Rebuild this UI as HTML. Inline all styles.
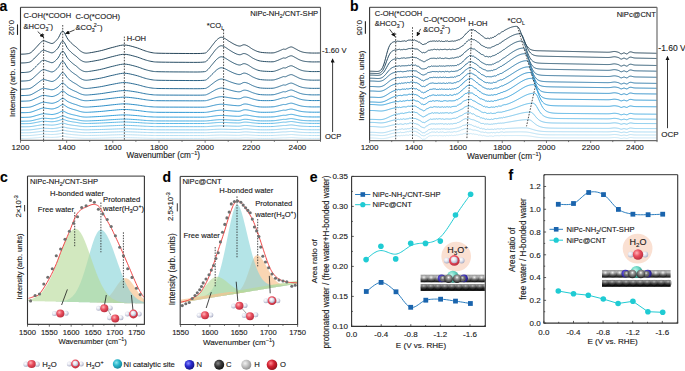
<!DOCTYPE html>
<html><head><meta charset="utf-8"><style>
html,body{margin:0;padding:0;background:#fff;}
svg{display:block;}
text{font-family:"Liberation Sans", sans-serif; stroke:#1a1a1a; stroke-width:0.22px; stroke-opacity:0.6;}
</style></head><body>
<svg width="685" height="371" viewBox="0 0 685 371" font-family='"Liberation Sans", sans-serif'>
<defs>
<marker id="ah" viewBox="0 0 10 10" refX="9" refY="5" markerWidth="4.2" markerHeight="4.2" orient="auto-start-reverse" markerUnits="userSpaceOnUse"><path d="M0 0 L10 5 L0 10 z" fill="#111"/></marker>
<radialGradient id="gO" cx="0.38" cy="0.35" r="0.7"><stop offset="0" stop-color="#ffb4b8"/><stop offset="0.45" stop-color="#ea5060"/><stop offset="1" stop-color="#b82a3a"/></radialGradient>
<radialGradient id="gH" cx="0.38" cy="0.35" r="0.7"><stop offset="0" stop-color="#ffffff"/><stop offset="0.45" stop-color="#e4e6f0"/><stop offset="1" stop-color="#a4a8c0"/></radialGradient>
<radialGradient id="gNi" cx="0.38" cy="0.35" r="0.7"><stop offset="0" stop-color="#8fe6ee"/><stop offset="0.45" stop-color="#2ab8cc"/><stop offset="1" stop-color="#157f95"/></radialGradient>
<radialGradient id="gN" cx="0.38" cy="0.35" r="0.7"><stop offset="0" stop-color="#8a8cff"/><stop offset="0.45" stop-color="#2a2ad0"/><stop offset="1" stop-color="#14147a"/></radialGradient>
<radialGradient id="gC" cx="0.38" cy="0.35" r="0.7"><stop offset="0" stop-color="#8a8a8a"/><stop offset="0.45" stop-color="#3a3a3a"/><stop offset="1" stop-color="#111111"/></radialGradient>
<radialGradient id="gHl" cx="0.38" cy="0.35" r="0.7"><stop offset="0" stop-color="#f2f2f2"/><stop offset="0.45" stop-color="#c4c4c4"/><stop offset="1" stop-color="#8a8a8a"/></radialGradient>
<radialGradient id="gOl" cx="0.38" cy="0.35" r="0.7"><stop offset="0" stop-color="#ff8a90"/><stop offset="0.45" stop-color="#d42232"/><stop offset="1" stop-color="#8a1018"/></radialGradient>
<radialGradient id="gCs" cx="0.38" cy="0.35" r="0.7"><stop offset="0" stop-color="#b0b0b0"/><stop offset="0.45" stop-color="#555555"/><stop offset="1" stop-color="#1a1a1a"/></radialGradient>
<radialGradient id="gNis" cx="0.38" cy="0.35" r="0.7"><stop offset="0" stop-color="#c4f5ea"/><stop offset="0.45" stop-color="#6cd9c6"/><stop offset="1" stop-color="#2a8f80"/></radialGradient>
<linearGradient id="gRowT" x1="0" y1="0" x2="0" y2="1"><stop offset="0" stop-color="#9a9a9a"/><stop offset="0.3" stop-color="#c0c0c0"/><stop offset="0.65" stop-color="#5a5a5a"/><stop offset="1" stop-color="#0e0e0e"/></linearGradient>
<linearGradient id="gRowB" x1="0" y1="0" x2="0" y2="1"><stop offset="0" stop-color="#808080"/><stop offset="0.25" stop-color="#8c8c8c"/><stop offset="0.6" stop-color="#262626"/><stop offset="1" stop-color="#000"/></linearGradient>
<radialGradient id="gSphT" cx="0.45" cy="0.35" r="0.6"><stop offset="0" stop-color="#ffffff" stop-opacity="0.85"/><stop offset="0.3" stop-color="#d0d0d0" stop-opacity="0.5"/><stop offset="0.75" stop-color="#505050" stop-opacity="0.1"/><stop offset="1" stop-color="#000" stop-opacity="0.35"/></radialGradient>
<radialGradient id="gSphB" cx="0.45" cy="0.3" r="0.62"><stop offset="0" stop-color="#e0e0e0" stop-opacity="0.55"/><stop offset="0.4" stop-color="#808080" stop-opacity="0.2"/><stop offset="1" stop-color="#000" stop-opacity="0.4"/></radialGradient>
<radialGradient id="gSphC" cx="0.5" cy="0.35" r="0.6"><stop offset="0" stop-color="#ffffff"/><stop offset="0.3" stop-color="#a0a0a0"/><stop offset="0.75" stop-color="#555"/><stop offset="1" stop-color="#2a2a2a"/></radialGradient>
<radialGradient id="gN2" cx="0.4" cy="0.4" r="0.65"><stop offset="0" stop-color="#7a6ae0"/><stop offset="0.6" stop-color="#3a2eb0"/><stop offset="1" stop-color="#1c1670"/></radialGradient>
</defs>
<rect width="685" height="371" fill="#fff"/>
<path d="M20.5 138.4 L21.14 138.4 L22.04 138.4 L23.1 138.39 L24.22 138.39 L25.31 138.38 L26.27 138.37 L27.09 138.36 L27.85 138.36 L28.58 138.35 L29.3 138.33 L30.06 138.3 L30.88 138.26 L31.79 138.2 L32.76 138.12 L33.77 138.03 L34.77 137.94 L35.75 137.85 L36.65 137.77 L37.51 137.69 L38.35 137.61 L39.15 137.53 L39.91 137.45 L40.62 137.39 L41.27 137.34 L41.82 137.3 L42.28 137.27 L42.68 137.26 L43.08 137.25 L43.52 137.24 L44.04 137.24 L44.65 137.25 L45.3 137.27 L46 137.3 L46.72 137.33 L47.46 137.35 L48.19 137.37 L48.93 137.4 L49.68 137.42 L50.44 137.45 L51.22 137.47 L52.01 137.48 L52.81 137.46 L53.63 137.42 L54.47 137.37 L55.33 137.3 L56.19 137.22 L57.05 137.14 L57.88 137.05 L58.7 136.94 L59.51 136.8 L60.31 136.66 L61.11 136.53 L61.91 136.43 L62.73 136.4 L63.57 136.44 L64.42 136.54 L65.28 136.68 L66.14 136.83 L66.99 136.98 L67.81 137.1 L68.61 137.19 L69.41 137.27 L70.19 137.34 L70.95 137.41 L71.7 137.47 L72.42 137.53 L73.11 137.59 L73.77 137.63 L74.41 137.68 L75.05 137.72 L75.69 137.76 L76.35 137.81 L77.03 137.86 L77.71 137.92 L78.41 137.98 L79.11 138.04 L79.81 138.09 L80.5 138.14 L81.18 138.18 L81.85 138.22 L82.52 138.25 L83.2 138.28 L83.91 138.3 L84.65 138.31 L85.37 138.32 L86.04 138.33 L86.73 138.33 L87.53 138.32 L88.5 138.31 L89.73 138.3 L91.28 138.27 L93.1 138.25 L95.1 138.22 L97.18 138.18 L99.27 138.14 L101.27 138.1 L103.19 138.06 L105.12 138.02 L107.04 137.97 L108.96 137.92 L110.88 137.87 L112.81 137.83 L114.73 137.78 L116.65 137.74 L118.58 137.7 L120.5 137.66 L122.42 137.63 L124.35 137.63 L126.3 137.64 L128.28 137.66 L130.26 137.7 L132.21 137.75 L134.1 137.8 L135.88 137.84 L137.58 137.89 L139.22 137.94 L140.79 138 L142.29 138.05 L143.74 138.1 L145.12 138.14 L146.4 138.17 L147.59 138.21 L148.72 138.23 L149.82 138.26 L150.91 138.28 L152.04 138.3 L153.01 138.31 L153.75 138.32 L154.49 138.33 L155.46 138.34 L156.87 138.34 L158.96 138.35 L161.9 138.35 L165.54 138.36 L169.63 138.36 L173.92 138.37 L178.14 138.37 L182.04 138.37 L185.82 138.38 L189.73 138.38 L193.58 138.39 L197.17 138.39 L200.31 138.39 L202.81 138.39 L204.51 138.39 L205.54 138.38 L206.12 138.37 L206.48 138.36 L206.84 138.35 L207.42 138.34 L208.19 138.32 L208.96 138.29 L209.73 138.27 L210.5 138.24 L211.27 138.21 L212.04 138.19 L212.81 138.16 L213.59 138.13 L214.38 138.11 L215.15 138.08 L215.91 138.06 L216.65 138.04 L217.38 138.02 L218.08 138 L218.77 137.99 L219.46 137.98 L220.13 137.97 L220.81 137.97 L221.47 137.96 L222.11 137.97 L222.74 137.97 L223.38 137.98 L224.04 137.99 L224.73 138 L225.45 138.01 L226.18 138.02 L226.92 138.03 L227.7 138.05 L228.5 138.06 L229.35 138.08 L230.25 138.09 L231.23 138.11 L232.23 138.12 L233.24 138.14 L234.21 138.15 L235.12 138.16 L235.96 138.17 L236.76 138.18 L237.52 138.19 L238.27 138.19 L239 138.18 L239.73 138.16 L240.45 138.13 L241.16 138.07 L241.85 138.01 L242.53 137.95 L243.21 137.9 L243.88 137.87 L244.53 137.85 L245.14 137.84 L245.75 137.84 L246.37 137.85 L247.05 137.87 L247.81 137.89 L248.65 137.92 L249.55 137.97 L250.5 138.02 L251.5 138.07 L252.53 138.12 L253.58 138.17 L254.61 138.21 L255.63 138.25 L256.68 138.29 L257.81 138.33 L259.07 138.35 L260.5 138.37 L262.24 138.39 L264.26 138.39 L266.41 138.38 L268.53 138.37 L270.46 138.36 L272.04 138.35 L273.21 138.33 L274.11 138.31 L274.81 138.28 L275.41 138.25 L275.99 138.22 L276.65 138.19 L277.39 138.16 L278.12 138.12 L278.85 138.08 L279.54 138.04 L280.2 138 L280.81 137.97 L281.36 137.94 L281.87 137.91 L282.34 137.88 L282.77 137.86 L283.18 137.84 L283.58 137.83 L283.92 137.83 L284.21 137.83 L284.47 137.85 L284.74 137.86 L285.05 137.86 L285.42 137.85 L285.88 137.83 L286.41 137.8 L286.97 137.76 L287.54 137.72 L288.11 137.68 L288.65 137.65 L289.16 137.62 L289.64 137.59 L290.11 137.57 L290.59 137.56 L291.1 137.55 L291.65 137.56 L292.25 137.58 L292.88 137.61 L293.54 137.65 L294.22 137.7 L294.9 137.75 L295.58 137.8 L296.25 137.85 L296.93 137.9 L297.61 137.95 L298.3 138 L299.01 138.05 L299.73 138.09 L300.45 138.13 L301.15 138.16 L301.87 138.19 L302.62 138.22 L303.44 138.25 L304.35 138.27 L305.34 138.29 L306.4 138.31 L307.52 138.33 L308.71 138.34 L309.96 138.36 L311.27 138.37 L312.78 138.37 L314.52 138.37 L316.32 138.37 L318.02 138.37 L319.47 138.37 L320.5 138.37" stroke="#c8e7f7" stroke-width="1.0" fill="none"/>
<path d="M20.5 135.6 L21.14 135.6 L22.04 135.6 L23.1 135.59 L24.22 135.59 L25.31 135.58 L26.27 135.57 L27.09 135.56 L27.85 135.55 L28.58 135.54 L29.3 135.52 L30.06 135.49 L30.88 135.44 L31.79 135.37 L32.76 135.28 L33.77 135.18 L34.77 135.07 L35.75 134.96 L36.65 134.87 L37.51 134.78 L38.35 134.68 L39.15 134.59 L39.91 134.51 L40.62 134.44 L41.27 134.38 L41.82 134.33 L42.28 134.3 L42.68 134.28 L43.08 134.27 L43.52 134.27 L44.04 134.27 L44.65 134.28 L45.3 134.3 L46 134.33 L46.72 134.36 L47.46 134.39 L48.19 134.42 L48.93 134.44 L49.68 134.47 L50.44 134.5 L51.22 134.53 L52.01 134.53 L52.81 134.51 L53.63 134.47 L54.47 134.41 L55.33 134.33 L56.19 134.24 L57.05 134.15 L57.88 134.04 L58.7 133.92 L59.51 133.76 L60.31 133.59 L61.11 133.44 L61.91 133.33 L62.73 133.29 L63.57 133.34 L64.42 133.46 L65.28 133.61 L66.14 133.79 L66.99 133.96 L67.81 134.09 L68.61 134.19 L69.41 134.29 L70.19 134.37 L70.95 134.45 L71.7 134.52 L72.42 134.59 L73.11 134.65 L73.77 134.71 L74.41 134.76 L75.05 134.81 L75.69 134.86 L76.35 134.91 L77.03 134.97 L77.71 135.04 L78.41 135.11 L79.11 135.17 L79.81 135.24 L80.5 135.29 L81.18 135.34 L81.85 135.38 L82.52 135.41 L83.2 135.45 L83.91 135.47 L84.65 135.49 L85.37 135.5 L86.04 135.51 L86.73 135.51 L87.53 135.5 L88.5 135.49 L89.73 135.47 L91.28 135.44 L93.1 135.41 L95.1 135.38 L97.18 135.34 L99.27 135.29 L101.27 135.25 L103.19 135.2 L105.12 135.14 L107.04 135.09 L108.96 135.03 L110.88 134.97 L112.81 134.92 L114.73 134.88 L116.65 134.82 L118.58 134.77 L120.5 134.73 L122.42 134.7 L124.35 134.69 L126.3 134.71 L128.28 134.74 L130.26 134.78 L132.21 134.83 L134.1 134.89 L135.88 134.94 L137.58 134.99 L139.22 135.05 L140.79 135.11 L142.29 135.17 L143.74 135.23 L145.12 135.28 L146.4 135.32 L147.59 135.36 L148.72 135.39 L149.82 135.41 L150.91 135.44 L152.04 135.46 L153.01 135.48 L153.75 135.49 L154.49 135.5 L155.46 135.5 L156.87 135.51 L158.96 135.52 L161.9 135.52 L165.54 135.53 L169.63 135.53 L173.92 135.54 L178.14 135.54 L182.04 135.54 L185.82 135.55 L189.73 135.55 L193.58 135.56 L197.17 135.56 L200.31 135.56 L202.81 135.56 L204.51 135.55 L205.54 135.55 L206.12 135.54 L206.48 135.53 L206.84 135.51 L207.42 135.49 L208.19 135.47 L208.96 135.44 L209.73 135.41 L210.5 135.38 L211.27 135.34 L212.04 135.31 L212.81 135.28 L213.59 135.25 L214.38 135.22 L215.15 135.19 L215.91 135.16 L216.65 135.13 L217.38 135.11 L218.08 135.09 L218.77 135.07 L219.46 135.06 L220.13 135.05 L220.81 135.04 L221.47 135.04 L222.11 135.05 L222.74 135.05 L223.38 135.06 L224.04 135.07 L224.73 135.08 L225.45 135.09 L226.18 135.11 L226.92 135.12 L227.7 135.14 L228.5 135.16 L229.35 135.18 L230.25 135.19 L231.23 135.21 L232.23 135.23 L233.24 135.25 L234.21 135.27 L235.12 135.28 L235.96 135.29 L236.76 135.3 L237.52 135.31 L238.27 135.31 L239 135.3 L239.73 135.28 L240.45 135.23 L241.16 135.16 L241.85 135.09 L242.53 135.01 L243.21 134.94 L243.88 134.9 L244.53 134.88 L245.14 134.87 L245.75 134.87 L246.37 134.88 L247.05 134.9 L247.81 134.93 L248.65 134.97 L249.55 135.02 L250.5 135.09 L251.5 135.15 L252.53 135.22 L253.58 135.27 L254.61 135.32 L255.63 135.38 L256.68 135.42 L257.81 135.47 L259.07 135.5 L260.5 135.53 L262.24 135.54 L264.26 135.55 L266.41 135.54 L268.53 135.53 L270.46 135.52 L272.04 135.5 L273.21 135.48 L274.11 135.45 L274.81 135.41 L275.41 135.38 L275.99 135.34 L276.65 135.3 L277.39 135.26 L278.12 135.21 L278.85 135.16 L279.54 135.12 L280.2 135.07 L280.81 135.03 L281.36 134.99 L281.87 134.95 L282.34 134.92 L282.77 134.89 L283.18 134.87 L283.58 134.85 L283.92 134.85 L284.21 134.86 L284.47 134.87 L284.74 134.89 L285.05 134.89 L285.42 134.88 L285.88 134.86 L286.41 134.81 L286.97 134.76 L287.54 134.71 L288.11 134.67 L288.65 134.63 L289.16 134.6 L289.64 134.56 L290.11 134.54 L290.59 134.52 L291.1 134.51 L291.65 134.51 L292.25 134.54 L292.88 134.58 L293.54 134.64 L294.22 134.7 L294.9 134.76 L295.58 134.82 L296.25 134.88 L296.93 134.94 L297.61 135 L298.3 135.06 L299.01 135.12 L299.73 135.17 L300.45 135.22 L301.15 135.26 L301.87 135.3 L302.62 135.33 L303.44 135.36 L304.35 135.39 L305.34 135.42 L306.4 135.44 L307.52 135.47 L308.71 135.48 L309.96 135.5 L311.27 135.51 L312.78 135.52 L314.52 135.52 L316.32 135.52 L318.02 135.51 L319.47 135.51 L320.5 135.51" stroke="#b7e0f4" stroke-width="1.0" fill="none"/>
<path d="M20.5 132.8 L21.14 132.8 L22.04 132.79 L23.1 132.79 L24.22 132.79 L25.31 132.78 L26.27 132.76 L27.09 132.75 L27.85 132.74 L28.58 132.73 L29.3 132.71 L30.06 132.67 L30.88 132.62 L31.79 132.54 L32.76 132.43 L33.77 132.32 L34.77 132.2 L35.75 132.08 L36.65 131.97 L37.51 131.87 L38.35 131.76 L39.15 131.66 L39.91 131.56 L40.62 131.48 L41.27 131.41 L41.82 131.36 L42.28 131.33 L42.68 131.31 L43.08 131.29 L43.52 131.29 L44.04 131.29 L44.65 131.3 L45.3 131.33 L46 131.36 L46.72 131.39 L47.46 131.43 L48.19 131.46 L48.93 131.49 L49.68 131.52 L50.44 131.56 L51.22 131.58 L52.01 131.59 L52.81 131.57 L53.63 131.52 L54.47 131.45 L55.33 131.36 L56.19 131.26 L57.05 131.15 L57.88 131.04 L58.7 130.89 L59.51 130.71 L60.31 130.52 L61.11 130.35 L61.91 130.23 L62.73 130.19 L63.57 130.24 L64.42 130.37 L65.28 130.55 L66.14 130.75 L66.99 130.94 L67.81 131.09 L68.61 131.2 L69.41 131.31 L70.19 131.4 L70.95 131.49 L71.7 131.57 L72.42 131.65 L73.11 131.72 L73.77 131.78 L74.41 131.84 L75.05 131.9 L75.69 131.95 L76.35 132.01 L77.03 132.08 L77.71 132.16 L78.41 132.24 L79.11 132.31 L79.81 132.38 L80.5 132.44 L81.18 132.49 L81.85 132.54 L82.52 132.58 L83.2 132.62 L83.91 132.64 L84.65 132.67 L85.37 132.68 L86.04 132.68 L86.73 132.68 L87.53 132.68 L88.5 132.66 L89.73 132.64 L91.28 132.61 L93.1 132.58 L95.1 132.54 L97.18 132.49 L99.27 132.44 L101.27 132.39 L103.19 132.33 L105.12 132.27 L107.04 132.21 L108.96 132.14 L110.88 132.08 L112.81 132.02 L114.73 131.97 L116.65 131.91 L118.58 131.85 L120.5 131.8 L122.42 131.77 L124.35 131.76 L126.3 131.77 L128.28 131.81 L130.26 131.86 L132.21 131.92 L134.1 131.98 L135.88 132.04 L137.58 132.1 L139.22 132.16 L140.79 132.23 L142.29 132.3 L143.74 132.37 L145.12 132.42 L146.4 132.46 L147.59 132.5 L148.72 132.54 L149.82 132.57 L150.91 132.6 L152.04 132.62 L153.01 132.64 L153.75 132.65 L154.49 132.66 L155.46 132.67 L156.87 132.68 L158.96 132.69 L161.9 132.69 L165.54 132.7 L169.63 132.7 L173.92 132.71 L178.14 132.71 L182.04 132.71 L185.82 132.72 L189.73 132.72 L193.58 132.73 L197.17 132.73 L200.31 132.73 L202.81 132.73 L204.51 132.72 L205.54 132.71 L206.12 132.7 L206.48 132.69 L206.84 132.67 L207.42 132.65 L208.19 132.62 L208.96 132.59 L209.73 132.55 L210.5 132.51 L211.27 132.48 L212.04 132.44 L212.81 132.4 L213.59 132.36 L214.38 132.33 L215.15 132.29 L215.91 132.26 L216.65 132.23 L217.38 132.2 L218.08 132.18 L218.77 132.16 L219.46 132.14 L220.13 132.13 L220.81 132.12 L221.47 132.12 L222.11 132.12 L222.74 132.13 L223.38 132.14 L224.04 132.15 L224.73 132.16 L225.45 132.18 L226.18 132.2 L226.92 132.22 L227.7 132.24 L228.5 132.26 L229.35 132.28 L230.25 132.3 L231.23 132.32 L232.23 132.34 L233.24 132.36 L234.21 132.38 L235.12 132.4 L235.96 132.41 L236.76 132.42 L237.52 132.43 L238.27 132.43 L239 132.42 L239.73 132.39 L240.45 132.33 L241.16 132.25 L241.85 132.16 L242.53 132.07 L243.21 131.99 L243.88 131.93 L244.53 131.91 L245.14 131.89 L245.75 131.9 L246.37 131.91 L247.05 131.93 L247.81 131.97 L248.65 132.01 L249.55 132.08 L250.5 132.15 L251.5 132.23 L252.53 132.31 L253.58 132.38 L254.61 132.44 L255.63 132.5 L256.68 132.56 L257.81 132.61 L259.07 132.66 L260.5 132.69 L262.24 132.7 L264.26 132.71 L266.41 132.7 L268.53 132.69 L270.46 132.67 L272.04 132.65 L273.21 132.62 L274.11 132.59 L274.81 132.55 L275.41 132.5 L275.99 132.46 L276.65 132.41 L277.39 132.36 L278.12 132.3 L278.85 132.25 L279.54 132.19 L280.2 132.13 L280.81 132.09 L281.36 132.04 L281.87 132 L282.34 131.96 L282.77 131.92 L283.18 131.9 L283.58 131.88 L283.92 131.87 L284.21 131.88 L284.47 131.9 L284.74 131.92 L285.05 131.92 L285.42 131.91 L285.88 131.88 L286.41 131.83 L286.97 131.77 L287.54 131.71 L288.11 131.65 L288.65 131.61 L289.16 131.57 L289.64 131.53 L290.11 131.5 L290.59 131.48 L291.1 131.47 L291.65 131.47 L292.25 131.51 L292.88 131.56 L293.54 131.62 L294.22 131.69 L294.9 131.77 L295.58 131.83 L296.25 131.9 L296.93 131.97 L297.61 132.05 L298.3 132.12 L299.01 132.19 L299.73 132.25 L300.45 132.31 L301.15 132.35 L301.87 132.4 L302.62 132.44 L303.44 132.48 L304.35 132.52 L305.34 132.55 L306.4 132.58 L307.52 132.6 L308.71 132.63 L309.96 132.64 L311.27 132.66 L312.78 132.67 L314.52 132.67 L316.32 132.67 L318.02 132.66 L319.47 132.66 L320.5 132.65" stroke="#a6d8f2" stroke-width="1.0" fill="none"/>
<path d="M20.5 130 L21.14 130 L22.04 129.99 L23.1 129.99 L24.22 129.98 L25.31 129.97 L26.27 129.96 L27.09 129.94 L27.85 129.93 L28.58 129.92 L29.3 129.89 L30.06 129.85 L30.88 129.79 L31.79 129.69 L32.76 129.58 L33.77 129.44 L34.77 129.3 L35.75 129.16 L36.65 129.04 L37.51 128.92 L38.35 128.8 L39.15 128.68 L39.91 128.57 L40.62 128.48 L41.27 128.4 L41.82 128.34 L42.28 128.3 L42.68 128.27 L43.08 128.26 L43.52 128.25 L44.04 128.25 L44.65 128.27 L45.3 128.3 L46 128.33 L46.72 128.37 L47.46 128.41 L48.19 128.45 L48.93 128.48 L49.68 128.52 L50.44 128.56 L51.22 128.59 L52.01 128.6 L52.81 128.58 L53.63 128.52 L54.47 128.44 L55.33 128.34 L56.19 128.22 L57.05 128.09 L57.88 127.96 L58.7 127.79 L59.51 127.58 L60.31 127.37 L61.11 127.17 L61.91 127.03 L62.73 126.98 L63.57 127.04 L64.42 127.19 L65.28 127.4 L66.14 127.63 L66.99 127.85 L67.81 128.02 L68.61 128.15 L69.41 128.27 L70.19 128.38 L70.95 128.48 L71.7 128.58 L72.42 128.67 L73.11 128.75 L73.77 128.82 L74.41 128.89 L75.05 128.95 L75.69 129.01 L76.35 129.09 L77.03 129.17 L77.71 129.25 L78.41 129.34 L79.11 129.43 L79.81 129.51 L80.5 129.58 L81.18 129.64 L81.85 129.69 L82.52 129.74 L83.2 129.78 L83.91 129.81 L84.65 129.84 L85.37 129.85 L86.04 129.86 L86.73 129.86 L87.53 129.85 L88.5 129.83 L89.73 129.81 L91.28 129.78 L93.1 129.74 L95.1 129.69 L97.18 129.63 L99.27 129.58 L101.27 129.52 L103.19 129.45 L105.12 129.38 L107.04 129.31 L108.96 129.23 L110.88 129.16 L112.81 129.09 L114.73 129.03 L116.65 128.96 L118.58 128.89 L120.5 128.84 L122.42 128.8 L124.35 128.79 L126.3 128.8 L128.28 128.84 L130.26 128.9 L132.21 128.97 L134.1 129.04 L135.88 129.11 L137.58 129.18 L139.22 129.25 L140.79 129.33 L142.29 129.41 L143.74 129.48 L145.12 129.55 L146.4 129.6 L147.59 129.64 L148.72 129.68 L149.82 129.72 L150.91 129.75 L152.04 129.78 L153.01 129.8 L153.75 129.82 L154.49 129.83 L155.46 129.84 L156.87 129.84 L158.96 129.85 L161.9 129.86 L165.54 129.87 L169.63 129.87 L173.92 129.87 L178.14 129.88 L182.04 129.88 L185.82 129.88 L189.73 129.89 L193.58 129.89 L197.17 129.9 L200.31 129.9 L202.81 129.89 L204.51 129.89 L205.54 129.88 L206.12 129.87 L206.48 129.85 L206.84 129.83 L207.42 129.81 L208.19 129.78 L208.96 129.74 L209.73 129.7 L210.5 129.65 L211.27 129.61 L212.04 129.56 L212.81 129.52 L213.59 129.48 L214.38 129.44 L215.15 129.39 L215.91 129.36 L216.65 129.32 L217.38 129.29 L218.08 129.27 L218.77 129.24 L219.46 129.23 L220.13 129.21 L220.81 129.2 L221.47 129.2 L222.11 129.2 L222.74 129.21 L223.38 129.22 L224.04 129.24 L224.73 129.25 L225.45 129.27 L226.18 129.29 L226.92 129.31 L227.7 129.33 L228.5 129.35 L229.35 129.38 L230.25 129.4 L231.23 129.43 L232.23 129.45 L233.24 129.48 L234.21 129.5 L235.12 129.51 L235.96 129.53 L236.76 129.54 L237.52 129.55 L238.27 129.55 L239 129.53 L239.73 129.5 L240.45 129.43 L241.16 129.34 L241.85 129.22 L242.53 129.11 L243.21 129.02 L243.88 128.95 L244.53 128.92 L245.14 128.91 L245.75 128.91 L246.37 128.92 L247.05 128.95 L247.81 128.99 L248.65 129.05 L249.55 129.12 L250.5 129.21 L251.5 129.31 L252.53 129.4 L253.58 129.48 L254.61 129.55 L255.63 129.62 L256.68 129.69 L257.81 129.75 L259.07 129.81 L260.5 129.84 L262.24 129.86 L264.26 129.87 L266.41 129.86 L268.53 129.84 L270.46 129.82 L272.04 129.8 L273.21 129.76 L274.11 129.72 L274.81 129.68 L275.41 129.63 L275.99 129.57 L276.65 129.52 L277.39 129.46 L278.12 129.4 L278.85 129.33 L279.54 129.26 L280.2 129.2 L280.81 129.14 L281.36 129.09 L281.87 129.04 L282.34 129 L282.77 128.96 L283.18 128.92 L283.58 128.9 L283.92 128.9 L284.21 128.91 L284.47 128.93 L284.74 128.95 L285.05 128.96 L285.42 128.94 L285.88 128.91 L286.41 128.85 L286.97 128.78 L287.54 128.71 L288.11 128.64 L288.65 128.59 L289.16 128.55 L289.64 128.5 L290.11 128.46 L290.59 128.44 L291.1 128.42 L291.65 128.43 L292.25 128.47 L292.88 128.53 L293.54 128.6 L294.22 128.69 L294.9 128.77 L295.58 128.85 L296.25 128.93 L296.93 129.01 L297.61 129.1 L298.3 129.18 L299.01 129.26 L299.73 129.33 L300.45 129.4 L301.15 129.45 L301.87 129.51 L302.62 129.55 L303.44 129.6 L304.35 129.64 L305.34 129.68 L306.4 129.71 L307.52 129.74 L308.71 129.77 L309.96 129.79 L311.27 129.8 L312.78 129.81 L314.52 129.81 L316.32 129.81 L318.02 129.81 L319.47 129.8 L320.5 129.8" stroke="#90cfef" stroke-width="1.0" fill="none"/>
<path d="M20.5 126.8 L21.14 126.8 L22.04 126.79 L23.1 126.79 L24.22 126.78 L25.31 126.77 L26.27 126.75 L27.09 126.73 L27.85 126.72 L28.58 126.7 L29.3 126.67 L30.06 126.62 L30.88 126.54 L31.79 126.43 L32.76 126.29 L33.77 126.13 L34.77 125.96 L35.75 125.8 L36.65 125.65 L37.51 125.5 L38.35 125.36 L39.15 125.22 L39.91 125.08 L40.62 124.97 L41.27 124.88 L41.82 124.81 L42.28 124.76 L42.68 124.73 L43.08 124.71 L43.52 124.7 L44.04 124.7 L44.65 124.72 L45.3 124.75 L46 124.8 L46.72 124.85 L47.46 124.9 L48.19 124.93 L48.93 124.98 L49.68 125.02 L50.44 125.07 L51.22 125.11 L52.01 125.12 L52.81 125.09 L53.63 125.02 L54.47 124.92 L55.33 124.8 L56.19 124.66 L57.05 124.51 L57.88 124.35 L58.7 124.15 L59.51 123.9 L60.31 123.64 L61.11 123.4 L61.91 123.23 L62.73 123.17 L63.57 123.25 L64.42 123.43 L65.28 123.67 L66.14 123.95 L66.99 124.21 L67.81 124.42 L68.61 124.58 L69.41 124.73 L70.19 124.86 L70.95 124.98 L71.7 125.09 L72.42 125.2 L73.11 125.3 L73.77 125.38 L74.41 125.46 L75.05 125.54 L75.69 125.61 L76.35 125.7 L77.03 125.79 L77.71 125.9 L78.41 126.01 L79.11 126.11 L79.81 126.21 L80.5 126.29 L81.18 126.36 L81.85 126.43 L82.52 126.48 L83.2 126.53 L83.91 126.57 L84.65 126.6 L85.37 126.62 L86.04 126.63 L86.73 126.62 L87.53 126.61 L88.5 126.59 L89.73 126.57 L91.28 126.53 L93.1 126.48 L95.1 126.42 L97.18 126.35 L99.27 126.29 L101.27 126.21 L103.19 126.14 L105.12 126.05 L107.04 125.96 L108.96 125.87 L110.88 125.78 L112.81 125.71 L114.73 125.63 L116.65 125.54 L118.58 125.47 L120.5 125.4 L122.42 125.35 L124.35 125.34 L126.3 125.36 L128.28 125.4 L130.26 125.47 L132.21 125.56 L134.1 125.64 L135.88 125.72 L137.58 125.8 L139.22 125.9 L140.79 125.99 L142.29 126.09 L143.74 126.17 L145.12 126.25 L146.4 126.31 L147.59 126.37 L148.72 126.41 L149.82 126.46 L150.91 126.49 L152.04 126.52 L153.01 126.55 L153.75 126.57 L154.49 126.58 L155.46 126.6 L156.87 126.6 L158.96 126.61 L161.9 126.62 L165.54 126.63 L169.63 126.63 L173.92 126.64 L178.14 126.64 L182.04 126.65 L185.82 126.65 L189.73 126.66 L193.58 126.66 L197.17 126.66 L200.31 126.66 L202.81 126.66 L204.51 126.65 L205.54 126.64 L206.12 126.62 L206.48 126.61 L206.84 126.58 L207.42 126.55 L208.19 126.51 L208.96 126.46 L209.73 126.41 L210.5 126.36 L211.27 126.3 L212.04 126.25 L212.81 126.19 L213.59 126.14 L214.38 126.09 L215.15 126.03 L215.91 125.99 L216.65 125.94 L217.38 125.91 L218.08 125.88 L218.77 125.85 L219.46 125.82 L220.13 125.81 L220.81 125.8 L221.47 125.79 L222.11 125.8 L222.74 125.81 L223.38 125.82 L224.04 125.84 L224.73 125.85 L225.45 125.87 L226.18 125.9 L226.92 125.93 L227.7 125.95 L228.5 125.98 L229.35 126.01 L230.25 126.04 L231.23 126.07 L232.23 126.11 L233.24 126.14 L234.21 126.16 L235.12 126.18 L235.96 126.2 L236.76 126.22 L237.52 126.23 L238.27 126.23 L239 126.21 L239.73 126.17 L240.45 126.09 L241.16 125.98 L241.85 125.84 L242.53 125.71 L243.21 125.6 L243.88 125.53 L244.53 125.49 L245.14 125.47 L245.75 125.47 L246.37 125.49 L247.05 125.53 L247.81 125.57 L248.65 125.64 L249.55 125.73 L250.5 125.84 L251.5 125.95 L252.53 126.06 L253.58 126.15 L254.61 126.24 L255.63 126.33 L256.68 126.41 L257.81 126.49 L259.07 126.55 L260.5 126.59 L262.24 126.61 L264.26 126.62 L266.41 126.61 L268.53 126.59 L270.46 126.57 L272.04 126.54 L273.21 126.5 L274.11 126.45 L274.81 126.4 L275.41 126.34 L275.99 126.28 L276.65 126.21 L277.39 126.14 L278.12 126.07 L278.85 125.99 L279.54 125.91 L280.2 125.83 L280.81 125.77 L281.36 125.71 L281.87 125.65 L282.34 125.59 L282.77 125.55 L283.18 125.51 L283.58 125.48 L283.92 125.47 L284.21 125.49 L284.47 125.51 L284.74 125.54 L285.05 125.55 L285.42 125.53 L285.88 125.49 L286.41 125.42 L286.97 125.34 L287.54 125.25 L288.11 125.17 L288.65 125.11 L289.16 125.06 L289.64 125.01 L290.11 124.96 L290.59 124.93 L291.1 124.92 L291.65 124.93 L292.25 124.97 L292.88 125.04 L293.54 125.13 L294.22 125.23 L294.9 125.33 L295.58 125.42 L296.25 125.51 L296.93 125.61 L297.61 125.71 L298.3 125.81 L299.01 125.91 L299.73 125.99 L300.45 126.06 L301.15 126.13 L301.87 126.19 L302.62 126.25 L303.44 126.3 L304.35 126.35 L305.34 126.39 L306.4 126.43 L307.52 126.47 L308.71 126.5 L309.96 126.52 L311.27 126.54 L312.78 126.55 L314.52 126.56 L316.32 126.55 L318.02 126.55 L319.47 126.54 L320.5 126.54" stroke="#76c4eb" stroke-width="1.0" fill="none"/>
<path d="M20.5 123.7 L21.14 123.7 L22.04 123.69 L23.1 123.69 L24.22 123.68 L25.31 123.66 L26.27 123.64 L27.09 123.62 L27.85 123.6 L28.58 123.58 L29.3 123.55 L30.06 123.49 L30.88 123.4 L31.79 123.27 L32.76 123.1 L33.77 122.92 L34.77 122.72 L35.75 122.53 L36.65 122.35 L37.51 122.19 L38.35 122.02 L39.15 121.85 L39.91 121.7 L40.62 121.56 L41.27 121.45 L41.82 121.38 L42.28 121.32 L42.68 121.28 L43.08 121.26 L43.52 121.25 L44.04 121.25 L44.65 121.27 L45.3 121.31 L46 121.36 L46.72 121.42 L47.46 121.48 L48.19 121.52 L48.93 121.57 L49.68 121.63 L50.44 121.68 L51.22 121.72 L52.01 121.73 L52.81 121.7 L53.63 121.62 L54.47 121.51 L55.33 121.37 L56.19 121.2 L57.05 121.02 L57.88 120.84 L58.7 120.61 L59.51 120.31 L60.31 120.01 L61.11 119.73 L61.91 119.54 L62.73 119.46 L63.57 119.55 L64.42 119.76 L65.28 120.05 L66.14 120.37 L66.99 120.68 L67.81 120.92 L68.61 121.11 L69.41 121.28 L70.19 121.43 L70.95 121.57 L71.7 121.7 L72.42 121.83 L73.11 121.95 L73.77 122.04 L74.41 122.13 L75.05 122.22 L75.69 122.31 L76.35 122.41 L77.03 122.52 L77.71 122.65 L78.41 122.77 L79.11 122.89 L79.81 123 L80.5 123.1 L81.18 123.19 L81.85 123.26 L82.52 123.33 L83.2 123.39 L83.91 123.43 L84.65 123.46 L85.37 123.48 L86.04 123.49 L86.73 123.49 L87.53 123.48 L88.5 123.46 L89.73 123.42 L91.28 123.38 L93.1 123.32 L95.1 123.25 L97.18 123.18 L99.27 123.1 L101.27 123.01 L103.19 122.92 L105.12 122.82 L107.04 122.72 L108.96 122.61 L110.88 122.51 L112.81 122.42 L114.73 122.33 L116.65 122.23 L118.58 122.14 L120.5 122.06 L122.42 122.01 L124.35 121.99 L126.3 122.01 L128.28 122.07 L130.26 122.15 L132.21 122.24 L134.1 122.34 L135.88 122.44 L137.58 122.53 L139.22 122.64 L140.79 122.75 L142.29 122.86 L143.74 122.96 L145.12 123.05 L146.4 123.12 L147.59 123.19 L148.72 123.24 L149.82 123.29 L150.91 123.33 L152.04 123.37 L153.01 123.4 L153.75 123.42 L154.49 123.44 L155.46 123.45 L156.87 123.46 L158.96 123.48 L161.9 123.49 L165.54 123.49 L169.63 123.5 L173.92 123.5 L178.14 123.51 L182.04 123.51 L185.82 123.52 L189.73 123.52 L193.58 123.53 L197.17 123.53 L200.31 123.53 L202.81 123.52 L204.51 123.51 L205.54 123.5 L206.12 123.48 L206.48 123.45 L206.84 123.42 L207.42 123.38 L208.19 123.33 L208.96 123.27 L209.73 123.2 L210.5 123.13 L211.27 123.06 L212.04 122.99 L212.81 122.92 L213.59 122.85 L214.38 122.78 L215.15 122.71 L215.91 122.65 L216.65 122.59 L217.38 122.55 L218.08 122.51 L218.77 122.47 L219.46 122.44 L220.13 122.42 L220.81 122.4 L221.47 122.4 L222.11 122.4 L222.74 122.41 L223.38 122.43 L224.04 122.45 L224.73 122.48 L225.45 122.5 L226.18 122.53 L226.92 122.57 L227.7 122.61 L228.5 122.64 L229.35 122.68 L230.25 122.72 L231.23 122.76 L232.23 122.81 L233.24 122.85 L234.21 122.88 L235.12 122.9 L235.96 122.93 L236.76 122.95 L237.52 122.96 L238.27 122.97 L239 122.95 L239.73 122.9 L240.45 122.81 L241.16 122.68 L241.85 122.53 L242.53 122.38 L243.21 122.25 L243.88 122.16 L244.53 122.12 L245.14 122.1 L245.75 122.11 L246.37 122.13 L247.05 122.17 L247.81 122.23 L248.65 122.31 L249.55 122.42 L250.5 122.54 L251.5 122.68 L252.53 122.8 L253.58 122.92 L254.61 123.02 L255.63 123.12 L256.68 123.22 L257.81 123.31 L259.07 123.38 L260.5 123.43 L262.24 123.46 L264.26 123.47 L266.41 123.46 L268.53 123.44 L270.46 123.41 L272.04 123.38 L273.21 123.34 L274.11 123.29 L274.81 123.22 L275.41 123.15 L275.99 123.08 L276.65 123.01 L277.39 122.93 L278.12 122.84 L278.85 122.75 L279.54 122.66 L280.2 122.57 L280.81 122.49 L281.36 122.42 L281.87 122.35 L282.34 122.29 L282.77 122.24 L283.18 122.19 L283.58 122.16 L283.92 122.15 L284.21 122.17 L284.47 122.2 L284.74 122.23 L285.05 122.24 L285.42 122.22 L285.88 122.17 L286.41 122.09 L286.97 121.99 L287.54 121.9 L288.11 121.81 L288.65 121.74 L289.16 121.68 L289.64 121.62 L290.11 121.56 L290.59 121.53 L291.1 121.51 L291.65 121.52 L292.25 121.57 L292.88 121.65 L293.54 121.75 L294.22 121.87 L294.9 121.98 L295.58 122.09 L296.25 122.2 L296.93 122.31 L297.61 122.43 L298.3 122.54 L299.01 122.65 L299.73 122.75 L300.45 122.83 L301.15 122.91 L301.87 122.98 L302.62 123.05 L303.44 123.11 L304.35 123.16 L305.34 123.21 L306.4 123.26 L307.52 123.3 L308.71 123.34 L309.96 123.36 L311.27 123.38 L312.78 123.4 L314.52 123.4 L316.32 123.39 L318.02 123.39 L319.47 123.38 L320.5 123.38" stroke="#5ebae7" stroke-width="1.0" fill="none"/>
<path d="M20.5 121.2 L21.14 121.19 L22.04 121.19 L23.1 121.18 L24.22 121.17 L25.31 121.15 L26.27 121.13 L27.09 121.1 L27.85 121.08 L28.58 121.05 L29.3 121.01 L30.06 120.94 L30.88 120.83 L31.79 120.67 L32.76 120.46 L33.77 120.23 L34.77 119.99 L35.75 119.75 L36.65 119.53 L37.51 119.33 L38.35 119.12 L39.15 118.91 L39.91 118.72 L40.62 118.55 L41.27 118.42 L41.82 118.32 L42.28 118.25 L42.68 118.2 L43.08 118.18 L43.52 118.17 L44.04 118.17 L44.65 118.19 L45.3 118.24 L46 118.31 L46.72 118.38 L47.46 118.45 L48.19 118.5 L48.93 118.56 L49.68 118.63 L50.44 118.7 L51.22 118.75 L52.01 118.76 L52.81 118.73 L53.63 118.63 L54.47 118.49 L55.33 118.31 L56.19 118.11 L57.05 117.89 L57.88 117.66 L58.7 117.37 L59.51 117.01 L60.31 116.63 L61.11 116.29 L61.91 116.05 L62.73 115.96 L63.57 116.06 L64.42 116.32 L65.28 116.68 L66.14 117.08 L66.99 117.46 L67.81 117.76 L68.61 117.99 L69.41 118.2 L70.19 118.39 L70.95 118.57 L71.7 118.73 L72.42 118.89 L73.11 119.03 L73.77 119.15 L74.41 119.26 L75.05 119.37 L75.69 119.48 L76.35 119.61 L77.03 119.75 L77.71 119.9 L78.41 120.05 L79.11 120.2 L79.81 120.34 L80.5 120.46 L81.18 120.57 L81.85 120.66 L82.52 120.74 L83.2 120.81 L83.91 120.87 L84.65 120.91 L85.37 120.94 L86.04 120.95 L86.73 120.94 L87.53 120.93 L88.5 120.9 L89.73 120.86 L91.28 120.8 L93.1 120.73 L95.1 120.65 L97.18 120.55 L99.27 120.45 L101.27 120.35 L103.19 120.24 L105.12 120.11 L107.04 119.98 L108.96 119.85 L110.88 119.73 L112.81 119.62 L114.73 119.5 L116.65 119.38 L118.58 119.27 L120.5 119.17 L122.42 119.11 L124.35 119.08 L126.3 119.11 L128.28 119.18 L130.26 119.28 L132.21 119.4 L134.1 119.52 L135.88 119.64 L137.58 119.76 L139.22 119.89 L140.79 120.03 L142.29 120.16 L143.74 120.29 L145.12 120.4 L146.4 120.49 L147.59 120.57 L148.72 120.64 L149.82 120.7 L150.91 120.75 L152.04 120.8 L153.01 120.84 L153.75 120.86 L154.49 120.88 L155.46 120.9 L156.87 120.91 L158.96 120.93 L161.9 120.94 L165.54 120.95 L169.63 120.96 L173.92 120.96 L178.14 120.97 L182.04 120.97 L185.82 120.98 L189.73 120.98 L193.58 120.99 L197.17 121 L200.31 120.99 L202.81 120.99 L204.51 120.97 L205.54 120.95 L206.12 120.93 L206.48 120.9 L206.84 120.86 L207.42 120.81 L208.19 120.75 L208.96 120.67 L209.73 120.59 L210.5 120.5 L211.27 120.41 L212.04 120.33 L212.81 120.24 L213.59 120.16 L214.38 120.07 L215.15 119.99 L215.91 119.91 L216.65 119.84 L217.38 119.79 L218.08 119.73 L218.77 119.69 L219.46 119.65 L220.13 119.63 L220.81 119.61 L221.47 119.6 L222.11 119.61 L222.74 119.62 L223.38 119.65 L224.04 119.67 L224.73 119.7 L225.45 119.73 L226.18 119.77 L226.92 119.81 L227.7 119.86 L228.5 119.91 L229.35 119.95 L230.25 120 L231.23 120.05 L232.23 120.1 L233.24 120.15 L234.21 120.19 L235.12 120.23 L235.96 120.25 L236.76 120.28 L237.52 120.3 L238.27 120.3 L239 120.28 L239.73 120.23 L240.45 120.13 L241.16 119.97 L241.85 119.8 L242.53 119.62 L243.21 119.47 L243.88 119.37 L244.53 119.32 L245.14 119.3 L245.75 119.31 L246.37 119.33 L247.05 119.38 L247.81 119.45 L248.65 119.55 L249.55 119.68 L250.5 119.83 L251.5 119.98 L252.53 120.13 L253.58 120.27 L254.61 120.39 L255.63 120.51 L256.68 120.63 L257.81 120.73 L259.07 120.81 L260.5 120.88 L262.24 120.91 L264.26 120.92 L266.41 120.91 L268.53 120.89 L270.46 120.85 L272.04 120.81 L273.21 120.76 L274.11 120.7 L274.81 120.62 L275.41 120.54 L275.99 120.46 L276.65 120.37 L277.39 120.27 L278.12 120.17 L278.85 120.06 L279.54 119.95 L280.2 119.84 L280.81 119.75 L281.36 119.67 L281.87 119.59 L282.34 119.51 L282.77 119.44 L283.18 119.39 L283.58 119.35 L283.92 119.34 L284.21 119.37 L284.47 119.4 L284.74 119.43 L285.05 119.44 L285.42 119.42 L285.88 119.36 L286.41 119.27 L286.97 119.15 L287.54 119.04 L288.11 118.93 L288.65 118.84 L289.16 118.77 L289.64 118.7 L290.11 118.64 L290.59 118.59 L291.1 118.57 L291.65 118.59 L292.25 118.65 L292.88 118.74 L293.54 118.86 L294.22 119 L294.9 119.14 L295.58 119.27 L296.25 119.4 L296.93 119.53 L297.61 119.67 L298.3 119.81 L299.01 119.94 L299.73 120.06 L300.45 120.16 L301.15 120.25 L301.87 120.34 L302.62 120.42 L303.44 120.49 L304.35 120.56 L305.34 120.62 L306.4 120.67 L307.52 120.72 L308.71 120.76 L309.96 120.79 L311.27 120.82 L312.78 120.83 L314.52 120.84 L316.32 120.83 L318.02 120.82 L319.47 120.81 L320.5 120.81" stroke="#49aee2" stroke-width="1.0" fill="none"/>
<path d="M20.5 117.4 L21.14 117.39 L22.04 117.39 L23.1 117.38 L24.22 117.36 L25.31 117.34 L26.27 117.31 L27.09 117.28 L27.85 117.26 L28.58 117.23 L29.3 117.17 L30.06 117.09 L30.88 116.96 L31.79 116.77 L32.76 116.52 L33.77 116.25 L34.77 115.96 L35.75 115.67 L36.65 115.41 L37.51 115.17 L38.35 114.92 L39.15 114.67 L39.91 114.45 L40.62 114.25 L41.27 114.09 L41.82 113.97 L42.28 113.89 L42.68 113.83 L43.08 113.8 L43.52 113.78 L44.04 113.79 L44.65 113.82 L45.3 113.87 L46 113.95 L46.72 114.04 L47.46 114.12 L48.19 114.19 L48.93 114.26 L49.68 114.34 L50.44 114.42 L51.22 114.48 L52.01 114.5 L52.81 114.45 L53.63 114.34 L54.47 114.17 L55.33 113.96 L56.19 113.72 L57.05 113.45 L57.88 113.18 L58.7 112.84 L59.51 112.4 L60.31 111.95 L61.11 111.54 L61.91 111.26 L62.73 111.15 L63.57 111.28 L64.42 111.59 L65.28 112.02 L66.14 112.49 L66.99 112.94 L67.81 113.3 L68.61 113.58 L69.41 113.83 L70.19 114.05 L70.95 114.26 L71.7 114.46 L72.42 114.64 L73.11 114.81 L73.77 114.96 L74.41 115.09 L75.05 115.22 L75.69 115.36 L76.35 115.5 L77.03 115.67 L77.71 115.85 L78.41 116.03 L79.11 116.21 L79.81 116.38 L80.5 116.52 L81.18 116.65 L81.85 116.76 L82.52 116.86 L83.2 116.94 L83.91 117.01 L84.65 117.06 L85.37 117.09 L86.04 117.1 L86.73 117.1 L87.53 117.08 L88.5 117.04 L89.73 117 L91.28 116.93 L93.1 116.84 L95.1 116.74 L97.18 116.63 L99.27 116.51 L101.27 116.39 L103.19 116.26 L105.12 116.11 L107.04 115.95 L108.96 115.8 L110.88 115.65 L112.81 115.51 L114.73 115.38 L116.65 115.24 L118.58 115.1 L120.5 114.99 L122.42 114.91 L124.35 114.88 L126.3 114.91 L128.28 114.99 L130.26 115.11 L132.21 115.25 L134.1 115.4 L135.88 115.54 L137.58 115.68 L139.22 115.84 L140.79 116 L142.29 116.17 L143.74 116.32 L145.12 116.45 L146.4 116.55 L147.59 116.65 L148.72 116.73 L149.82 116.8 L150.91 116.87 L152.04 116.92 L153.01 116.97 L153.75 117 L154.49 117.03 L155.46 117.04 L156.87 117.06 L158.96 117.08 L161.9 117.09 L165.54 117.1 L169.63 117.11 L173.92 117.12 L178.14 117.12 L182.04 117.13 L185.82 117.14 L189.73 117.15 L193.58 117.16 L197.17 117.16 L200.31 117.16 L202.81 117.15 L204.51 117.13 L205.54 117.11 L206.12 117.08 L206.48 117.04 L206.84 116.99 L207.42 116.93 L208.19 116.85 L208.96 116.76 L209.73 116.65 L210.5 116.54 L211.27 116.43 L212.04 116.33 L212.81 116.22 L213.59 116.11 L214.38 116 L215.15 115.9 L215.91 115.8 L216.65 115.72 L217.38 115.65 L218.08 115.58 L218.77 115.53 L219.46 115.48 L220.13 115.45 L220.81 115.43 L221.47 115.42 L222.11 115.43 L222.74 115.45 L223.38 115.47 L224.04 115.51 L224.73 115.54 L225.45 115.58 L226.18 115.63 L226.92 115.68 L227.7 115.74 L228.5 115.8 L229.35 115.86 L230.25 115.92 L231.23 115.98 L232.23 116.05 L233.24 116.11 L234.21 116.16 L235.12 116.2 L235.96 116.23 L236.76 116.27 L237.52 116.29 L238.27 116.3 L239 116.27 L239.73 116.21 L240.45 116.08 L241.16 115.89 L241.85 115.67 L242.53 115.45 L243.21 115.26 L243.88 115.14 L244.53 115.07 L245.14 115.05 L245.75 115.06 L246.37 115.09 L247.05 115.15 L247.81 115.24 L248.65 115.36 L249.55 115.52 L250.5 115.7 L251.5 115.9 L252.53 116.09 L253.58 116.25 L254.61 116.41 L255.63 116.56 L256.68 116.7 L257.81 116.83 L259.07 116.94 L260.5 117.01 L262.24 117.06 L264.26 117.07 L266.41 117.06 L268.53 117.03 L270.46 116.99 L272.04 116.94 L273.21 116.89 L274.11 116.81 L274.81 116.73 L275.41 116.63 L275.99 116.53 L276.65 116.43 L277.39 116.32 L278.12 116.2 L278.85 116.07 L279.54 115.94 L280.2 115.82 L280.81 115.71 L281.36 115.61 L281.87 115.52 L282.34 115.43 L282.77 115.35 L283.18 115.29 L283.58 115.25 L283.92 115.24 L284.21 115.26 L284.47 115.3 L284.74 115.34 L285.05 115.35 L285.42 115.33 L285.88 115.25 L286.41 115.14 L286.97 115.01 L287.54 114.88 L288.11 114.75 L288.65 114.65 L289.16 114.57 L289.64 114.48 L290.11 114.41 L290.59 114.36 L291.1 114.34 L291.65 114.35 L292.25 114.42 L292.88 114.53 L293.54 114.67 L294.22 114.83 L294.9 114.99 L295.58 115.15 L296.25 115.3 L296.93 115.46 L297.61 115.62 L298.3 115.78 L299.01 115.93 L299.73 116.07 L300.45 116.19 L301.15 116.3 L301.87 116.4 L302.62 116.49 L303.44 116.57 L304.35 116.65 L305.34 116.72 L306.4 116.78 L307.52 116.84 L308.71 116.89 L309.96 116.92 L311.27 116.95 L312.78 116.97 L314.52 116.97 L316.32 116.97 L318.02 116.96 L319.47 116.95 L320.5 116.94" stroke="#34a1dc" stroke-width="1.0" fill="none"/>
<path d="M20.5 112.7 L21.14 112.69 L22.04 112.68 L23.1 112.67 L24.22 112.66 L25.31 112.63 L26.27 112.59 L27.09 112.55 L27.85 112.52 L28.58 112.48 L29.3 112.41 L30.06 112.3 L30.88 112.13 L31.79 111.88 L32.76 111.57 L33.77 111.21 L34.77 110.84 L35.75 110.47 L36.65 110.14 L37.51 109.82 L38.35 109.5 L39.15 109.18 L39.91 108.89 L40.62 108.63 L41.27 108.43 L41.82 108.28 L42.28 108.17 L42.68 108.1 L43.08 108.06 L43.52 108.04 L44.04 108.04 L44.65 108.08 L45.3 108.15 L46 108.26 L46.72 108.37 L47.46 108.47 L48.19 108.56 L48.93 108.65 L49.68 108.76 L50.44 108.86 L51.22 108.94 L52.01 108.96 L52.81 108.9 L53.63 108.75 L54.47 108.54 L55.33 108.26 L56.19 107.95 L57.05 107.61 L57.88 107.26 L58.7 106.82 L59.51 106.26 L60.31 105.68 L61.11 105.15 L61.91 104.78 L62.73 104.64 L63.57 104.81 L64.42 105.21 L65.28 105.76 L66.14 106.37 L66.99 106.95 L67.81 107.42 L68.61 107.78 L69.41 108.1 L70.19 108.39 L70.95 108.66 L71.7 108.91 L72.42 109.15 L73.11 109.37 L73.77 109.56 L74.41 109.73 L75.05 109.9 L75.69 110.07 L76.35 110.26 L77.03 110.47 L77.71 110.71 L78.41 110.94 L79.11 111.18 L79.81 111.39 L80.5 111.58 L81.18 111.74 L81.85 111.88 L82.52 112.01 L83.2 112.12 L83.91 112.2 L84.65 112.27 L85.37 112.31 L86.04 112.32 L86.73 112.32 L87.53 112.3 L88.5 112.25 L89.73 112.19 L91.28 112.1 L93.1 112 L95.1 111.87 L97.18 111.72 L99.27 111.57 L101.27 111.41 L103.19 111.24 L105.12 111.05 L107.04 110.85 L108.96 110.65 L110.88 110.46 L112.81 110.28 L114.73 110.11 L116.65 109.92 L118.58 109.75 L120.5 109.6 L122.42 109.5 L124.35 109.47 L126.3 109.51 L128.28 109.62 L130.26 109.77 L132.21 109.95 L134.1 110.14 L135.88 110.32 L137.58 110.5 L139.22 110.71 L140.79 110.92 L142.29 111.13 L143.74 111.32 L145.12 111.49 L146.4 111.63 L147.59 111.75 L148.72 111.86 L149.82 111.95 L150.91 112.03 L152.04 112.11 L153.01 112.17 L153.75 112.21 L154.49 112.24 L155.46 112.26 L156.87 112.29 L158.96 112.31 L161.9 112.33 L165.54 112.34 L169.63 112.35 L173.92 112.36 L178.14 112.37 L182.04 112.38 L185.82 112.39 L189.73 112.4 L193.58 112.41 L197.17 112.42 L200.31 112.42 L202.81 112.4 L204.51 112.38 L205.54 112.35 L206.12 112.32 L206.48 112.27 L206.84 112.21 L207.42 112.13 L208.19 112.02 L208.96 111.9 L209.73 111.76 L210.5 111.62 L211.27 111.48 L212.04 111.34 L212.81 111.2 L213.59 111.06 L214.38 110.92 L215.15 110.79 L215.91 110.66 L216.65 110.55 L217.38 110.46 L218.08 110.38 L218.77 110.3 L219.46 110.24 L220.13 110.2 L220.81 110.17 L221.47 110.16 L222.11 110.17 L222.74 110.2 L223.38 110.23 L224.04 110.28 L224.73 110.32 L225.45 110.37 L226.18 110.44 L226.92 110.51 L227.7 110.58 L228.5 110.66 L229.35 110.73 L230.25 110.81 L231.23 110.89 L232.23 110.98 L233.24 111.06 L234.21 111.13 L235.12 111.18 L235.96 111.22 L236.76 111.27 L237.52 111.3 L238.27 111.31 L239 111.28 L239.73 111.2 L240.45 111.04 L241.16 110.8 L241.85 110.53 L242.53 110.26 L243.21 110.03 L243.88 109.87 L244.53 109.8 L245.14 109.77 L245.75 109.78 L246.37 109.83 L247.05 109.9 L247.81 110.01 L248.65 110.16 L249.55 110.36 L250.5 110.6 L251.5 110.84 L252.53 111.08 L253.58 111.29 L254.61 111.48 L255.63 111.67 L256.68 111.85 L257.81 112.01 L259.07 112.14 L260.5 112.24 L262.24 112.29 L264.26 112.31 L266.41 112.29 L268.53 112.26 L270.46 112.21 L272.04 112.16 L273.21 112.09 L274.11 112 L274.81 111.91 L275.41 111.8 L275.99 111.68 L276.65 111.56 L277.39 111.43 L278.12 111.28 L278.85 111.13 L279.54 110.98 L280.2 110.83 L280.81 110.7 L281.36 110.59 L281.87 110.47 L282.34 110.37 L282.77 110.27 L283.18 110.2 L283.58 110.15 L283.92 110.14 L284.21 110.17 L284.47 110.21 L284.74 110.26 L285.05 110.28 L285.42 110.25 L285.88 110.16 L286.41 110.03 L286.97 109.87 L287.54 109.71 L288.11 109.56 L288.65 109.44 L289.16 109.34 L289.64 109.24 L290.11 109.16 L290.59 109.09 L291.1 109.07 L291.65 109.09 L292.25 109.17 L292.88 109.3 L293.54 109.47 L294.22 109.66 L294.9 109.85 L295.58 110.03 L296.25 110.21 L296.93 110.4 L297.61 110.6 L298.3 110.79 L299.01 110.97 L299.73 111.13 L300.45 111.27 L301.15 111.4 L301.87 111.52 L302.62 111.63 L303.44 111.73 L304.35 111.82 L305.34 111.9 L306.4 111.98 L307.52 112.04 L308.71 112.1 L309.96 112.14 L311.27 112.17 L312.78 112.19 L314.52 112.2 L316.32 112.19 L318.02 112.18 L319.47 112.17 L320.5 112.16" stroke="#2e98d3" stroke-width="1.0" fill="none"/>
<path d="M20.5 107.5 L21.14 107.49 L22.04 107.48 L23.1 107.47 L24.22 107.45 L25.31 107.42 L26.27 107.37 L27.09 107.33 L27.85 107.29 L28.58 107.25 L29.3 107.17 L30.06 107.05 L30.88 106.86 L31.79 106.58 L32.76 106.23 L33.77 105.83 L34.77 105.41 L35.75 104.99 L36.65 104.62 L37.51 104.26 L38.35 103.9 L39.15 103.54 L39.91 103.21 L40.62 102.93 L41.27 102.69 L41.82 102.52 L42.28 102.4 L42.68 102.32 L43.08 102.27 L43.52 102.26 L44.04 102.26 L44.65 102.3 L45.3 102.39 L46 102.5 L46.72 102.62 L47.46 102.74 L48.19 102.84 L48.93 102.94 L49.68 103.07 L50.44 103.18 L51.22 103.27 L52.01 103.29 L52.81 103.23 L53.63 103.06 L54.47 102.82 L55.33 102.51 L56.19 102.16 L57.05 101.78 L57.88 101.38 L58.7 100.88 L59.51 100.25 L60.31 99.6 L61.11 99.01 L61.91 98.59 L62.73 98.44 L63.57 98.62 L64.42 99.07 L65.28 99.69 L66.14 100.38 L66.99 101.04 L67.81 101.56 L68.61 101.96 L69.41 102.32 L70.19 102.65 L70.95 102.95 L71.7 103.24 L72.42 103.51 L73.11 103.75 L73.77 103.97 L74.41 104.16 L75.05 104.35 L75.69 104.54 L76.35 104.76 L77.03 105 L77.71 105.26 L78.41 105.53 L79.11 105.79 L79.81 106.03 L80.5 106.24 L81.18 106.42 L81.85 106.58 L82.52 106.72 L83.2 106.84 L83.91 106.94 L84.65 107.01 L85.37 107.06 L86.04 107.08 L86.73 107.07 L87.53 107.05 L88.5 107 L89.73 106.93 L91.28 106.83 L93.1 106.71 L95.1 106.56 L97.18 106.4 L99.27 106.23 L101.27 106.05 L103.19 105.86 L105.12 105.64 L107.04 105.42 L108.96 105.19 L110.88 104.97 L112.81 104.78 L114.73 104.58 L116.65 104.38 L118.58 104.18 L120.5 104.02 L122.42 103.9 L124.35 103.86 L126.3 103.91 L128.28 104.03 L130.26 104.2 L132.21 104.41 L134.1 104.62 L135.88 104.82 L137.58 105.03 L139.22 105.26 L140.79 105.5 L142.29 105.73 L143.74 105.95 L145.12 106.14 L146.4 106.3 L147.59 106.43 L148.72 106.55 L149.82 106.66 L150.91 106.75 L152.04 106.83 L153.01 106.9 L153.75 106.95 L154.49 106.98 L155.46 107.01 L156.87 107.03 L158.96 107.06 L161.9 107.08 L165.54 107.1 L169.63 107.11 L173.92 107.12 L178.14 107.13 L182.04 107.14 L185.82 107.15 L189.73 107.17 L193.58 107.18 L197.17 107.18 L200.31 107.18 L202.81 107.16 L204.51 107.13 L205.54 107.09 L206.12 107.04 L206.48 106.98 L206.84 106.9 L207.42 106.79 L208.19 106.66 L208.96 106.5 L209.73 106.32 L210.5 106.13 L211.27 105.95 L212.04 105.77 L212.81 105.59 L213.59 105.41 L214.38 105.22 L215.15 105.04 L215.91 104.88 L216.65 104.74 L217.38 104.62 L218.08 104.51 L218.77 104.41 L219.46 104.34 L220.13 104.28 L220.81 104.24 L221.47 104.23 L222.11 104.24 L222.74 104.28 L223.38 104.32 L224.04 104.38 L224.73 104.44 L225.45 104.51 L226.18 104.59 L226.92 104.68 L227.7 104.78 L228.5 104.88 L229.35 104.98 L230.25 105.08 L231.23 105.19 L232.23 105.3 L233.24 105.4 L234.21 105.5 L235.12 105.56 L235.96 105.62 L236.76 105.68 L237.52 105.73 L238.27 105.74 L239 105.71 L239.73 105.62 L240.45 105.44 L241.16 105.17 L241.85 104.85 L242.53 104.53 L243.21 104.27 L243.88 104.09 L244.53 104.01 L245.14 103.98 L245.75 103.99 L246.37 104.05 L247.05 104.15 L247.81 104.28 L248.65 104.46 L249.55 104.7 L250.5 104.98 L251.5 105.28 L252.53 105.56 L253.58 105.81 L254.61 106.04 L255.63 106.26 L256.68 106.48 L257.81 106.67 L259.07 106.83 L260.5 106.95 L262.24 107.02 L264.26 107.04 L266.41 107.04 L268.53 107 L270.46 106.95 L272.04 106.89 L273.21 106.81 L274.11 106.7 L274.81 106.58 L275.41 106.45 L275.99 106.3 L276.65 106.16 L277.39 106 L278.12 105.82 L278.85 105.64 L279.54 105.46 L280.2 105.28 L280.81 105.13 L281.36 104.99 L281.87 104.85 L282.34 104.73 L282.77 104.62 L283.18 104.53 L283.58 104.47 L283.92 104.45 L284.21 104.49 L284.47 104.54 L284.74 104.59 L285.05 104.62 L285.42 104.58 L285.88 104.48 L286.41 104.32 L286.97 104.13 L287.54 103.94 L288.11 103.76 L288.65 103.62 L289.16 103.5 L289.64 103.38 L290.11 103.27 L290.59 103.2 L291.1 103.17 L291.65 103.19 L292.25 103.29 L292.88 103.45 L293.54 103.65 L294.22 103.88 L294.9 104.11 L295.58 104.33 L296.25 104.54 L296.93 104.77 L297.61 105 L298.3 105.23 L299.01 105.45 L299.73 105.64 L300.45 105.81 L301.15 105.97 L301.87 106.11 L302.62 106.24 L303.44 106.36 L304.35 106.47 L305.34 106.57 L306.4 106.66 L307.52 106.74 L308.71 106.81 L309.96 106.87 L311.27 106.91 L312.78 106.93 L314.52 106.94 L316.32 106.93 L318.02 106.91 L319.47 106.9 L320.5 106.89" stroke="#2c8ec8" stroke-width="1.0" fill="none"/>
<path d="M20.5 101.2 L21.14 101.19 L22.04 101.18 L23.1 101.17 L24.22 101.14 L25.31 101.11 L26.27 101.06 L27.09 101.01 L27.85 100.97 L28.58 100.92 L29.3 100.84 L30.06 100.7 L30.88 100.49 L31.79 100.18 L32.76 99.79 L33.77 99.34 L34.77 98.87 L35.75 98.42 L36.65 98 L37.51 97.6 L38.35 97.2 L39.15 96.8 L39.91 96.44 L40.62 96.12 L41.27 95.86 L41.82 95.67 L42.28 95.54 L42.68 95.45 L43.08 95.39 L43.52 95.37 L44.04 95.38 L44.65 95.42 L45.3 95.52 L46 95.64 L46.72 95.78 L47.46 95.92 L48.19 96.02 L48.93 96.14 L49.68 96.27 L50.44 96.41 L51.22 96.5 L52.01 96.53 L52.81 96.45 L53.63 96.27 L54.47 96 L55.33 95.66 L56.19 95.26 L57.05 94.84 L57.88 94.4 L58.7 93.85 L59.51 93.15 L60.31 92.42 L61.11 91.77 L61.91 91.3 L62.73 91.13 L63.57 91.33 L64.42 91.84 L65.28 92.52 L66.14 93.29 L66.99 94.02 L67.81 94.6 L68.61 95.04 L69.41 95.45 L70.19 95.81 L70.95 96.15 L71.7 96.46 L72.42 96.77 L73.11 97.04 L73.77 97.28 L74.41 97.49 L75.05 97.7 L75.69 97.91 L76.35 98.15 L77.03 98.42 L77.71 98.71 L78.41 99.01 L79.11 99.3 L79.81 99.56 L80.5 99.8 L81.18 100 L81.85 100.18 L82.52 100.34 L83.2 100.47 L83.91 100.58 L84.65 100.66 L85.37 100.71 L86.04 100.73 L86.73 100.73 L87.53 100.7 L88.5 100.64 L89.73 100.56 L91.28 100.46 L93.1 100.32 L95.1 100.16 L97.18 99.98 L99.27 99.79 L101.27 99.59 L103.19 99.37 L105.12 99.13 L107.04 98.88 L108.96 98.63 L110.88 98.39 L112.81 98.18 L114.73 97.96 L116.65 97.73 L118.58 97.51 L120.5 97.33 L122.42 97.2 L124.35 97.16 L126.3 97.21 L128.28 97.34 L130.26 97.54 L132.21 97.76 L134.1 98 L135.88 98.23 L137.58 98.45 L139.22 98.71 L140.79 98.98 L142.29 99.24 L143.74 99.48 L145.12 99.69 L146.4 99.86 L147.59 100.02 L148.72 100.15 L149.82 100.27 L150.91 100.37 L152.04 100.46 L153.01 100.53 L153.75 100.59 L154.49 100.63 L155.46 100.66 L156.87 100.68 L158.96 100.71 L161.9 100.73 L165.54 100.75 L169.63 100.77 L173.92 100.78 L178.14 100.79 L182.04 100.8 L185.82 100.81 L189.73 100.83 L193.58 100.84 L197.17 100.84 L200.31 100.83 L202.81 100.8 L204.51 100.76 L205.54 100.7 L206.12 100.63 L206.48 100.55 L206.84 100.43 L207.42 100.29 L208.19 100.1 L208.96 99.88 L209.73 99.62 L210.5 99.36 L211.27 99.09 L212.04 98.84 L212.81 98.59 L213.59 98.33 L214.38 98.07 L215.15 97.82 L215.91 97.59 L216.65 97.39 L217.38 97.22 L218.08 97.07 L218.77 96.93 L219.46 96.82 L220.13 96.74 L220.81 96.69 L221.47 96.67 L222.11 96.69 L222.74 96.74 L223.38 96.81 L224.04 96.89 L224.73 96.97 L225.45 97.07 L226.18 97.19 L226.92 97.32 L227.7 97.46 L228.5 97.6 L229.35 97.73 L230.25 97.87 L231.23 98.03 L232.23 98.18 L233.24 98.33 L234.21 98.46 L235.12 98.56 L235.96 98.65 L236.76 98.73 L237.52 98.8 L238.27 98.83 L239 98.81 L239.73 98.73 L240.45 98.55 L241.16 98.26 L241.85 97.93 L242.53 97.6 L243.21 97.32 L243.88 97.14 L244.53 97.07 L245.14 97.05 L245.75 97.08 L246.37 97.15 L247.05 97.27 L247.81 97.43 L248.65 97.64 L249.55 97.93 L250.5 98.25 L251.5 98.59 L252.53 98.92 L253.58 99.21 L254.61 99.47 L255.63 99.72 L256.68 99.97 L257.81 100.19 L259.07 100.37 L260.5 100.51 L262.24 100.6 L264.26 100.64 L266.41 100.65 L268.53 100.63 L270.46 100.58 L272.04 100.52 L273.21 100.43 L274.11 100.31 L274.81 100.16 L275.41 100 L275.99 99.83 L276.65 99.65 L277.39 99.47 L278.12 99.26 L278.85 99.05 L279.54 98.84 L280.2 98.64 L280.81 98.46 L281.36 98.29 L281.87 98.13 L282.34 97.99 L282.77 97.86 L283.18 97.75 L283.58 97.68 L283.92 97.67 L284.21 97.71 L284.47 97.77 L284.74 97.83 L285.05 97.86 L285.42 97.82 L285.88 97.7 L286.41 97.51 L286.97 97.3 L287.54 97.07 L288.11 96.86 L288.65 96.69 L289.16 96.55 L289.64 96.41 L290.11 96.29 L290.59 96.21 L291.1 96.17 L291.65 96.2 L292.25 96.31 L292.88 96.5 L293.54 96.73 L294.22 97 L294.9 97.27 L295.58 97.52 L296.25 97.77 L296.93 98.04 L297.61 98.31 L298.3 98.58 L299.01 98.83 L299.73 99.05 L300.45 99.25 L301.15 99.44 L301.87 99.6 L302.62 99.76 L303.44 99.9 L304.35 100.03 L305.34 100.15 L306.4 100.25 L307.52 100.35 L308.71 100.43 L309.96 100.49 L311.27 100.54 L312.78 100.57 L314.52 100.58 L316.32 100.57 L318.02 100.55 L319.47 100.53 L320.5 100.53" stroke="#2a84ba" stroke-width="1.0" fill="none"/>
<path d="M20.5 95.6 L21.14 95.59 L22.04 95.58 L23.1 95.56 L24.22 95.53 L25.31 95.49 L26.27 95.43 L27.09 95.37 L27.85 95.32 L28.58 95.25 L29.3 95.15 L30.06 94.98 L30.88 94.71 L31.79 94.33 L32.76 93.84 L33.77 93.28 L34.77 92.7 L35.75 92.12 L36.65 91.6 L37.51 91.11 L38.35 90.6 L39.15 90.11 L39.91 89.65 L40.62 89.25 L41.27 88.93 L41.82 88.69 L42.28 88.53 L42.68 88.41 L43.08 88.35 L43.52 88.32 L44.04 88.33 L44.65 88.38 L45.3 88.5 L46 88.66 L46.72 88.83 L47.46 89 L48.19 89.14 L48.93 89.28 L49.68 89.45 L50.44 89.61 L51.22 89.73 L52.01 89.76 L52.81 89.67 L53.63 89.44 L54.47 89.1 L55.33 88.68 L56.19 88.19 L57.05 87.66 L57.88 87.11 L58.7 86.42 L59.51 85.55 L60.31 84.63 L61.11 83.82 L61.91 83.23 L62.73 83.02 L63.57 83.28 L64.42 83.91 L65.28 84.77 L66.14 85.72 L66.99 86.63 L67.81 87.36 L68.61 87.92 L69.41 88.42 L70.19 88.88 L70.95 89.3 L71.7 89.69 L72.42 90.07 L73.11 90.41 L73.77 90.71 L74.41 90.98 L75.05 91.24 L75.69 91.51 L76.35 91.8 L77.03 92.14 L77.71 92.5 L78.41 92.87 L79.11 93.23 L79.81 93.57 L80.5 93.86 L81.18 94.11 L81.85 94.34 L82.52 94.54 L83.2 94.7 L83.91 94.84 L84.65 94.94 L85.37 95 L86.04 95.03 L86.73 95.02 L87.53 94.99 L88.5 94.92 L89.73 94.82 L91.28 94.69 L93.1 94.52 L95.1 94.32 L97.18 94.09 L99.27 93.85 L101.27 93.6 L103.19 93.34 L105.12 93.04 L107.04 92.73 L108.96 92.41 L110.88 92.12 L112.81 91.84 L114.73 91.57 L116.65 91.29 L118.58 91.01 L120.5 90.79 L122.42 90.63 L124.35 90.57 L126.3 90.64 L128.28 90.81 L130.26 91.05 L132.21 91.33 L134.1 91.63 L135.88 91.91 L137.58 92.2 L139.22 92.52 L140.79 92.85 L142.29 93.18 L143.74 93.48 L145.12 93.74 L146.4 93.96 L147.59 94.15 L148.72 94.32 L149.82 94.47 L150.91 94.59 L152.04 94.71 L153.01 94.8 L153.75 94.87 L154.49 94.92 L155.46 94.95 L156.87 94.99 L158.96 95.02 L161.9 95.05 L165.54 95.08 L169.63 95.1 L173.92 95.12 L178.14 95.13 L182.04 95.14 L185.82 95.15 L189.73 95.17 L193.58 95.18 L197.17 95.18 L200.31 95.16 L202.81 95.1 L204.51 95.02 L205.54 94.93 L206.12 94.82 L206.48 94.67 L206.84 94.48 L207.42 94.23 L208.19 93.91 L208.96 93.53 L209.73 93.1 L210.5 92.65 L211.27 92.19 L212.04 91.76 L212.81 91.34 L213.59 90.89 L214.38 90.45 L215.15 90.02 L215.91 89.63 L216.65 89.3 L217.38 89 L218.08 88.74 L218.77 88.51 L219.46 88.33 L220.13 88.19 L220.81 88.1 L221.47 88.07 L222.11 88.11 L222.74 88.18 L223.38 88.3 L224.04 88.44 L224.73 88.58 L225.45 88.75 L226.18 88.95 L226.92 89.18 L227.7 89.41 L228.5 89.65 L229.35 89.89 L230.25 90.13 L231.23 90.39 L232.23 90.65 L233.24 90.9 L234.21 91.13 L235.12 91.31 L235.96 91.47 L236.76 91.61 L237.52 91.73 L238.27 91.8 L239 91.82 L239.73 91.77 L240.45 91.6 L241.16 91.32 L241.85 90.98 L242.53 90.64 L243.21 90.36 L243.88 90.2 L244.53 90.15 L245.14 90.16 L245.75 90.22 L246.37 90.34 L247.05 90.51 L247.81 90.73 L248.65 91.01 L249.55 91.38 L250.5 91.79 L251.5 92.23 L252.53 92.64 L253.58 93 L254.61 93.32 L255.63 93.64 L256.68 93.94 L257.81 94.21 L259.07 94.44 L260.5 94.62 L262.24 94.75 L264.26 94.83 L266.41 94.88 L268.53 94.89 L270.46 94.86 L272.04 94.81 L273.21 94.73 L274.11 94.6 L274.81 94.44 L275.41 94.26 L275.99 94.07 L276.65 93.88 L277.39 93.68 L278.12 93.45 L278.85 93.21 L279.54 92.97 L280.2 92.75 L280.81 92.55 L281.36 92.37 L281.87 92.19 L282.34 92.02 L282.77 91.88 L283.18 91.77 L283.58 91.69 L283.92 91.67 L284.21 91.71 L284.47 91.79 L284.74 91.85 L285.05 91.88 L285.42 91.84 L285.88 91.7 L286.41 91.5 L286.97 91.26 L287.54 91 L288.11 90.77 L288.65 90.58 L289.16 90.43 L289.64 90.27 L290.11 90.14 L290.59 90.04 L291.1 90 L291.65 90.03 L292.25 90.16 L292.88 90.37 L293.54 90.63 L294.22 90.92 L294.9 91.22 L295.58 91.51 L296.25 91.79 L296.93 92.08 L297.61 92.39 L298.3 92.68 L299.01 92.96 L299.73 93.22 L300.45 93.44 L301.15 93.64 L301.87 93.83 L302.62 94 L303.44 94.16 L304.35 94.3 L305.34 94.43 L306.4 94.54 L307.52 94.64 L308.71 94.73 L309.96 94.8 L311.27 94.85 L312.78 94.88 L314.52 94.89 L316.32 94.88 L318.02 94.86 L319.47 94.84 L320.5 94.83" stroke="#2a78a8" stroke-width="1.0" fill="none"/>
<path d="M20.5 89.2 L21.14 89.18 L22.04 89.17 L23.1 89.15 L24.22 89.11 L25.31 89.05 L26.27 88.97 L27.09 88.89 L27.85 88.83 L28.58 88.74 L29.3 88.6 L30.06 88.37 L30.88 88.02 L31.79 87.51 L32.76 86.86 L33.77 86.12 L34.77 85.35 L35.75 84.59 L36.65 83.9 L37.51 83.24 L38.35 82.57 L39.15 81.92 L39.91 81.31 L40.62 80.78 L41.27 80.35 L41.82 80.04 L42.28 79.81 L42.68 79.66 L43.08 79.58 L43.52 79.55 L44.04 79.55 L44.65 79.63 L45.3 79.79 L46 80 L46.72 80.23 L47.46 80.45 L48.19 80.63 L48.93 80.82 L49.68 81.04 L50.44 81.26 L51.22 81.42 L52.01 81.46 L52.81 81.34 L53.63 81.04 L54.47 80.59 L55.33 80.02 L56.19 79.37 L57.05 78.67 L57.88 77.94 L58.7 77.02 L59.51 75.87 L60.31 74.65 L61.11 73.57 L61.91 72.8 L62.73 72.52 L63.57 72.85 L64.42 73.69 L65.28 74.83 L66.14 76.1 L66.99 77.31 L67.81 78.28 L68.61 79.02 L69.41 79.69 L70.19 80.3 L70.95 80.86 L71.7 81.38 L72.42 81.88 L73.11 82.33 L73.77 82.73 L74.41 83.08 L75.05 83.43 L75.69 83.79 L76.35 84.18 L77.03 84.63 L77.71 85.11 L78.41 85.6 L79.11 86.08 L79.81 86.53 L80.5 86.91 L81.18 87.25 L81.85 87.55 L82.52 87.81 L83.2 88.04 L83.91 88.22 L84.65 88.35 L85.37 88.43 L86.04 88.47 L86.73 88.46 L87.53 88.41 L88.5 88.32 L89.73 88.2 L91.28 88.02 L93.1 87.79 L95.1 87.53 L97.18 87.23 L99.27 86.91 L101.27 86.58 L103.19 86.23 L105.12 85.84 L107.04 85.42 L108.96 85.01 L110.88 84.61 L112.81 84.25 L114.73 83.89 L116.65 83.51 L118.58 83.15 L120.5 82.85 L122.42 82.64 L124.35 82.57 L126.3 82.66 L128.28 82.88 L130.26 83.2 L132.21 83.58 L134.1 83.98 L135.88 84.35 L137.58 84.73 L139.22 85.16 L140.79 85.6 L142.29 86.03 L143.74 86.44 L145.12 86.79 L146.4 87.08 L147.59 87.33 L148.72 87.55 L149.82 87.75 L150.91 87.92 L152.04 88.07 L153.01 88.19 L153.75 88.28 L154.49 88.35 L155.46 88.4 L156.87 88.44 L158.96 88.49 L161.9 88.54 L165.54 88.57 L169.63 88.6 L173.92 88.63 L178.14 88.65 L182.04 88.66 L185.82 88.68 L189.73 88.7 L193.58 88.72 L197.17 88.72 L200.31 88.69 L202.81 88.61 L204.51 88.5 L205.54 88.38 L206.12 88.23 L206.48 88.03 L206.84 87.76 L207.42 87.43 L208.19 86.99 L208.96 86.46 L209.73 85.88 L210.5 85.26 L211.27 84.64 L212.04 84.06 L212.81 83.48 L213.59 82.87 L214.38 82.26 L215.15 81.68 L215.91 81.15 L216.65 80.69 L217.38 80.29 L218.08 79.93 L218.77 79.62 L219.46 79.37 L220.13 79.17 L220.81 79.06 L221.47 79.02 L222.11 79.07 L222.74 79.17 L223.38 79.33 L224.04 79.52 L224.73 79.72 L225.45 79.95 L226.18 80.22 L226.92 80.53 L227.7 80.85 L228.5 81.18 L229.35 81.5 L230.25 81.83 L231.23 82.19 L232.23 82.54 L233.24 82.89 L234.21 83.2 L235.12 83.45 L235.96 83.67 L236.76 83.86 L237.52 84.02 L238.27 84.13 L239 84.18 L239.73 84.14 L240.45 83.98 L241.16 83.68 L241.85 83.31 L242.53 82.95 L243.21 82.66 L243.88 82.49 L244.53 82.45 L245.14 82.49 L245.75 82.59 L246.37 82.75 L247.05 82.96 L247.81 83.23 L248.65 83.59 L249.55 84.04 L250.5 84.54 L251.5 85.07 L252.53 85.57 L253.58 86.01 L254.61 86.4 L255.63 86.78 L256.68 87.14 L257.81 87.47 L259.07 87.75 L260.5 87.97 L262.24 88.13 L264.26 88.24 L266.41 88.3 L268.53 88.32 L270.46 88.31 L272.04 88.26 L273.21 88.18 L274.11 88.06 L274.81 87.9 L275.41 87.72 L275.99 87.53 L276.65 87.33 L277.39 87.11 L278.12 86.86 L278.85 86.6 L279.54 86.34 L280.2 86.09 L280.81 85.87 L281.36 85.68 L281.87 85.48 L282.34 85.3 L282.77 85.15 L283.18 85.02 L283.58 84.93 L283.92 84.92 L284.21 84.96 L284.47 85.04 L284.74 85.12 L285.05 85.15 L285.42 85.1 L285.88 84.95 L286.41 84.73 L286.97 84.46 L287.54 84.19 L288.11 83.93 L288.65 83.73 L289.16 83.56 L289.64 83.39 L290.11 83.25 L290.59 83.14 L291.1 83.1 L291.65 83.13 L292.25 83.27 L292.88 83.5 L293.54 83.78 L294.22 84.1 L294.9 84.43 L295.58 84.74 L296.25 85.04 L296.93 85.37 L297.61 85.7 L298.3 86.02 L299.01 86.33 L299.73 86.6 L300.45 86.85 L301.15 87.07 L301.87 87.27 L302.62 87.46 L303.44 87.63 L304.35 87.78 L305.34 87.92 L306.4 88.03 L307.52 88.13 L308.71 88.21 L309.96 88.28 L311.27 88.33 L312.78 88.36 L314.52 88.36 L316.32 88.35 L318.02 88.34 L319.47 88.32 L320.5 88.31" stroke="#2a6c95" stroke-width="1.0" fill="none"/>
<path d="M20.5 81.1 L21.14 81.08 L22.04 81.06 L23.1 81.04 L24.22 80.99 L25.31 80.93 L26.27 80.83 L27.09 80.74 L27.85 80.66 L28.58 80.56 L29.3 80.39 L30.06 80.12 L30.88 79.71 L31.79 79.1 L32.76 78.33 L33.77 77.45 L34.77 76.53 L35.75 75.63 L36.65 74.81 L37.51 74.03 L38.35 73.24 L39.15 72.46 L39.91 71.74 L40.62 71.11 L41.27 70.61 L41.82 70.23 L42.28 69.97 L42.68 69.79 L43.08 69.69 L43.52 69.65 L44.04 69.66 L44.65 69.75 L45.3 69.93 L46 70.18 L46.72 70.46 L47.46 70.72 L48.19 70.93 L48.93 71.16 L49.68 71.43 L50.44 71.69 L51.22 71.88 L52.01 71.93 L52.81 71.78 L53.63 71.42 L54.47 70.88 L55.33 70.22 L56.19 69.45 L57.05 68.61 L57.88 67.74 L58.7 66.66 L59.51 65.28 L60.31 63.85 L61.11 62.56 L61.91 61.64 L62.73 61.31 L63.57 61.71 L64.42 62.7 L65.28 64.06 L66.14 65.57 L66.99 67 L67.81 68.15 L68.61 69.03 L69.41 69.82 L70.19 70.54 L70.95 71.21 L71.7 71.83 L72.42 72.42 L73.11 72.96 L73.77 73.43 L74.41 73.85 L75.05 74.26 L75.69 74.69 L76.35 75.15 L77.03 75.68 L77.71 76.26 L78.41 76.84 L79.11 77.41 L79.81 77.94 L80.5 78.4 L81.18 78.8 L81.85 79.15 L82.52 79.47 L83.2 79.73 L83.91 79.95 L84.65 80.1 L85.37 80.2 L86.04 80.25 L86.73 80.24 L87.53 80.18 L88.5 80.07 L89.73 79.92 L91.28 79.71 L93.1 79.45 L95.1 79.13 L97.18 78.78 L99.27 78.4 L101.27 78.01 L103.19 77.59 L105.12 77.13 L107.04 76.64 L108.96 76.14 L110.88 75.67 L112.81 75.25 L114.73 74.82 L116.65 74.37 L118.58 73.94 L120.5 73.58 L122.42 73.34 L124.35 73.25 L126.3 73.36 L128.28 73.62 L130.26 74 L132.21 74.45 L134.1 74.92 L135.88 75.37 L137.58 75.82 L139.22 76.33 L140.79 76.85 L142.29 77.37 L143.74 77.85 L145.12 78.26 L146.4 78.61 L147.59 78.91 L148.72 79.17 L149.82 79.4 L150.91 79.61 L152.04 79.79 L153.01 79.93 L153.75 80.04 L154.49 80.12 L155.46 80.18 L156.87 80.23 L158.96 80.29 L161.9 80.34 L165.54 80.39 L169.63 80.43 L173.92 80.46 L178.14 80.48 L182.04 80.49 L185.82 80.51 L189.73 80.54 L193.58 80.56 L197.17 80.56 L200.31 80.51 L202.81 80.41 L204.51 80.27 L205.54 80.1 L206.12 79.9 L206.48 79.63 L206.84 79.29 L207.42 78.84 L208.19 78.27 L208.96 77.58 L209.73 76.8 L210.5 75.99 L211.27 75.17 L212.04 74.39 L212.81 73.63 L213.59 72.83 L214.38 72.03 L215.15 71.26 L215.91 70.55 L216.65 69.94 L217.38 69.42 L218.08 68.94 L218.77 68.53 L219.46 68.2 L220.13 67.95 L220.81 67.79 L221.47 67.74 L222.11 67.8 L222.74 67.95 L223.38 68.15 L224.04 68.4 L224.73 68.67 L225.45 68.97 L226.18 69.34 L226.92 69.74 L227.7 70.17 L228.5 70.6 L229.35 71.03 L230.25 71.46 L231.23 71.93 L232.23 72.4 L233.24 72.85 L234.21 73.26 L235.12 73.6 L235.96 73.89 L236.76 74.15 L237.52 74.37 L238.27 74.53 L239 74.61 L239.73 74.62 L240.45 74.49 L241.16 74.21 L241.85 73.87 L242.53 73.53 L243.21 73.26 L243.88 73.12 L244.53 73.12 L245.14 73.19 L245.75 73.33 L246.37 73.54 L247.05 73.8 L247.81 74.13 L248.65 74.55 L249.55 75.07 L250.5 75.65 L251.5 76.26 L252.53 76.83 L253.58 77.33 L254.61 77.78 L255.63 78.22 L256.68 78.62 L257.81 78.99 L259.07 79.31 L260.5 79.57 L262.24 79.76 L264.26 79.91 L266.41 80 L268.53 80.05 L270.46 80.06 L272.04 80.04 L273.21 79.97 L274.11 79.86 L274.81 79.7 L275.41 79.51 L275.99 79.31 L276.65 79.1 L277.39 78.88 L278.12 78.62 L278.85 78.34 L279.54 78.06 L280.2 77.8 L280.81 77.57 L281.36 77.36 L281.87 77.15 L282.34 76.96 L282.77 76.8 L283.18 76.66 L283.58 76.57 L283.92 76.55 L284.21 76.6 L284.47 76.69 L284.74 76.76 L285.05 76.8 L285.42 76.75 L285.88 76.59 L286.41 76.35 L286.97 76.07 L287.54 75.78 L288.11 75.51 L288.65 75.3 L289.16 75.12 L289.64 74.94 L290.11 74.78 L290.59 74.67 L291.1 74.62 L291.65 74.66 L292.25 74.81 L292.88 75.05 L293.54 75.35 L294.22 75.69 L294.9 76.04 L295.58 76.36 L296.25 76.69 L296.93 77.03 L297.61 77.38 L298.3 77.72 L299.01 78.05 L299.73 78.33 L300.45 78.59 L301.15 78.83 L301.87 79.05 L302.62 79.25 L303.44 79.43 L304.35 79.58 L305.34 79.72 L306.4 79.84 L307.52 79.94 L308.71 80.01 L309.96 80.08 L311.27 80.13 L312.78 80.16 L314.52 80.16 L316.32 80.15 L318.02 80.13 L319.47 80.12 L320.5 80.11" stroke="#2a6183" stroke-width="1.0" fill="none"/>
<path d="M20.5 72.6 L21.14 72.58 L22.04 72.56 L23.1 72.53 L24.22 72.48 L25.31 72.41 L26.27 72.31 L27.09 72.21 L27.85 72.12 L28.58 72.01 L29.3 71.84 L30.06 71.54 L30.88 71.09 L31.79 70.44 L32.76 69.6 L33.77 68.66 L34.77 67.66 L35.75 66.69 L36.65 65.8 L37.51 64.96 L38.35 64.1 L39.15 63.26 L39.91 62.48 L40.62 61.8 L41.27 61.25 L41.82 60.85 L42.28 60.56 L42.68 60.37 L43.08 60.26 L43.52 60.22 L44.04 60.23 L44.65 60.32 L45.3 60.53 L46 60.8 L46.72 61.09 L47.46 61.38 L48.19 61.61 L48.93 61.85 L49.68 62.14 L50.44 62.42 L51.22 62.63 L52.01 62.68 L52.81 62.52 L53.63 62.13 L54.47 61.56 L55.33 60.83 L56.19 60 L57.05 59.1 L57.88 58.16 L58.7 56.98 L59.51 55.5 L60.31 53.94 L61.11 52.55 L61.91 51.56 L62.73 51.2 L63.57 51.64 L64.42 52.71 L65.28 54.18 L66.14 55.81 L66.99 57.36 L67.81 58.6 L68.61 59.55 L69.41 60.41 L70.19 61.19 L70.95 61.9 L71.7 62.58 L72.42 63.22 L73.11 63.8 L73.77 64.31 L74.41 64.76 L75.05 65.21 L75.69 65.67 L76.35 66.17 L77.03 66.74 L77.71 67.36 L78.41 68 L79.11 68.61 L79.81 69.19 L80.5 69.68 L81.18 70.11 L81.85 70.49 L82.52 70.83 L83.2 71.12 L83.91 71.35 L84.65 71.52 L85.37 71.63 L86.04 71.68 L86.73 71.67 L87.53 71.61 L88.5 71.49 L89.73 71.33 L91.28 71.1 L93.1 70.81 L95.1 70.47 L97.18 70.09 L99.27 69.68 L101.27 69.26 L103.19 68.81 L105.12 68.3 L107.04 67.77 L108.96 67.24 L110.88 66.73 L112.81 66.27 L114.73 65.81 L116.65 65.33 L118.58 64.86 L120.5 64.47 L122.42 64.21 L124.35 64.12 L126.3 64.23 L128.28 64.52 L130.26 64.93 L132.21 65.41 L134.1 65.92 L135.88 66.4 L137.58 66.89 L139.22 67.44 L140.79 68.01 L142.29 68.57 L143.74 69.09 L145.12 69.53 L146.4 69.9 L147.59 70.23 L148.72 70.52 L149.82 70.77 L150.91 70.99 L152.04 71.18 L153.01 71.34 L153.75 71.46 L154.49 71.54 L155.46 71.61 L156.87 71.66 L158.96 71.72 L161.9 71.78 L165.54 71.83 L169.63 71.87 L173.92 71.91 L178.14 71.93 L182.04 71.95 L185.82 71.96 L189.73 71.99 L193.58 72.01 L197.17 72 L200.31 71.95 L202.81 71.82 L204.51 71.65 L205.54 71.46 L206.12 71.22 L206.48 70.9 L206.84 70.49 L207.42 69.96 L208.19 69.28 L208.96 68.45 L209.73 67.53 L210.5 66.56 L211.27 65.59 L212.04 64.67 L212.81 63.76 L213.59 62.81 L214.38 61.86 L215.15 60.94 L215.91 60.11 L216.65 59.38 L217.38 58.76 L218.08 58.19 L218.77 57.71 L219.46 57.31 L220.13 57.01 L220.81 56.82 L221.47 56.77 L222.11 56.84 L222.74 57.01 L223.38 57.25 L224.04 57.55 L224.73 57.87 L225.45 58.23 L226.18 58.66 L226.92 59.14 L227.7 59.65 L228.5 60.17 L229.35 60.67 L230.25 61.19 L231.23 61.74 L232.23 62.3 L233.24 62.84 L234.21 63.33 L235.12 63.74 L235.96 64.09 L236.76 64.39 L237.52 64.65 L238.27 64.85 L239 64.97 L239.73 65.01 L240.45 64.91 L241.16 64.66 L241.85 64.34 L242.53 64.03 L243.21 63.78 L243.88 63.67 L244.53 63.7 L245.14 63.8 L245.75 63.97 L246.37 64.22 L247.05 64.52 L247.81 64.88 L248.65 65.35 L249.55 65.93 L250.5 66.57 L251.5 67.22 L252.53 67.85 L253.58 68.4 L254.61 68.89 L255.63 69.35 L256.68 69.79 L257.81 70.18 L259.07 70.53 L260.5 70.82 L262.24 71.05 L264.26 71.22 L266.41 71.35 L268.53 71.43 L270.46 71.46 L272.04 71.46 L273.21 71.4 L274.11 71.28 L274.81 71.11 L275.41 70.92 L275.99 70.7 L276.65 70.48 L277.39 70.24 L278.12 69.97 L278.85 69.67 L279.54 69.38 L280.2 69.1 L280.81 68.86 L281.36 68.63 L281.87 68.42 L282.34 68.22 L282.77 68.04 L283.18 67.9 L283.58 67.81 L283.92 67.79 L284.21 67.84 L284.47 67.93 L284.74 68.01 L285.05 68.05 L285.42 67.99 L285.88 67.83 L286.41 67.58 L286.97 67.28 L287.54 66.97 L288.11 66.69 L288.65 66.46 L289.16 66.27 L289.64 66.09 L290.11 65.92 L290.59 65.8 L291.1 65.75 L291.65 65.79 L292.25 65.95 L292.88 66.2 L293.54 66.52 L294.22 66.88 L294.9 67.24 L295.58 67.59 L296.25 67.93 L296.93 68.29 L297.61 68.66 L298.3 69.02 L299.01 69.36 L299.73 69.67 L300.45 69.94 L301.15 70.19 L301.87 70.42 L302.62 70.63 L303.44 70.82 L304.35 70.99 L305.34 71.13 L306.4 71.25 L307.52 71.35 L308.71 71.43 L309.96 71.5 L311.27 71.55 L312.78 71.58 L314.52 71.59 L316.32 71.58 L318.02 71.56 L319.47 71.54 L320.5 71.53" stroke="#2a5771" stroke-width="1.0" fill="none"/>
<path d="M20.5 63 L21.14 62.98 L22.04 62.96 L23.1 62.93 L24.22 62.88 L25.31 62.81 L26.27 62.7 L27.09 62.6 L27.85 62.51 L28.58 62.4 L29.3 62.22 L30.06 61.92 L30.88 61.46 L31.79 60.79 L32.76 59.93 L33.77 58.96 L34.77 57.94 L35.75 56.95 L36.65 56.04 L37.51 55.18 L38.35 54.3 L39.15 53.44 L39.91 52.64 L40.62 51.94 L41.27 51.38 L41.82 50.97 L42.28 50.68 L42.68 50.48 L43.08 50.37 L43.52 50.33 L44.04 50.34 L44.65 50.43 L45.3 50.64 L46 50.92 L46.72 51.22 L47.46 51.51 L48.19 51.75 L48.93 51.99 L49.68 52.29 L50.44 52.58 L51.22 52.79 L52.01 52.84 L52.81 52.68 L53.63 52.28 L54.47 51.69 L55.33 50.95 L56.19 50.1 L57.05 49.18 L57.88 48.22 L58.7 47.01 L59.51 45.49 L60.31 43.9 L61.11 42.48 L61.91 41.46 L62.73 41.09 L63.57 41.54 L64.42 42.63 L65.28 44.14 L66.14 45.81 L66.99 47.4 L67.81 48.66 L68.61 49.64 L69.41 50.51 L70.19 51.31 L70.95 52.05 L71.7 52.74 L72.42 53.39 L73.11 53.99 L73.77 54.5 L74.41 54.97 L75.05 55.43 L75.69 55.9 L76.35 56.42 L77.03 57 L77.71 57.63 L78.41 58.28 L79.11 58.91 L79.81 59.5 L80.5 60.01 L81.18 60.44 L81.85 60.84 L82.52 61.19 L83.2 61.48 L83.91 61.72 L84.65 61.89 L85.37 62 L86.04 62.05 L86.73 62.04 L87.53 61.98 L88.5 61.86 L89.73 61.69 L91.28 61.46 L93.1 61.16 L95.1 60.81 L97.18 60.42 L99.27 60 L101.27 59.58 L103.19 59.11 L105.12 58.59 L107.04 58.05 L108.96 57.51 L110.88 56.99 L112.81 56.51 L114.73 56.04 L116.65 55.55 L118.58 55.07 L120.5 54.67 L122.42 54.4 L124.35 54.3 L126.3 54.42 L128.28 54.72 L130.26 55.14 L132.21 55.63 L134.1 56.15 L135.88 56.65 L137.58 57.15 L139.22 57.7 L140.79 58.29 L142.29 58.86 L143.74 59.39 L145.12 59.84 L146.4 60.23 L147.59 60.56 L148.72 60.85 L149.82 61.11 L150.91 61.34 L152.04 61.53 L153.01 61.7 L153.75 61.81 L154.49 61.9 L155.46 61.97 L156.87 62.03 L158.96 62.09 L161.9 62.15 L165.54 62.2 L169.63 62.24 L173.92 62.28 L178.14 62.3 L182.04 62.31 L185.82 62.33 L189.73 62.36 L193.58 62.38 L197.17 62.36 L200.31 62.3 L202.81 62.16 L204.51 61.97 L205.54 61.76 L206.12 61.5 L206.48 61.16 L206.84 60.71 L207.42 60.13 L208.19 59.39 L208.96 58.49 L209.73 57.48 L210.5 56.42 L211.27 55.37 L212.04 54.36 L212.81 53.36 L213.59 52.33 L214.38 51.29 L215.15 50.29 L215.91 49.38 L216.65 48.59 L217.38 47.91 L218.08 47.29 L218.77 46.76 L219.46 46.32 L220.13 46 L220.81 45.8 L221.47 45.74 L222.11 45.81 L222.74 46 L223.38 46.27 L224.04 46.59 L224.73 46.94 L225.45 47.33 L226.18 47.8 L226.92 48.33 L227.7 48.89 L228.5 49.45 L229.35 50 L230.25 50.56 L231.23 51.16 L232.23 51.77 L233.24 52.36 L234.21 52.89 L235.12 53.34 L235.96 53.72 L236.76 54.06 L237.52 54.34 L238.27 54.56 L239 54.7 L239.73 54.76 L240.45 54.68 L241.16 54.45 L241.85 54.15 L242.53 53.85 L243.21 53.62 L243.88 53.53 L244.53 53.58 L245.14 53.7 L245.75 53.89 L246.37 54.15 L247.05 54.48 L247.81 54.86 L248.65 55.36 L249.55 55.96 L250.5 56.63 L251.5 57.32 L252.53 57.97 L253.58 58.54 L254.61 59.05 L255.63 59.53 L256.68 59.98 L257.81 60.39 L259.07 60.76 L260.5 61.06 L262.24 61.31 L264.26 61.5 L266.41 61.65 L268.53 61.75 L270.46 61.8 L272.04 61.8 L273.21 61.74 L274.11 61.61 L274.81 61.43 L275.41 61.22 L275.99 60.99 L276.65 60.76 L277.39 60.51 L278.12 60.22 L278.85 59.91 L279.54 59.6 L280.2 59.31 L280.81 59.05 L281.36 58.81 L281.87 58.59 L282.34 58.38 L282.77 58.19 L283.18 58.04 L283.58 57.94 L283.92 57.92 L284.21 57.98 L284.47 58.07 L284.74 58.16 L285.05 58.19 L285.42 58.14 L285.88 57.96 L286.41 57.7 L286.97 57.39 L287.54 57.07 L288.11 56.77 L288.65 56.53 L289.16 56.33 L289.64 56.13 L290.11 55.96 L290.59 55.83 L291.1 55.78 L291.65 55.82 L292.25 55.98 L292.88 56.25 L293.54 56.59 L294.22 56.96 L294.9 57.35 L295.58 57.71 L296.25 58.07 L296.93 58.45 L297.61 58.84 L298.3 59.22 L299.01 59.58 L299.73 59.9 L300.45 60.19 L301.15 60.45 L301.87 60.7 L302.62 60.92 L303.44 61.11 L304.35 61.29 L305.34 61.44 L306.4 61.57 L307.52 61.68 L308.71 61.77 L309.96 61.84 L311.27 61.89 L312.78 61.93 L314.52 61.93 L316.32 61.92 L318.02 61.9 L319.47 61.88 L320.5 61.87" stroke="#294e65" stroke-width="1.0" fill="none"/>
<path d="M20.5 54.2 L21.14 54.18 L22.04 54.16 L23.1 54.12 L24.22 54.08 L25.31 54 L26.27 53.88 L27.09 53.77 L27.85 53.68 L28.58 53.57 L29.3 53.37 L30.06 53.06 L30.88 52.57 L31.79 51.87 L32.76 50.96 L33.77 49.94 L34.77 48.87 L35.75 47.81 L36.65 46.86 L37.51 45.95 L38.35 45.02 L39.15 44.11 L39.91 43.27 L40.62 42.53 L41.27 41.94 L41.82 41.51 L42.28 41.2 L42.68 40.99 L43.08 40.87 L43.52 40.83 L44.04 40.84 L44.65 40.94 L45.3 41.16 L46 41.45 L46.72 41.77 L47.46 42.08 L48.19 42.33 L48.93 42.59 L49.68 42.9 L50.44 43.21 L51.22 43.43 L52.01 43.48 L52.81 43.31 L53.63 42.89 L54.47 42.27 L55.33 41.49 L56.19 40.59 L57.05 39.61 L57.88 38.6 L58.7 37.33 L59.51 35.73 L60.31 34.05 L61.11 32.55 L61.91 31.47 L62.73 31.09 L63.57 31.56 L64.42 32.71 L65.28 34.3 L66.14 36.06 L66.99 37.74 L67.81 39.07 L68.61 40.1 L69.41 41.03 L70.19 41.87 L70.95 42.64 L71.7 43.37 L72.42 44.06 L73.11 44.69 L73.77 45.24 L74.41 45.73 L75.05 46.21 L75.69 46.71 L76.35 47.25 L77.03 47.87 L77.71 48.54 L78.41 49.22 L79.11 49.89 L79.81 50.51 L80.5 51.04 L81.18 51.5 L81.85 51.92 L82.52 52.28 L83.2 52.6 L83.91 52.85 L84.65 53.03 L85.37 53.14 L86.04 53.2 L86.73 53.19 L87.53 53.12 L88.5 52.99 L89.73 52.82 L91.28 52.57 L93.1 52.26 L95.1 51.89 L97.18 51.48 L99.27 51.04 L101.27 50.58 L103.19 50.09 L105.12 49.55 L107.04 48.98 L108.96 48.4 L110.88 47.85 L112.81 47.35 L114.73 46.86 L116.65 46.33 L118.58 45.83 L120.5 45.41 L122.42 45.12 L124.35 45.02 L126.3 45.15 L128.28 45.46 L130.26 45.9 L132.21 46.42 L134.1 46.97 L135.88 47.49 L137.58 48.02 L139.22 48.61 L140.79 49.22 L142.29 49.83 L143.74 50.39 L145.12 50.87 L146.4 51.27 L147.59 51.62 L148.72 51.93 L149.82 52.2 L150.91 52.44 L152.04 52.65 L153.01 52.82 L153.75 52.94 L154.49 53.04 L155.46 53.11 L156.87 53.17 L158.96 53.23 L161.9 53.29 L165.54 53.35 L169.63 53.39 L173.92 53.43 L178.14 53.45 L182.04 53.47 L185.82 53.49 L189.73 53.52 L193.58 53.54 L197.17 53.53 L200.31 53.47 L202.81 53.34 L204.51 53.16 L205.54 52.95 L206.12 52.69 L206.48 52.35 L206.84 51.92 L207.42 51.35 L208.19 50.62 L208.96 49.74 L209.73 48.75 L210.5 47.72 L211.27 46.68 L212.04 45.7 L212.81 44.72 L213.59 43.71 L214.38 42.69 L215.15 41.72 L215.91 40.82 L216.65 40.05 L217.38 39.38 L218.08 38.78 L218.77 38.26 L219.46 37.83 L220.13 37.51 L220.81 37.31 L221.47 37.25 L222.11 37.33 L222.74 37.51 L223.38 37.77 L224.04 38.09 L224.73 38.43 L225.45 38.81 L226.18 39.28 L226.92 39.79 L227.7 40.33 L228.5 40.89 L229.35 41.42 L230.25 41.97 L231.23 42.56 L232.23 43.16 L233.24 43.74 L234.21 44.26 L235.12 44.7 L235.96 45.07 L236.76 45.4 L237.52 45.67 L238.27 45.88 L239 46.02 L239.73 46.07 L240.45 45.98 L241.16 45.74 L241.85 45.42 L242.53 45.11 L243.21 44.86 L243.88 44.76 L244.53 44.8 L245.14 44.92 L245.75 45.1 L246.37 45.36 L247.05 45.68 L247.81 46.06 L248.65 46.55 L249.55 47.15 L250.5 47.82 L251.5 48.51 L252.53 49.16 L253.58 49.73 L254.61 50.24 L255.63 50.73 L256.68 51.18 L257.81 51.59 L259.07 51.95 L260.5 52.25 L262.24 52.49 L264.26 52.68 L266.41 52.81 L268.53 52.9 L270.46 52.94 L272.04 52.93 L273.21 52.87 L274.11 52.74 L274.81 52.57 L275.41 52.37 L275.99 52.15 L276.65 51.92 L277.39 51.67 L278.12 51.38 L278.85 51.07 L279.54 50.76 L280.2 50.46 L280.81 50.21 L281.36 49.97 L281.87 49.74 L282.34 49.53 L282.77 49.35 L283.18 49.2 L283.58 49.1 L283.92 49.08 L284.21 49.13 L284.47 49.23 L284.74 49.31 L285.05 49.35 L285.42 49.29 L285.88 49.12 L286.41 48.86 L286.97 48.55 L287.54 48.22 L288.11 47.92 L288.65 47.68 L289.16 47.48 L289.64 47.29 L290.11 47.11 L290.59 46.99 L291.1 46.93 L291.65 46.98 L292.25 47.14 L292.88 47.4 L293.54 47.74 L294.22 48.12 L294.9 48.5 L295.58 48.87 L296.25 49.22 L296.93 49.6 L297.61 49.99 L298.3 50.37 L299.01 50.73 L299.73 51.06 L300.45 51.34 L301.15 51.61 L301.87 51.85 L302.62 52.07 L303.44 52.27 L304.35 52.44 L305.34 52.59 L306.4 52.72 L307.52 52.82 L308.71 52.91 L309.96 52.97 L311.27 53.02 L312.78 53.06 L314.52 53.06 L316.32 53.05 L318.02 53.03 L319.47 53.01 L320.5 53" stroke="#27465a" stroke-width="1.0" fill="none"/>
<line x1="43.58" y1="34" x2="43.58" y2="140.4" stroke="#2a2a2a" stroke-width="0.85" stroke-dasharray="1.6 1.3"/>
<line x1="62.73" y1="25" x2="62.73" y2="140.4" stroke="#2a2a2a" stroke-width="0.85" stroke-dasharray="1.6 1.3"/>
<line x1="124.35" y1="36.6" x2="124.35" y2="140.4" stroke="#2a2a2a" stroke-width="0.85" stroke-dasharray="1.6 1.3"/>
<line x1="223.58" y1="29.7" x2="223.58" y2="127.7" stroke="#2a2a2a" stroke-width="0.85" stroke-dasharray="1.6 1.3"/>

<line x1="20.5" y1="7.3" x2="320.5" y2="7.3" stroke="#3a3a3a" stroke-width="1"/>
<line x1="320.5" y1="7.3" x2="320.5" y2="140.4" stroke="#555" stroke-width="1.1"/>
<line x1="20.5" y1="7.3" x2="20.5" y2="140.4" stroke="#333" stroke-width="1.1"/>
<line x1="20" y1="140.4" x2="321" y2="140.4" stroke="#6a6a6a" stroke-width="1.4"/>
<line x1="20.5" y1="140.4" x2="20.5" y2="142.8" stroke="#555" stroke-width="0.8"/>
<text x="20.5" y="149.9" font-size="8" text-anchor="middle" fill="#1a1a1a">1200</text>
<line x1="43.58" y1="140.4" x2="43.58" y2="141.9" stroke="#555" stroke-width="0.8"/>
<line x1="66.65" y1="140.4" x2="66.65" y2="142.8" stroke="#555" stroke-width="0.8"/>
<text x="66.65" y="149.9" font-size="8" text-anchor="middle" fill="#1a1a1a">1400</text>
<line x1="89.73" y1="140.4" x2="89.73" y2="141.9" stroke="#555" stroke-width="0.8"/>
<line x1="112.81" y1="140.4" x2="112.81" y2="142.8" stroke="#555" stroke-width="0.8"/>
<text x="112.81" y="149.9" font-size="8" text-anchor="middle" fill="#1a1a1a">1600</text>
<line x1="135.88" y1="140.4" x2="135.88" y2="141.9" stroke="#555" stroke-width="0.8"/>
<line x1="158.96" y1="140.4" x2="158.96" y2="142.8" stroke="#555" stroke-width="0.8"/>
<text x="158.96" y="149.9" font-size="8" text-anchor="middle" fill="#1a1a1a">1800</text>
<line x1="182.04" y1="140.4" x2="182.04" y2="141.9" stroke="#555" stroke-width="0.8"/>
<line x1="205.12" y1="140.4" x2="205.12" y2="142.8" stroke="#555" stroke-width="0.8"/>
<text x="205.12" y="149.9" font-size="8" text-anchor="middle" fill="#1a1a1a">2000</text>
<line x1="228.19" y1="140.4" x2="228.19" y2="141.9" stroke="#555" stroke-width="0.8"/>
<line x1="251.27" y1="140.4" x2="251.27" y2="142.8" stroke="#555" stroke-width="0.8"/>
<text x="251.27" y="149.9" font-size="8" text-anchor="middle" fill="#1a1a1a">2200</text>
<line x1="274.35" y1="140.4" x2="274.35" y2="141.9" stroke="#555" stroke-width="0.8"/>
<line x1="297.42" y1="140.4" x2="297.42" y2="142.8" stroke="#555" stroke-width="0.8"/>
<text x="297.42" y="149.9" font-size="8" text-anchor="middle" fill="#1a1a1a">2400</text>
<line x1="320.5" y1="140.4" x2="320.5" y2="141.9" stroke="#555" stroke-width="0.8"/>
<text x="126.6" y="158.4" font-size="8.2" fill="#1a1a1a">Wavenumber (cm<tspan baseline-shift="2.8" font-size="5.6">&#8722;1</tspan>)</text>
<text x="14.6" y="117" font-size="8" fill="#1a1a1a" transform="rotate(-90 14.6 117)">Intensity (arb. units)</text>
<text x="-0.5" y="10.8" font-size="14" font-weight="bold" fill="#000">a</text>
<text x="9.3" y="20.1" font-size="7.8" fill="#1a1a1a" transform="rotate(90 9.3 20.1)">0.02</text>
<line x1="17.5" y1="24.4" x2="17.5" y2="34.9" stroke="#222" stroke-width="1.1"/>
<text x="23.5" y="17.8" font-size="7.6" fill="#1a1a1a">C-OH(*COOH</text>
<text x="23.5" y="28.8" font-size="7.6" fill="#1a1a1a">&amp;HCO<tspan baseline-shift="-1.8" font-size="5.2">3</tspan><tspan dx="-0.9" baseline-shift="3.0" font-size="5.4">&#8722;</tspan>)</text>
<text x="75.4" y="19.1" font-size="7.6" fill="#1a1a1a">C-O(*COOH)</text>
<text x="75.4" y="29.9" font-size="7.6" fill="#1a1a1a">&amp;CO<tspan baseline-shift="-1.8" font-size="5.2">3</tspan><tspan dx="-0.9" baseline-shift="3.2" font-size="5.4">2&#8722;</tspan>)</text>
<line x1="37.7" y1="31.5" x2="43.6" y2="37.2" stroke="#111" stroke-width="0.8" marker-end="url(#ah)"/>
<line x1="74.6" y1="29.9" x2="65.6" y2="33.7" stroke="#111" stroke-width="0.8" marker-end="url(#ah)"/>
<text x="126.7" y="40.9" font-size="7.6" fill="#1a1a1a">H-OH</text>
<text x="206.8" y="27.8" font-size="7.6" fill="#1a1a1a">*CO<tspan baseline-shift="-1.6" font-size="5.2">L</tspan></text>
<text x="318.2" y="16" font-size="7.6" text-anchor="end" fill="#1a1a1a">NiPc-NH<tspan baseline-shift="-1.6" font-size="5.2">2</tspan>/CNT-SHP</text>
<text x="322" y="52.9" font-size="7.6" fill="#1a1a1a">-1.60 V</text>
<text x="324.9" y="139.4" font-size="7.6" fill="#1a1a1a">OCP</text>
<line x1="332.6" y1="132" x2="332.6" y2="58.8" stroke="#222" stroke-width="0.9" marker-end="url(#ah)"/>
<path d="M369.6 138 L370.6 138 L371.6 138.02 L372.6 138.04 L373.6 138.07 L374.6 138.11 L375.6 138.17 L376.6 138.24 L377.6 138.32 L378.6 138.41 L379.6 138.49 L380.6 138.56 L381.6 138.61 L382.6 138.61 L383.6 138.57 L384.6 138.47 L385.6 138.33 L386.6 138.13 L387.6 137.91 L388.6 137.65 L389.6 137.39 L390.6 137.13 L391.6 136.89 L392.6 136.67 L393.6 136.47 L394.6 136.31 L395.6 136.05 L396.6 135.81 L397.6 136.07 L398.6 135.59 L399.6 135.85 L400.6 135.68 L401.6 135.42 L402.6 135.68 L403.6 135.3 L404.6 135.52 L405.6 135.18 L406.6 135.09 L407.6 135.21 L408.6 135.37 L409.6 134.75 L410.6 134.72 L411.6 134.93 L412.6 135.14 L413.6 134.93 L414.6 134.92 L415.6 135.53 L416.6 135.19 L417.6 136.19 L418.6 136.38 L419.6 136.99 L420.6 137.75 L421.6 138.59 L422.6 139.44 L423.6 139.16 L424.6 139.23 L425.6 138.76 L426.6 137.89 L427.6 137.31 L428.6 136.36 L429.6 135.91 L430.6 135.72 L431.6 135.88 L432.6 135.62 L433.6 135.5 L434.6 135.67 L435.6 135.57 L436.6 135.46 L437.6 135.81 L438.6 135.74 L439.6 135.42 L440.6 135.65 L441.6 135.62 L442.6 135.86 L443.6 135.76 L444.6 135.45 L445.6 135.93 L446.6 135.32 L447.6 135.53 L448.6 135.75 L449.6 135.31 L450.6 135.52 L451.6 135.17 L452.6 135.56 L453.6 135.56 L454.6 135.34 L455.6 135.44 L456.6 134.92 L457.6 135.02 L458.6 134.77 L459.6 134.56 L460.6 134.26 L461.6 134.31 L462.6 134.18 L463.6 133.67 L464.6 133.66 L465.6 133.14 L466.6 133.54 L467.6 133.51 L468.6 133.8 L469.6 133.76 L470.6 133.5 L471.6 133.72 L472.6 134.08 L473.6 133.8 L474.6 134.29 L475.6 134.27 L476.6 134.42 L477.6 134.55 L478.6 135.22 L479.6 134.93 L480.6 135.15 L481.6 135.39 L482.6 135.85 L483.6 135.4 L484.6 135.76 L485.6 135.91 L486.6 136.22 L487.6 136.23 L488.6 136.3 L489.6 135.91 L490.6 136.01 L491.6 135.96 L492.6 136.31 L493.6 136.32 L494.6 135.71 L495.6 135.68 L496.6 135.67 L497.6 135.62 L498.6 135.74 L499.6 135.78 L500.6 135.51 L501.6 135.3 L502.6 135.56 L503.6 135.51 L504.6 135.63 L505.6 135.57 L506.6 135.56 L507.6 135.55 L508.6 135.55 L509.6 135.54 L510.6 135.54 L511.6 135.54 L512.6 135.53 L513.6 135.53 L514.6 135.53 L515.6 135.53 L516.6 135.53 L517.6 135.53 L518.6 135.54 L519.6 135.54 L520.6 135.55 L521.6 135.57 L522.6 135.59 L523.6 135.61 L524.6 135.65 L525.6 135.69 L526.6 135.76 L527.6 135.84 L528.6 135.94 L529.6 136.06 L530.6 136.19 L531.6 136.34 L532.6 136.51 L533.6 136.67 L534.6 136.84 L535.6 137.01 L536.6 137.16 L537.6 137.29 L538.6 137.41 L539.6 137.51 L540.6 137.6 L541.6 137.66 L542.6 137.72 L543.6 137.76 L544.6 137.79 L545.6 137.82 L546.6 137.84 L547.6 137.85 L548.6 137.87 L549.6 137.87 L550.6 137.88 L551.6 137.89 L552.6 137.89 L553.6 137.89 L554.6 137.89 L555.6 137.9 L556.6 137.9 L557.6 137.9 L558.6 137.9 L559.6 137.9 L560.6 137.9 L561.6 137.9 L562.6 137.9 L563.6 137.9 L564.6 137.9 L565.6 137.9 L566.6 137.9 L567.6 137.9 L568.6 137.9 L569.6 137.9 L570.6 137.9 L571.6 137.9 L572.6 137.9 L573.6 137.9 L574.6 137.9 L575.6 137.9 L576.6 137.9 L577.6 137.9 L578.6 137.9 L579.6 137.9 L580.6 137.9 L581.6 137.9 L582.6 137.9 L583.6 137.9 L584.6 137.9 L585.6 137.9 L586.6 137.9 L587.6 137.9 L588.6 137.9 L589.6 137.9 L590.6 137.9 L591.6 137.9 L592.6 137.9 L593.6 137.9 L594.6 137.9 L595.6 137.9 L596.6 137.9 L597.6 137.9 L598.6 137.9 L599.6 137.9 L600.6 137.9 L601.6 137.9 L602.6 137.9 L603.6 137.9 L604.6 137.9 L605.6 137.9 L606.6 137.9 L607.6 137.89 L608.6 137.88 L609.6 137.84 L610.6 137.78 L611.6 137.7 L612.6 137.6 L613.6 137.53 L614.6 137.5 L615.6 137.54 L616.6 137.62 L617.6 137.73 L618.6 137.87 L619.6 138.11 L620.6 138.4 L621.6 138.48 L622.6 138.27 L623.6 138.05 L624.6 138.07 L625.6 138.28 L626.6 138.45 L627.6 138.29 L628.6 137.9 L629.6 137.61 L630.6 137.51 L631.6 137.57 L632.6 137.7 L633.6 137.81 L634.6 137.87 L635.6 137.89 L636.6 137.9 L637.6 137.9 L638.6 137.9 L639.6 137.9 L640.6 137.9 L641.6 137.9 L642.6 137.9 L643.6 137.9 L644.6 137.9 L645.6 137.9 L646.6 137.9 L647.6 137.9 L648.6 137.9 L649.6 137.9 L650.6 137.9 L651.6 137.9 L652.6 137.9 L653.6 137.9 L654.6 137.9 L655.6 137.9 L656.6 137.9" stroke="#c8e7f7" stroke-width="1.0" fill="none"/>
<path d="M369.6 134.99 L370.6 135 L371.6 135.01 L372.6 135.03 L373.6 135.06 L374.6 135.11 L375.6 135.16 L376.6 135.24 L377.6 135.32 L378.6 135.4 L379.6 135.48 L380.6 135.53 L381.6 135.56 L382.6 135.55 L383.6 135.48 L384.6 135.36 L385.6 135.19 L386.6 134.98 L387.6 134.73 L388.6 134.46 L389.6 134.17 L390.6 133.9 L391.6 133.63 L392.6 133.39 L393.6 133.18 L394.6 133 L395.6 133.16 L396.6 132.85 L397.6 132.63 L398.6 132.61 L399.6 132.58 L400.6 132.09 L401.6 132.63 L402.6 132.49 L403.6 132.5 L404.6 132.38 L405.6 132.01 L406.6 131.91 L407.6 131.58 L408.6 131.82 L409.6 131.29 L410.6 131.19 L411.6 131.22 L412.6 131.17 L413.6 131.34 L414.6 131.26 L415.6 131.43 L416.6 131.84 L417.6 132.25 L418.6 133.01 L419.6 133.49 L420.6 134.85 L421.6 135.37 L422.6 135.54 L423.6 135.77 L424.6 135.63 L425.6 135.13 L426.6 134.29 L427.6 134.1 L428.6 133.6 L429.6 132.79 L430.6 132.51 L431.6 132.06 L432.6 131.99 L433.6 132.12 L434.6 132.04 L435.6 132.43 L436.6 131.96 L437.6 131.87 L438.6 132.52 L439.6 132.22 L440.6 131.95 L441.6 132.23 L442.6 131.87 L443.6 132.22 L444.6 132.53 L445.6 132.45 L446.6 132.32 L447.6 132.01 L448.6 132.07 L449.6 131.91 L450.6 132.3 L451.6 132.08 L452.6 132.18 L453.6 131.77 L454.6 131.58 L455.6 131.83 L456.6 131.75 L457.6 131.42 L458.6 131.12 L459.6 130.82 L460.6 130.44 L461.6 129.75 L462.6 129.63 L463.6 129.23 L464.6 128.76 L465.6 128.58 L466.6 128.66 L467.6 128.64 L468.6 128.99 L469.6 129.29 L470.6 129.1 L471.6 129.65 L472.6 129.92 L473.6 130.17 L474.6 130.03 L475.6 130.21 L476.6 130.5 L477.6 130.75 L478.6 131 L479.6 131.53 L480.6 131.94 L481.6 132.09 L482.6 132.01 L483.6 132.29 L484.6 132.52 L485.6 132.13 L486.6 132.63 L487.6 132.87 L488.6 132.83 L489.6 132.84 L490.6 132.66 L491.6 132.43 L492.6 132.83 L493.6 132.47 L494.6 132.75 L495.6 132.81 L496.6 132.35 L497.6 132.29 L498.6 132.61 L499.6 132.41 L500.6 131.97 L501.6 131.9 L502.6 131.88 L503.6 132.38 L504.6 132.28 L505.6 132.04 L506.6 132.02 L507.6 132 L508.6 131.98 L509.6 131.97 L510.6 131.95 L511.6 131.94 L512.6 131.92 L513.6 131.91 L514.6 131.9 L515.6 131.88 L516.6 131.88 L517.6 131.87 L518.6 131.86 L519.6 131.86 L520.6 131.86 L521.6 131.87 L522.6 131.89 L523.6 131.91 L524.6 131.94 L525.6 131.98 L526.6 132.06 L527.6 132.16 L528.6 132.31 L529.6 132.47 L530.6 132.66 L531.6 132.87 L532.6 133.08 L533.6 133.3 L534.6 133.51 L535.6 133.72 L536.6 133.91 L537.6 134.08 L538.6 134.23 L539.6 134.36 L540.6 134.46 L541.6 134.55 L542.6 134.62 L543.6 134.67 L544.6 134.72 L545.6 134.75 L546.6 134.78 L547.6 134.8 L548.6 134.81 L549.6 134.82 L550.6 134.83 L551.6 134.84 L552.6 134.85 L553.6 134.85 L554.6 134.86 L555.6 134.86 L556.6 134.86 L557.6 134.86 L558.6 134.87 L559.6 134.87 L560.6 134.87 L561.6 134.87 L562.6 134.87 L563.6 134.87 L564.6 134.88 L565.6 134.88 L566.6 134.88 L567.6 134.88 L568.6 134.88 L569.6 134.88 L570.6 134.88 L571.6 134.89 L572.6 134.89 L573.6 134.89 L574.6 134.89 L575.6 134.89 L576.6 134.89 L577.6 134.89 L578.6 134.9 L579.6 134.9 L580.6 134.9 L581.6 134.9 L582.6 134.9 L583.6 134.9 L584.6 134.9 L585.6 134.9 L586.6 134.91 L587.6 134.91 L588.6 134.91 L589.6 134.91 L590.6 134.91 L591.6 134.91 L592.6 134.91 L593.6 134.92 L594.6 134.92 L595.6 134.92 L596.6 134.92 L597.6 134.92 L598.6 134.92 L599.6 134.92 L600.6 134.92 L601.6 134.93 L602.6 134.93 L603.6 134.93 L604.6 134.93 L605.6 134.93 L606.6 134.93 L607.6 134.92 L608.6 134.91 L609.6 134.87 L610.6 134.81 L611.6 134.72 L612.6 134.62 L613.6 134.54 L614.6 134.51 L615.6 134.55 L616.6 134.64 L617.6 134.76 L618.6 134.91 L619.6 135.17 L620.6 135.49 L621.6 135.58 L622.6 135.35 L623.6 135.12 L624.6 135.14 L625.6 135.37 L626.6 135.56 L627.6 135.38 L628.6 134.96 L629.6 134.65 L630.6 134.54 L631.6 134.61 L632.6 134.75 L633.6 134.87 L634.6 134.94 L635.6 134.96 L636.6 134.97 L637.6 134.97 L638.6 134.98 L639.6 134.98 L640.6 134.98 L641.6 134.98 L642.6 134.98 L643.6 134.98 L644.6 134.98 L645.6 134.98 L646.6 134.99 L647.6 134.99 L648.6 134.99 L649.6 134.99 L650.6 134.99 L651.6 134.99 L652.6 134.99 L653.6 135 L654.6 135 L655.6 135 L656.6 135" stroke="#b7e0f4" stroke-width="1.0" fill="none"/>
<path d="M369.6 132.29 L370.6 132.3 L371.6 132.31 L372.6 132.33 L373.6 132.36 L374.6 132.4 L375.6 132.46 L376.6 132.53 L377.6 132.61 L378.6 132.68 L379.6 132.75 L380.6 132.8 L381.6 132.81 L382.6 132.77 L383.6 132.68 L384.6 132.53 L385.6 132.34 L386.6 132.09 L387.6 131.81 L388.6 131.52 L389.6 131.21 L390.6 130.91 L391.6 130.62 L392.6 130.36 L393.6 130.12 L394.6 129.92 L395.6 129.5 L396.6 129.83 L397.6 129.82 L398.6 129.5 L399.6 129.2 L400.6 129.27 L401.6 128.92 L402.6 128.78 L403.6 129.39 L404.6 129.09 L405.6 128.91 L406.6 129.08 L407.6 128.61 L408.6 128.78 L409.6 128.61 L410.6 128.07 L411.6 128.03 L412.6 128.04 L413.6 128.05 L414.6 128.41 L415.6 128.39 L416.6 128.81 L417.6 129.05 L418.6 130.18 L419.6 130.5 L420.6 131.33 L421.6 132.12 L422.6 132.83 L423.6 132.65 L424.6 132.79 L425.6 132 L426.6 131.35 L427.6 130.66 L428.6 129.71 L429.6 129.56 L430.6 129.1 L431.6 128.8 L432.6 129.27 L433.6 128.8 L434.6 128.99 L435.6 129.16 L436.6 129.04 L437.6 128.88 L438.6 129.01 L439.6 129.04 L440.6 129.2 L441.6 128.72 L442.6 129.04 L443.6 128.82 L444.6 128.84 L445.6 129.18 L446.6 128.99 L447.6 129.02 L448.6 129.14 L449.6 129.22 L450.6 128.85 L451.6 128.91 L452.6 128.75 L453.6 128.65 L454.6 128.62 L455.6 128.26 L456.6 128.07 L457.6 127.73 L458.6 127.71 L459.6 127.15 L460.6 126.85 L461.6 126.45 L462.6 125.54 L463.6 125.35 L464.6 125.28 L465.6 124.95 L466.6 124.29 L467.6 124.24 L468.6 124.51 L469.6 124.37 L470.6 124.69 L471.6 124.83 L472.6 125.55 L473.6 125.97 L474.6 126.42 L475.6 126.27 L476.6 127.03 L477.6 127.35 L478.6 127.32 L479.6 128.15 L480.6 128.5 L481.6 128.23 L482.6 128.96 L483.6 128.77 L484.6 129 L485.6 129.49 L486.6 129.49 L487.6 129.11 L488.6 129.35 L489.6 129.44 L490.6 129.33 L491.6 129.21 L492.6 129.26 L493.6 129.49 L494.6 128.93 L495.6 129.23 L496.6 129.08 L497.6 128.7 L498.6 128.85 L499.6 128.98 L500.6 128.83 L501.6 128.45 L502.6 129.04 L503.6 128.84 L504.6 128.92 L505.6 128.54 L506.6 128.49 L507.6 128.44 L508.6 128.39 L509.6 128.34 L510.6 128.29 L511.6 128.25 L512.6 128.2 L513.6 128.16 L514.6 128.11 L515.6 128.07 L516.6 128.03 L517.6 128 L518.6 127.96 L519.6 127.94 L520.6 127.92 L521.6 127.9 L522.6 127.89 L523.6 127.9 L524.6 127.91 L525.6 127.94 L526.6 127.98 L527.6 128.08 L528.6 128.26 L529.6 128.51 L530.6 128.8 L531.6 129.11 L532.6 129.42 L533.6 129.73 L534.6 130.01 L535.6 130.27 L536.6 130.51 L537.6 130.72 L538.6 130.91 L539.6 131.07 L540.6 131.2 L541.6 131.31 L542.6 131.4 L543.6 131.47 L544.6 131.53 L545.6 131.57 L546.6 131.61 L547.6 131.64 L548.6 131.66 L549.6 131.67 L550.6 131.69 L551.6 131.7 L552.6 131.7 L553.6 131.71 L554.6 131.72 L555.6 131.72 L556.6 131.73 L557.6 131.73 L558.6 131.73 L559.6 131.74 L560.6 131.74 L561.6 131.74 L562.6 131.75 L563.6 131.75 L564.6 131.75 L565.6 131.76 L566.6 131.76 L567.6 131.76 L568.6 131.76 L569.6 131.77 L570.6 131.77 L571.6 131.77 L572.6 131.77 L573.6 131.78 L574.6 131.78 L575.6 131.78 L576.6 131.79 L577.6 131.79 L578.6 131.79 L579.6 131.79 L580.6 131.8 L581.6 131.8 L582.6 131.8 L583.6 131.8 L584.6 131.81 L585.6 131.81 L586.6 131.81 L587.6 131.81 L588.6 131.82 L589.6 131.82 L590.6 131.82 L591.6 131.83 L592.6 131.83 L593.6 131.83 L594.6 131.83 L595.6 131.84 L596.6 131.84 L597.6 131.84 L598.6 131.84 L599.6 131.85 L600.6 131.85 L601.6 131.85 L602.6 131.85 L603.6 131.86 L604.6 131.86 L605.6 131.86 L606.6 131.86 L607.6 131.86 L608.6 131.84 L609.6 131.81 L610.6 131.74 L611.6 131.64 L612.6 131.53 L613.6 131.45 L614.6 131.42 L615.6 131.47 L616.6 131.57 L617.6 131.69 L618.6 131.86 L619.6 132.14 L620.6 132.48 L621.6 132.58 L622.6 132.33 L623.6 132.09 L624.6 132.11 L625.6 132.36 L626.6 132.57 L627.6 132.37 L628.6 131.93 L629.6 131.59 L630.6 131.48 L631.6 131.55 L632.6 131.7 L633.6 131.83 L634.6 131.91 L635.6 131.93 L636.6 131.94 L637.6 131.95 L638.6 131.95 L639.6 131.95 L640.6 131.96 L641.6 131.96 L642.6 131.96 L643.6 131.96 L644.6 131.97 L645.6 131.97 L646.6 131.97 L647.6 131.97 L648.6 131.98 L649.6 131.98 L650.6 131.98 L651.6 131.99 L652.6 131.99 L653.6 131.99 L654.6 131.99 L655.6 132 L656.6 132" stroke="#a6d8f2" stroke-width="1.0" fill="none"/>
<path d="M369.6 126.5 L370.6 126.5 L371.6 126.52 L372.6 126.54 L373.6 126.58 L374.6 126.63 L375.6 126.69 L376.6 126.77 L377.6 126.86 L378.6 126.95 L379.6 127.03 L380.6 127.08 L381.6 127.1 L382.6 127.08 L383.6 127.01 L384.6 126.89 L385.6 126.72 L386.6 126.51 L387.6 126.27 L388.6 126.02 L389.6 125.76 L390.6 125.51 L391.6 125.28 L392.6 125.06 L393.6 124.87 L394.6 124.71 L395.6 124.3 L396.6 124.3 L397.6 124.05 L398.6 124.49 L399.6 124.07 L400.6 123.92 L401.6 124.08 L402.6 124.37 L403.6 124.25 L404.6 123.79 L405.6 123.62 L406.6 124.05 L407.6 123.68 L408.6 123.63 L409.6 123.07 L410.6 122.93 L411.6 123.3 L412.6 123.1 L413.6 122.9 L414.6 123.63 L415.6 123.63 L416.6 124.06 L417.6 124 L418.6 125.12 L419.6 125.27 L420.6 126.59 L421.6 126.99 L422.6 127.4 L423.6 127.7 L424.6 127.77 L425.6 126.81 L426.6 126.05 L427.6 125.64 L428.6 124.85 L429.6 124.33 L430.6 124.08 L431.6 123.84 L432.6 123.86 L433.6 123.89 L434.6 123.87 L435.6 124.18 L436.6 123.85 L437.6 124 L438.6 123.77 L439.6 123.89 L440.6 123.66 L441.6 123.82 L442.6 123.66 L443.6 124.16 L444.6 124.03 L445.6 123.77 L446.6 123.97 L447.6 124.28 L448.6 123.68 L449.6 124.15 L450.6 123.84 L451.6 123.82 L452.6 123.97 L453.6 123.54 L454.6 123.45 L455.6 123.36 L456.6 123.29 L457.6 122.5 L458.6 122.44 L459.6 121.9 L460.6 121.35 L461.6 120.67 L462.6 120.1 L463.6 119.4 L464.6 119.02 L465.6 118.63 L466.6 118.87 L467.6 118.43 L468.6 118.39 L469.6 118.46 L470.6 119.2 L471.6 119.5 L472.6 119.72 L473.6 119.84 L474.6 120.24 L475.6 120.72 L476.6 121.28 L477.6 121.5 L478.6 122.11 L479.6 122.37 L480.6 123.2 L481.6 123.51 L482.6 123.48 L483.6 123.5 L484.6 124.2 L485.6 123.9 L486.6 124.06 L487.6 123.9 L488.6 124.23 L489.6 124.31 L490.6 124.33 L491.6 124.08 L492.6 124.23 L493.6 123.8 L494.6 123.88 L495.6 123.64 L496.6 123.74 L497.6 123.36 L498.6 123.21 L499.6 123.27 L500.6 123.09 L501.6 123.2 L502.6 123.02 L503.6 123.03 L504.6 122.82 L505.6 122.57 L506.6 122.41 L507.6 122.26 L508.6 122.1 L509.6 121.93 L510.6 121.76 L511.6 121.59 L512.6 121.41 L513.6 121.24 L514.6 121.06 L515.6 120.89 L516.6 120.72 L517.6 120.56 L518.6 120.4 L519.6 120.26 L520.6 120.12 L521.6 120 L522.6 119.9 L523.6 119.81 L524.6 119.74 L525.6 119.7 L526.6 119.68 L527.6 119.69 L528.6 119.73 L529.6 119.88 L530.6 120.29 L531.6 120.95 L532.6 121.76 L533.6 122.62 L534.6 123.48 L535.6 124.27 L536.6 124.96 L537.6 125.55 L538.6 126.05 L539.6 126.46 L540.6 126.81 L541.6 127.09 L542.6 127.33 L543.6 127.52 L544.6 127.67 L545.6 127.79 L546.6 127.88 L547.6 127.95 L548.6 128.01 L549.6 128.05 L550.6 128.09 L551.6 128.11 L552.6 128.13 L553.6 128.15 L554.6 128.16 L555.6 128.17 L556.6 128.18 L557.6 128.19 L558.6 128.2 L559.6 128.2 L560.6 128.21 L561.6 128.21 L562.6 128.22 L563.6 128.22 L564.6 128.23 L565.6 128.23 L566.6 128.24 L567.6 128.24 L568.6 128.25 L569.6 128.25 L570.6 128.25 L571.6 128.26 L572.6 128.26 L573.6 128.27 L574.6 128.27 L575.6 128.27 L576.6 128.28 L577.6 128.28 L578.6 128.29 L579.6 128.29 L580.6 128.29 L581.6 128.3 L582.6 128.3 L583.6 128.31 L584.6 128.31 L585.6 128.31 L586.6 128.32 L587.6 128.32 L588.6 128.33 L589.6 128.33 L590.6 128.33 L591.6 128.34 L592.6 128.34 L593.6 128.35 L594.6 128.35 L595.6 128.35 L596.6 128.36 L597.6 128.36 L598.6 128.37 L599.6 128.37 L600.6 128.37 L601.6 128.38 L602.6 128.38 L603.6 128.39 L604.6 128.39 L605.6 128.39 L606.6 128.39 L607.6 128.39 L608.6 128.38 L609.6 128.34 L610.6 128.27 L611.6 128.17 L612.6 128.05 L613.6 127.96 L614.6 127.94 L615.6 127.99 L616.6 128.09 L617.6 128.23 L618.6 128.4 L619.6 128.71 L620.6 129.08 L621.6 129.18 L622.6 128.92 L623.6 128.66 L624.6 128.68 L625.6 128.96 L626.6 129.17 L627.6 128.97 L628.6 128.49 L629.6 128.13 L630.6 128.01 L631.6 128.09 L632.6 128.25 L633.6 128.39 L634.6 128.47 L635.6 128.51 L636.6 128.52 L637.6 128.52 L638.6 128.53 L639.6 128.53 L640.6 128.53 L641.6 128.54 L642.6 128.54 L643.6 128.55 L644.6 128.55 L645.6 128.55 L646.6 128.56 L647.6 128.56 L648.6 128.57 L649.6 128.57 L650.6 128.57 L651.6 128.58 L652.6 128.58 L653.6 128.59 L654.6 128.59 L655.6 128.59 L656.6 128.6" stroke="#90cfef" stroke-width="1.0" fill="none"/>
<path d="M369.6 122.39 L370.6 122.4 L371.6 122.41 L372.6 122.43 L373.6 122.46 L374.6 122.51 L375.6 122.57 L376.6 122.65 L377.6 122.73 L378.6 122.81 L379.6 122.87 L380.6 122.91 L381.6 122.9 L382.6 122.84 L383.6 122.73 L384.6 122.57 L385.6 122.35 L386.6 122.1 L387.6 121.81 L388.6 121.51 L389.6 121.21 L390.6 120.91 L391.6 120.62 L392.6 120.36 L393.6 120.13 L394.6 119.93 L395.6 119.91 L396.6 119.88 L397.6 119.42 L398.6 119.28 L399.6 119.65 L400.6 119 L401.6 119.34 L402.6 119.22 L403.6 118.74 L404.6 119.21 L405.6 119.16 L406.6 118.86 L407.6 118.8 L408.6 118.71 L409.6 118.09 L410.6 118.24 L411.6 118.15 L412.6 118.37 L413.6 118.39 L414.6 118.53 L415.6 118.57 L416.6 119.11 L417.6 119.4 L418.6 119.99 L419.6 120.36 L420.6 120.98 L421.6 121.74 L422.6 122.37 L423.6 122.35 L424.6 122.67 L425.6 121.98 L426.6 121.37 L427.6 120.69 L428.6 120.15 L429.6 119.59 L430.6 118.96 L431.6 119.36 L432.6 119.24 L433.6 119.03 L434.6 119.03 L435.6 119.11 L436.6 118.7 L437.6 119.17 L438.6 118.83 L439.6 118.7 L440.6 118.84 L441.6 119.16 L442.6 118.79 L443.6 119.17 L444.6 119.33 L445.6 118.99 L446.6 118.9 L447.6 118.96 L448.6 119.08 L449.6 119.11 L450.6 118.97 L451.6 118.92 L452.6 118.43 L453.6 118.35 L454.6 118.24 L455.6 118.35 L456.6 117.74 L457.6 117.56 L458.6 116.72 L459.6 116.24 L460.6 115.82 L461.6 115.5 L462.6 114.9 L463.6 114.3 L464.6 113.49 L465.6 113.21 L466.6 112.86 L467.6 112.7 L468.6 112.44 L469.6 113.1 L470.6 112.82 L471.6 113.68 L472.6 114.04 L473.6 113.84 L474.6 114.64 L475.6 115.41 L476.6 116.04 L477.6 116.18 L478.6 116.54 L479.6 116.95 L480.6 117.88 L481.6 117.73 L482.6 118.31 L483.6 118.28 L484.6 118.79 L485.6 119.28 L486.6 118.85 L487.6 119.44 L488.6 119.29 L489.6 119.58 L490.6 119.45 L491.6 119.08 L492.6 119.48 L493.6 119.09 L494.6 118.66 L495.6 118.51 L496.6 118.71 L497.6 118.53 L498.6 118.26 L499.6 117.99 L500.6 117.96 L501.6 117.77 L502.6 117.95 L503.6 117.18 L504.6 117.51 L505.6 117.13 L506.6 116.92 L507.6 116.7 L508.6 116.47 L509.6 116.23 L510.6 115.98 L511.6 115.73 L512.6 115.46 L513.6 115.19 L514.6 114.92 L515.6 114.65 L516.6 114.37 L517.6 114.11 L518.6 113.84 L519.6 113.59 L520.6 113.35 L521.6 113.12 L522.6 112.91 L523.6 112.72 L524.6 112.56 L525.6 112.42 L526.6 112.31 L527.6 112.23 L528.6 112.19 L529.6 112.18 L530.6 112.22 L531.6 112.47 L532.6 113.14 L533.6 114.14 L534.6 115.33 L535.6 116.57 L536.6 117.74 L537.6 118.78 L538.6 119.66 L539.6 120.37 L540.6 120.94 L541.6 121.39 L542.6 121.75 L543.6 122.04 L544.6 122.26 L545.6 122.44 L546.6 122.59 L547.6 122.7 L548.6 122.78 L549.6 122.85 L550.6 122.9 L551.6 122.94 L552.6 122.97 L553.6 122.99 L554.6 123.01 L555.6 123.03 L556.6 123.04 L557.6 123.05 L558.6 123.06 L559.6 123.07 L560.6 123.08 L561.6 123.09 L562.6 123.09 L563.6 123.1 L564.6 123.1 L565.6 123.11 L566.6 123.12 L567.6 123.12 L568.6 123.13 L569.6 123.13 L570.6 123.14 L571.6 123.14 L572.6 123.15 L573.6 123.15 L574.6 123.16 L575.6 123.17 L576.6 123.17 L577.6 123.18 L578.6 123.18 L579.6 123.19 L580.6 123.19 L581.6 123.2 L582.6 123.2 L583.6 123.21 L584.6 123.21 L585.6 123.22 L586.6 123.22 L587.6 123.23 L588.6 123.23 L589.6 123.24 L590.6 123.25 L591.6 123.25 L592.6 123.26 L593.6 123.26 L594.6 123.27 L595.6 123.27 L596.6 123.28 L597.6 123.28 L598.6 123.29 L599.6 123.29 L600.6 123.3 L601.6 123.3 L602.6 123.31 L603.6 123.31 L604.6 123.32 L605.6 123.32 L606.6 123.33 L607.6 123.32 L608.6 123.31 L609.6 123.27 L610.6 123.2 L611.6 123.09 L612.6 122.97 L613.6 122.88 L614.6 122.85 L615.6 122.9 L616.6 123.02 L617.6 123.16 L618.6 123.35 L619.6 123.67 L620.6 124.07 L621.6 124.18 L622.6 123.9 L623.6 123.63 L624.6 123.65 L625.6 123.95 L626.6 124.18 L627.6 123.96 L628.6 123.45 L629.6 123.07 L630.6 122.95 L631.6 123.03 L632.6 123.2 L633.6 123.36 L634.6 123.44 L635.6 123.48 L636.6 123.49 L637.6 123.5 L638.6 123.5 L639.6 123.51 L640.6 123.51 L641.6 123.52 L642.6 123.52 L643.6 123.53 L644.6 123.53 L645.6 123.54 L646.6 123.54 L647.6 123.55 L648.6 123.56 L649.6 123.56 L650.6 123.57 L651.6 123.57 L652.6 123.58 L653.6 123.58 L654.6 123.59 L655.6 123.59 L656.6 123.6" stroke="#76c4eb" stroke-width="1.0" fill="none"/>
<path d="M369.6 119.37 L370.6 119.37 L371.6 119.37 L372.6 119.38 L373.6 119.41 L374.6 119.44 L375.6 119.49 L376.6 119.54 L377.6 119.59 L378.6 119.64 L379.6 119.65 L380.6 119.63 L381.6 119.55 L382.6 119.4 L383.6 119.18 L384.6 118.9 L385.6 118.55 L386.6 118.14 L387.6 117.7 L388.6 117.23 L389.6 116.75 L390.6 116.28 L391.6 115.82 L392.6 115.4 L393.6 115.02 L394.6 114.68 L395.6 114.62 L396.6 113.86 L397.6 114.22 L398.6 113.89 L399.6 113.87 L400.6 113.32 L401.6 113.27 L402.6 113.19 L403.6 113.52 L404.6 113.13 L405.6 112.85 L406.6 112.76 L407.6 112.51 L408.6 112.19 L409.6 112.08 L410.6 112.46 L411.6 111.99 L412.6 112.42 L413.6 111.99 L414.6 112.13 L415.6 112.51 L416.6 112.6 L417.6 113.17 L418.6 114.15 L419.6 114.8 L420.6 115.5 L421.6 116.05 L422.6 116.72 L423.6 116.9 L424.6 116.43 L425.6 116.06 L426.6 114.94 L427.6 114.75 L428.6 113.98 L429.6 113.76 L430.6 113.41 L431.6 113 L432.6 112.75 L433.6 113.32 L434.6 112.75 L435.6 112.98 L436.6 112.89 L437.6 112.86 L438.6 113.17 L439.6 113.33 L440.6 112.83 L441.6 113.11 L442.6 112.86 L443.6 113.04 L444.6 112.92 L445.6 112.76 L446.6 112.75 L447.6 112.77 L448.6 113.24 L449.6 112.93 L450.6 112.69 L451.6 113.11 L452.6 113.08 L453.6 112.56 L454.6 112.17 L455.6 111.96 L456.6 111.58 L457.6 111.37 L458.6 110.72 L459.6 110.28 L460.6 109.68 L461.6 109.23 L462.6 108.77 L463.6 108.01 L464.6 107.16 L465.6 106.63 L466.6 106.32 L467.6 105.98 L468.6 105.89 L469.6 105.78 L470.6 106.13 L471.6 106.93 L472.6 106.75 L473.6 107.49 L474.6 108.12 L475.6 108.85 L476.6 108.98 L477.6 109.59 L478.6 110.12 L479.6 110.74 L480.6 111.25 L481.6 112.03 L482.6 112.33 L483.6 112.67 L484.6 112.35 L485.6 112.58 L486.6 113.23 L487.6 113.49 L488.6 113.28 L489.6 113.4 L490.6 112.99 L491.6 113.23 L492.6 113.54 L493.6 113.38 L494.6 113.29 L495.6 113.23 L496.6 112.58 L497.6 112.32 L498.6 112.19 L499.6 112.27 L500.6 112.2 L501.6 112.19 L502.6 111.84 L503.6 111.58 L504.6 111.44 L505.6 111.02 L506.6 110.77 L507.6 110.51 L508.6 110.23 L509.6 109.93 L510.6 109.61 L511.6 109.28 L512.6 108.94 L513.6 108.58 L514.6 108.21 L515.6 107.83 L516.6 107.44 L517.6 107.05 L518.6 106.66 L519.6 106.28 L520.6 105.89 L521.6 105.52 L522.6 105.17 L523.6 104.83 L524.6 104.51 L525.6 104.22 L526.6 103.95 L527.6 103.73 L528.6 103.54 L529.6 103.39 L530.6 103.29 L531.6 103.24 L532.6 103.25 L533.6 103.33 L534.6 103.86 L535.6 104.97 L536.6 106.48 L537.6 108.21 L538.6 109.95 L539.6 111.57 L540.6 112.98 L541.6 114.15 L542.6 115.09 L543.6 115.85 L544.6 116.44 L545.6 116.91 L546.6 117.28 L547.6 117.57 L548.6 117.8 L549.6 117.97 L550.6 118.11 L551.6 118.21 L552.6 118.29 L553.6 118.36 L554.6 118.4 L555.6 118.44 L556.6 118.47 L557.6 118.49 L558.6 118.51 L559.6 118.53 L560.6 118.54 L561.6 118.55 L562.6 118.56 L563.6 118.57 L564.6 118.58 L565.6 118.59 L566.6 118.59 L567.6 118.6 L568.6 118.61 L569.6 118.62 L570.6 118.62 L571.6 118.63 L572.6 118.64 L573.6 118.64 L574.6 118.65 L575.6 118.66 L576.6 118.66 L577.6 118.67 L578.6 118.68 L579.6 118.68 L580.6 118.69 L581.6 118.7 L582.6 118.7 L583.6 118.71 L584.6 118.72 L585.6 118.72 L586.6 118.73 L587.6 118.74 L588.6 118.74 L589.6 118.75 L590.6 118.76 L591.6 118.76 L592.6 118.77 L593.6 118.78 L594.6 118.78 L595.6 118.79 L596.6 118.8 L597.6 118.8 L598.6 118.81 L599.6 118.82 L600.6 118.82 L601.6 118.83 L602.6 118.84 L603.6 118.84 L604.6 118.85 L605.6 118.86 L606.6 118.86 L607.6 118.86 L608.6 118.84 L609.6 118.8 L610.6 118.73 L611.6 118.61 L612.6 118.49 L613.6 118.39 L614.6 118.36 L615.6 118.42 L616.6 118.54 L617.6 118.69 L618.6 118.9 L619.6 119.24 L620.6 119.66 L621.6 119.78 L622.6 119.49 L623.6 119.19 L624.6 119.22 L625.6 119.54 L626.6 119.78 L627.6 119.56 L628.6 119.02 L629.6 118.61 L630.6 118.48 L631.6 118.57 L632.6 118.76 L633.6 118.92 L634.6 119.01 L635.6 119.05 L636.6 119.06 L637.6 119.07 L638.6 119.08 L639.6 119.08 L640.6 119.09 L641.6 119.1 L642.6 119.1 L643.6 119.11 L644.6 119.12 L645.6 119.12 L646.6 119.13 L647.6 119.14 L648.6 119.14 L649.6 119.15 L650.6 119.16 L651.6 119.16 L652.6 119.17 L653.6 119.18 L654.6 119.18 L655.6 119.19 L656.6 119.2" stroke="#5ebae7" stroke-width="1.0" fill="none"/>
<path d="M369.6 110.49 L370.6 110.5 L371.6 110.51 L372.6 110.53 L373.6 110.57 L374.6 110.62 L375.6 110.69 L376.6 110.77 L377.6 110.85 L378.6 110.93 L379.6 110.99 L380.6 111.02 L381.6 111 L382.6 110.92 L383.6 110.79 L384.6 110.6 L385.6 110.37 L386.6 110.1 L387.6 109.81 L388.6 109.51 L389.6 109.2 L390.6 108.91 L391.6 108.63 L392.6 108.37 L393.6 108.14 L394.6 107.94 L395.6 107.74 L396.6 107.66 L397.6 107.18 L398.6 107.6 L399.6 107.14 L400.6 107.55 L401.6 107.29 L402.6 106.99 L403.6 106.8 L404.6 106.8 L405.6 106.97 L406.6 106.89 L407.6 106.34 L408.6 106.16 L409.6 106.33 L410.6 106.24 L411.6 106.02 L412.6 105.89 L413.6 106.2 L414.6 105.92 L415.6 106.34 L416.6 106.77 L417.6 107.56 L418.6 107.91 L419.6 108.77 L420.6 109.23 L421.6 109.74 L422.6 110.22 L423.6 110.88 L424.6 110.5 L425.6 109.74 L426.6 108.9 L427.6 108.57 L428.6 108.13 L429.6 107.53 L430.6 107.14 L431.6 107.26 L432.6 107.36 L433.6 106.83 L434.6 106.68 L435.6 106.89 L436.6 106.95 L437.6 107.13 L438.6 106.79 L439.6 107.21 L440.6 107.17 L441.6 107 L442.6 106.79 L443.6 107.33 L444.6 106.86 L445.6 107.22 L446.6 106.8 L447.6 106.78 L448.6 107.14 L449.6 106.79 L450.6 107.21 L451.6 106.83 L452.6 106.52 L453.6 106.41 L454.6 106.36 L455.6 106.29 L456.6 106.17 L457.6 105.2 L458.6 104.88 L459.6 104.17 L460.6 104.04 L461.6 102.73 L462.6 101.91 L463.6 101.16 L464.6 100.68 L465.6 100.42 L466.6 99.92 L467.6 99.49 L468.6 99.55 L469.6 99.55 L470.6 99.32 L471.6 99.53 L472.6 100.48 L473.6 100.86 L474.6 100.94 L475.6 102.01 L476.6 102.46 L477.6 103.1 L478.6 103.69 L479.6 104.16 L480.6 104.59 L481.6 105.27 L482.6 105.76 L483.6 106.55 L484.6 106.29 L485.6 107.14 L486.6 106.81 L487.6 107.07 L488.6 107.5 L489.6 107.55 L490.6 107.29 L491.6 106.99 L492.6 107.22 L493.6 107.05 L494.6 107.31 L495.6 106.65 L496.6 106.61 L497.6 106.81 L498.6 106.01 L499.6 106.08 L500.6 106.15 L501.6 105.9 L502.6 105.16 L503.6 104.9 L504.6 104.66 L505.6 104.68 L506.6 104.37 L507.6 104.04 L508.6 103.69 L509.6 103.31 L510.6 102.91 L511.6 102.48 L512.6 102.03 L513.6 101.55 L514.6 101.06 L515.6 100.55 L516.6 100.03 L517.6 99.49 L518.6 98.95 L519.6 98.4 L520.6 97.86 L521.6 97.32 L522.6 96.79 L523.6 96.28 L524.6 95.79 L525.6 95.32 L526.6 94.89 L527.6 94.5 L528.6 94.15 L529.6 93.86 L530.6 93.61 L531.6 93.43 L532.6 93.31 L533.6 93.26 L534.6 93.3 L535.6 93.61 L536.6 94.75 L537.6 96.57 L538.6 98.83 L539.6 101.23 L540.6 103.53 L541.6 105.58 L542.6 107.29 L543.6 108.68 L544.6 109.77 L545.6 110.61 L546.6 111.26 L547.6 111.77 L548.6 112.16 L549.6 112.46 L550.6 112.69 L551.6 112.87 L552.6 113 L553.6 113.11 L554.6 113.19 L555.6 113.25 L556.6 113.29 L557.6 113.33 L558.6 113.36 L559.6 113.38 L560.6 113.4 L561.6 113.41 L562.6 113.43 L563.6 113.44 L564.6 113.45 L565.6 113.46 L566.6 113.47 L567.6 113.48 L568.6 113.49 L569.6 113.5 L570.6 113.51 L571.6 113.51 L572.6 113.52 L573.6 113.53 L574.6 113.54 L575.6 113.55 L576.6 113.56 L577.6 113.56 L578.6 113.57 L579.6 113.58 L580.6 113.59 L581.6 113.6 L582.6 113.6 L583.6 113.61 L584.6 113.62 L585.6 113.63 L586.6 113.64 L587.6 113.64 L588.6 113.65 L589.6 113.66 L590.6 113.67 L591.6 113.68 L592.6 113.68 L593.6 113.69 L594.6 113.7 L595.6 113.71 L596.6 113.72 L597.6 113.72 L598.6 113.73 L599.6 113.74 L600.6 113.75 L601.6 113.76 L602.6 113.76 L603.6 113.77 L604.6 113.78 L605.6 113.79 L606.6 113.79 L607.6 113.79 L608.6 113.78 L609.6 113.73 L610.6 113.65 L611.6 113.54 L612.6 113.4 L613.6 113.3 L614.6 113.27 L615.6 113.34 L616.6 113.46 L617.6 113.63 L618.6 113.84 L619.6 114.21 L620.6 114.66 L621.6 114.78 L622.6 114.47 L623.6 114.16 L624.6 114.19 L625.6 114.53 L626.6 114.79 L627.6 114.55 L628.6 113.98 L629.6 113.55 L630.6 113.41 L631.6 113.51 L632.6 113.71 L633.6 113.88 L634.6 113.98 L635.6 114.02 L636.6 114.03 L637.6 114.04 L638.6 114.05 L639.6 114.06 L640.6 114.07 L641.6 114.08 L642.6 114.08 L643.6 114.09 L644.6 114.1 L645.6 114.11 L646.6 114.12 L647.6 114.12 L648.6 114.13 L649.6 114.14 L650.6 114.15 L651.6 114.16 L652.6 114.16 L653.6 114.17 L654.6 114.18 L655.6 114.19 L656.6 114.2" stroke="#49aee2" stroke-width="1.0" fill="none"/>
<path d="M369.6 104.49 L370.6 104.5 L371.6 104.51 L372.6 104.54 L373.6 104.58 L374.6 104.63 L375.6 104.71 L376.6 104.79 L377.6 104.88 L378.6 104.96 L379.6 105.01 L380.6 105.03 L381.6 105 L382.6 104.91 L383.6 104.77 L384.6 104.56 L385.6 104.31 L386.6 104.03 L387.6 103.72 L388.6 103.41 L389.6 103.09 L390.6 102.79 L391.6 102.51 L392.6 102.25 L393.6 102.03 L394.6 101.84 L395.6 101.97 L396.6 101.37 L397.6 101.6 L398.6 101.62 L399.6 101.15 L400.6 101.04 L401.6 101.46 L402.6 101.17 L403.6 100.85 L404.6 101.1 L405.6 100.72 L406.6 100.57 L407.6 100.23 L408.6 100.61 L409.6 100.57 L410.6 100.25 L411.6 100.38 L412.6 99.72 L413.6 99.91 L414.6 100.22 L415.6 100.77 L416.6 101.09 L417.6 101.14 L418.6 101.62 L419.6 102.43 L420.6 103.22 L421.6 104.19 L422.6 104.14 L423.6 104.73 L424.6 104.49 L425.6 104.07 L426.6 103.4 L427.6 102.63 L428.6 101.87 L429.6 101.45 L430.6 101.21 L431.6 101.34 L432.6 100.77 L433.6 100.81 L434.6 101.19 L435.6 100.83 L436.6 100.7 L437.6 100.67 L438.6 101.04 L439.6 100.88 L440.6 101.34 L441.6 101.27 L442.6 101.34 L443.6 100.83 L444.6 100.71 L445.6 100.71 L446.6 100.99 L447.6 101.13 L448.6 100.93 L449.6 100.75 L450.6 100.84 L451.6 100.92 L452.6 100.87 L453.6 100.79 L454.6 100.68 L455.6 100.31 L456.6 99.6 L457.6 99.69 L458.6 98.8 L459.6 98.38 L460.6 97.55 L461.6 97.03 L462.6 95.84 L463.6 95.04 L464.6 94.25 L465.6 93.47 L466.6 93.4 L467.6 92.78 L468.6 92.4 L469.6 92.45 L470.6 93.03 L471.6 92.99 L472.6 93.22 L473.6 94.16 L474.6 94.66 L475.6 95.57 L476.6 95.65 L477.6 96.61 L478.6 97.54 L479.6 98.2 L480.6 98.86 L481.6 98.8 L482.6 99.46 L483.6 99.76 L484.6 100.16 L485.6 101 L486.6 100.96 L487.6 101.36 L488.6 101.08 L489.6 101.48 L490.6 101.19 L491.6 101.01 L492.6 101.29 L493.6 101.28 L494.6 100.54 L495.6 100.7 L496.6 100.51 L497.6 100.01 L498.6 99.87 L499.6 99.46 L500.6 99.23 L501.6 98.98 L502.6 98.92 L503.6 98.63 L504.6 97.96 L505.6 97.8 L506.6 97.4 L507.6 96.97 L508.6 96.51 L509.6 96.03 L510.6 95.51 L511.6 94.98 L512.6 94.41 L513.6 93.82 L514.6 93.22 L515.6 92.59 L516.6 91.96 L517.6 91.32 L518.6 90.67 L519.6 90.03 L520.6 89.4 L521.6 88.78 L522.6 88.18 L523.6 87.61 L524.6 87.07 L525.6 86.57 L526.6 86.12 L527.6 85.72 L528.6 85.38 L529.6 85.1 L530.6 84.89 L531.6 84.76 L532.6 84.7 L533.6 84.73 L534.6 85.32 L535.6 86.86 L536.6 89.11 L537.6 91.75 L538.6 94.43 L539.6 96.91 L540.6 99.03 L541.6 100.74 L542.6 102.05 L543.6 103.03 L544.6 103.76 L545.6 104.29 L546.6 104.68 L547.6 104.98 L548.6 105.2 L549.6 105.36 L550.6 105.49 L551.6 105.58 L552.6 105.65 L553.6 105.71 L554.6 105.75 L555.6 105.79 L556.6 105.81 L557.6 105.84 L558.6 105.86 L559.6 105.87 L560.6 105.89 L561.6 105.9 L562.6 105.91 L563.6 105.92 L564.6 105.93 L565.6 105.94 L566.6 105.95 L567.6 105.96 L568.6 105.97 L569.6 105.98 L570.6 105.99 L571.6 106 L572.6 106.01 L573.6 106.02 L574.6 106.03 L575.6 106.04 L576.6 106.05 L577.6 106.06 L578.6 106.07 L579.6 106.08 L580.6 106.09 L581.6 106.1 L582.6 106.1 L583.6 106.11 L584.6 106.12 L585.6 106.13 L586.6 106.14 L587.6 106.15 L588.6 106.16 L589.6 106.17 L590.6 106.18 L591.6 106.19 L592.6 106.2 L593.6 106.21 L594.6 106.22 L595.6 106.23 L596.6 106.24 L597.6 106.24 L598.6 106.25 L599.6 106.26 L600.6 106.27 L601.6 106.28 L602.6 106.29 L603.6 106.3 L604.6 106.31 L605.6 106.32 L606.6 106.32 L607.6 106.32 L608.6 106.31 L609.6 106.27 L610.6 106.18 L611.6 106.06 L612.6 105.92 L613.6 105.81 L614.6 105.79 L615.6 105.85 L616.6 105.99 L617.6 106.16 L618.6 106.39 L619.6 106.78 L620.6 107.25 L621.6 107.38 L622.6 107.06 L623.6 106.73 L624.6 106.76 L625.6 107.12 L626.6 107.4 L627.6 107.14 L628.6 106.54 L629.6 106.09 L630.6 105.95 L631.6 106.05 L632.6 106.26 L633.6 106.44 L634.6 106.54 L635.6 106.59 L636.6 106.61 L637.6 106.62 L638.6 106.63 L639.6 106.64 L640.6 106.65 L641.6 106.66 L642.6 106.67 L643.6 106.67 L644.6 106.68 L645.6 106.69 L646.6 106.7 L647.6 106.71 L648.6 106.72 L649.6 106.73 L650.6 106.74 L651.6 106.75 L652.6 106.76 L653.6 106.77 L654.6 106.78 L655.6 106.79 L656.6 106.8" stroke="#34a1dc" stroke-width="1.0" fill="none"/>
<path d="M369.6 101.98 L370.6 101.98 L371.6 101.99 L372.6 102.01 L373.6 102.04 L374.6 102.08 L375.6 102.14 L376.6 102.2 L377.6 102.26 L378.6 102.3 L379.6 102.3 L380.6 102.25 L381.6 102.12 L382.6 101.92 L383.6 101.64 L384.6 101.27 L385.6 100.84 L386.6 100.35 L387.6 99.82 L388.6 99.28 L389.6 98.73 L390.6 98.21 L391.6 97.72 L392.6 97.28 L393.6 96.89 L394.6 96.56 L395.6 95.94 L396.6 95.93 L397.6 95.99 L398.6 95.5 L399.6 95.47 L400.6 95.3 L401.6 95.63 L402.6 95.38 L403.6 94.96 L404.6 94.89 L405.6 94.99 L406.6 94.97 L407.6 94.88 L408.6 94.33 L409.6 94.23 L410.6 94.47 L411.6 94.19 L412.6 94.07 L413.6 94.14 L414.6 94.73 L415.6 94.5 L416.6 95 L417.6 95.3 L418.6 95.92 L419.6 96.92 L420.6 97.74 L421.6 97.96 L422.6 98.31 L423.6 98.84 L424.6 98.28 L425.6 97.67 L426.6 97.67 L427.6 96.69 L428.6 96.41 L429.6 95.7 L430.6 95.77 L431.6 95.31 L432.6 95.03 L433.6 94.88 L434.6 95.24 L435.6 95.3 L436.6 95.49 L437.6 94.91 L438.6 95.29 L439.6 95.11 L440.6 95.2 L441.6 94.95 L442.6 95.05 L443.6 95.21 L444.6 95.49 L445.6 94.92 L446.6 95.18 L447.6 95.39 L448.6 95.49 L449.6 94.93 L450.6 94.84 L451.6 95.35 L452.6 95.28 L453.6 94.8 L454.6 94.31 L455.6 94.66 L456.6 93.94 L457.6 93.86 L458.6 93.1 L459.6 92.58 L460.6 91.34 L461.6 90.91 L462.6 89.59 L463.6 88.76 L464.6 88.13 L465.6 87.27 L466.6 86.09 L467.6 85.58 L468.6 85.4 L469.6 85.41 L470.6 85.45 L471.6 85.56 L472.6 86.1 L473.6 87.01 L474.6 87.82 L475.6 87.97 L476.6 89.13 L477.6 90.08 L478.6 90.37 L479.6 91.69 L480.6 91.9 L481.6 92.88 L482.6 93.41 L483.6 93.96 L484.6 94.16 L485.6 94.58 L486.6 94.95 L487.6 95.04 L488.6 95.32 L489.6 95.23 L490.6 95.22 L491.6 94.87 L492.6 95.18 L493.6 94.94 L494.6 94.57 L495.6 94.72 L496.6 94.48 L497.6 93.99 L498.6 93.5 L499.6 93.4 L500.6 92.81 L501.6 92.48 L502.6 92.32 L503.6 91.68 L504.6 91.51 L505.6 91.11 L506.6 90.63 L507.6 90.13 L508.6 89.61 L509.6 89.05 L510.6 88.47 L511.6 87.87 L512.6 87.24 L513.6 86.6 L514.6 85.95 L515.6 85.29 L516.6 84.62 L517.6 83.96 L518.6 83.31 L519.6 82.67 L520.6 82.05 L521.6 81.46 L522.6 80.9 L523.6 80.38 L524.6 79.91 L525.6 79.49 L526.6 79.13 L527.6 78.83 L528.6 78.6 L529.6 78.44 L530.6 78.36 L531.6 78.37 L532.6 78.86 L533.6 80.33 L534.6 82.56 L535.6 85.21 L536.6 87.94 L537.6 90.47 L538.6 92.63 L539.6 94.35 L540.6 95.67 L541.6 96.63 L542.6 97.33 L543.6 97.83 L544.6 98.18 L545.6 98.45 L546.6 98.64 L547.6 98.78 L548.6 98.89 L549.6 98.97 L550.6 99.03 L551.6 99.08 L552.6 99.12 L553.6 99.15 L554.6 99.17 L555.6 99.19 L556.6 99.21 L557.6 99.22 L558.6 99.24 L559.6 99.25 L560.6 99.27 L561.6 99.28 L562.6 99.29 L563.6 99.3 L564.6 99.31 L565.6 99.32 L566.6 99.33 L567.6 99.34 L568.6 99.36 L569.6 99.37 L570.6 99.38 L571.6 99.39 L572.6 99.4 L573.6 99.41 L574.6 99.42 L575.6 99.43 L576.6 99.44 L577.6 99.45 L578.6 99.46 L579.6 99.47 L580.6 99.48 L581.6 99.49 L582.6 99.51 L583.6 99.52 L584.6 99.53 L585.6 99.54 L586.6 99.55 L587.6 99.56 L588.6 99.57 L589.6 99.58 L590.6 99.59 L591.6 99.6 L592.6 99.61 L593.6 99.62 L594.6 99.63 L595.6 99.64 L596.6 99.65 L597.6 99.67 L598.6 99.68 L599.6 99.69 L600.6 99.7 L601.6 99.71 L602.6 99.72 L603.6 99.73 L604.6 99.74 L605.6 99.75 L606.6 99.76 L607.6 99.76 L608.6 99.74 L609.6 99.7 L610.6 99.61 L611.6 99.48 L612.6 99.34 L613.6 99.23 L614.6 99.2 L615.6 99.27 L616.6 99.41 L617.6 99.6 L618.6 99.84 L619.6 100.24 L620.6 100.74 L621.6 100.88 L622.6 100.54 L623.6 100.2 L624.6 100.23 L625.6 100.61 L626.6 100.9 L627.6 100.64 L628.6 100.01 L629.6 99.53 L630.6 99.38 L631.6 99.49 L632.6 99.71 L633.6 99.9 L634.6 100.01 L635.6 100.06 L636.6 100.08 L637.6 100.09 L638.6 100.1 L639.6 100.11 L640.6 100.12 L641.6 100.14 L642.6 100.15 L643.6 100.16 L644.6 100.17 L645.6 100.18 L646.6 100.19 L647.6 100.2 L648.6 100.21 L649.6 100.22 L650.6 100.23 L651.6 100.24 L652.6 100.25 L653.6 100.26 L654.6 100.27 L655.6 100.29 L656.6 100.3" stroke="#2e98d3" stroke-width="1.0" fill="none"/>
<path d="M369.6 97.18 L370.6 97.18 L371.6 97.19 L372.6 97.21 L373.6 97.24 L374.6 97.28 L375.6 97.34 L376.6 97.39 L377.6 97.44 L378.6 97.47 L379.6 97.45 L380.6 97.37 L381.6 97.2 L382.6 96.94 L383.6 96.58 L384.6 96.12 L385.6 95.59 L386.6 94.99 L387.6 94.35 L388.6 93.69 L389.6 93.04 L390.6 92.42 L391.6 91.85 L392.6 91.35 L393.6 90.91 L394.6 90.55 L395.6 90.26 L396.6 89.69 L397.6 89.92 L398.6 89.38 L399.6 89.72 L400.6 89.66 L401.6 89.39 L402.6 89 L403.6 89.24 L404.6 89.06 L405.6 89.36 L406.6 88.65 L407.6 89.01 L408.6 88.94 L409.6 88.6 L410.6 88.52 L411.6 88 L412.6 88.53 L413.6 88.24 L414.6 88.71 L415.6 88.9 L416.6 88.7 L417.6 89.58 L418.6 90.25 L419.6 90.33 L420.6 91.26 L421.6 92.21 L422.6 92.25 L423.6 92.92 L424.6 92.3 L425.6 92.21 L426.6 91.11 L427.6 90.72 L428.6 90.47 L429.6 89.56 L430.6 89.33 L431.6 89.34 L432.6 89.13 L433.6 88.9 L434.6 88.99 L435.6 88.97 L436.6 89.51 L437.6 89.33 L438.6 89.48 L439.6 88.97 L440.6 89.4 L441.6 88.93 L442.6 89.22 L443.6 89.29 L444.6 89.1 L445.6 89.46 L446.6 89.23 L447.6 89.24 L448.6 89.43 L449.6 88.87 L450.6 89.45 L451.6 89.14 L452.6 88.89 L453.6 89.04 L454.6 88.48 L455.6 88.74 L456.6 88.11 L457.6 87.52 L458.6 87.24 L459.6 86.34 L460.6 85.36 L461.6 84.86 L462.6 83.39 L463.6 82.91 L464.6 81.5 L465.6 80.82 L466.6 80.24 L467.6 79.32 L468.6 78.96 L469.6 78.56 L470.6 78.43 L471.6 78.71 L472.6 79.23 L473.6 80.13 L474.6 80.7 L475.6 81.55 L476.6 82.66 L477.6 82.99 L478.6 83.91 L479.6 85.04 L480.6 85.37 L481.6 86.06 L482.6 86.94 L483.6 87.32 L484.6 87.95 L485.6 88.24 L486.6 88.78 L487.6 88.99 L488.6 88.85 L489.6 89.21 L490.6 89.09 L491.6 88.78 L492.6 89.22 L493.6 88.56 L494.6 88.28 L495.6 87.99 L496.6 88.08 L497.6 87.94 L498.6 87.54 L499.6 86.92 L500.6 86.45 L501.6 85.88 L502.6 85.91 L503.6 85.41 L504.6 84.79 L505.6 84.41 L506.6 83.89 L507.6 83.35 L508.6 82.79 L509.6 82.2 L510.6 81.59 L511.6 80.96 L512.6 80.32 L513.6 79.67 L514.6 79.01 L515.6 78.35 L516.6 77.7 L517.6 77.07 L518.6 76.44 L519.6 75.85 L520.6 75.28 L521.6 74.75 L522.6 74.27 L523.6 73.83 L524.6 73.45 L525.6 73.12 L526.6 72.87 L527.6 72.68 L528.6 72.56 L529.6 72.53 L530.6 72.7 L531.6 73.77 L532.6 75.7 L533.6 78.18 L534.6 80.87 L535.6 83.45 L536.6 85.72 L537.6 87.57 L538.6 88.99 L539.6 90.04 L540.6 90.8 L541.6 91.33 L542.6 91.71 L543.6 91.98 L544.6 92.18 L545.6 92.32 L546.6 92.43 L547.6 92.51 L548.6 92.57 L549.6 92.62 L550.6 92.66 L551.6 92.69 L552.6 92.71 L553.6 92.73 L554.6 92.75 L555.6 92.77 L556.6 92.79 L557.6 92.8 L558.6 92.81 L559.6 92.83 L560.6 92.84 L561.6 92.85 L562.6 92.86 L563.6 92.88 L564.6 92.89 L565.6 92.9 L566.6 92.91 L567.6 92.93 L568.6 92.94 L569.6 92.95 L570.6 92.96 L571.6 92.97 L572.6 92.99 L573.6 93 L574.6 93.01 L575.6 93.02 L576.6 93.03 L577.6 93.05 L578.6 93.06 L579.6 93.07 L580.6 93.08 L581.6 93.09 L582.6 93.11 L583.6 93.12 L584.6 93.13 L585.6 93.14 L586.6 93.15 L587.6 93.17 L588.6 93.18 L589.6 93.19 L590.6 93.2 L591.6 93.21 L592.6 93.23 L593.6 93.24 L594.6 93.25 L595.6 93.26 L596.6 93.27 L597.6 93.29 L598.6 93.3 L599.6 93.31 L600.6 93.32 L601.6 93.33 L602.6 93.35 L603.6 93.36 L604.6 93.37 L605.6 93.38 L606.6 93.39 L607.6 93.39 L608.6 93.38 L609.6 93.33 L610.6 93.24 L611.6 93.11 L612.6 92.96 L613.6 92.84 L614.6 92.81 L615.6 92.88 L616.6 93.04 L617.6 93.23 L618.6 93.48 L619.6 93.91 L620.6 94.44 L621.6 94.59 L622.6 94.23 L623.6 93.87 L624.6 93.9 L625.6 94.3 L626.6 94.61 L627.6 94.33 L628.6 93.67 L629.6 93.17 L630.6 93.02 L631.6 93.13 L632.6 93.36 L633.6 93.56 L634.6 93.68 L635.6 93.73 L636.6 93.75 L637.6 93.77 L638.6 93.78 L639.6 93.79 L640.6 93.8 L641.6 93.81 L642.6 93.83 L643.6 93.84 L644.6 93.85 L645.6 93.86 L646.6 93.88 L647.6 93.89 L648.6 93.9 L649.6 93.91 L650.6 93.92 L651.6 93.94 L652.6 93.95 L653.6 93.96 L654.6 93.97 L655.6 93.98 L656.6 94" stroke="#2c8ec8" stroke-width="1.0" fill="none"/>
<path d="M369.6 90.99 L370.6 90.99 L371.6 91.01 L372.6 91.03 L373.6 91.06 L374.6 91.11 L375.6 91.17 L376.6 91.24 L377.6 91.29 L378.6 91.32 L379.6 91.3 L380.6 91.22 L381.6 91.04 L382.6 90.76 L383.6 90.37 L384.6 89.89 L385.6 89.32 L386.6 88.68 L387.6 88.01 L388.6 87.33 L389.6 86.66 L390.6 86.04 L391.6 85.49 L392.6 85.01 L393.6 84.61 L394.6 84.29 L395.6 84.13 L396.6 83.78 L397.6 83.97 L398.6 83.71 L399.6 83.28 L400.6 83.66 L401.6 83 L402.6 83.28 L403.6 83.13 L404.6 82.93 L405.6 82.7 L406.6 83.08 L407.6 82.39 L408.6 82.6 L409.6 82.72 L410.6 82.02 L411.6 81.98 L412.6 82.24 L413.6 82.23 L414.6 82.46 L415.6 82.81 L416.6 82.69 L417.6 83.23 L418.6 83.79 L419.6 84.3 L420.6 85.61 L421.6 86.19 L422.6 86.6 L423.6 86.26 L424.6 86.66 L425.6 86.13 L426.6 85.32 L427.6 84.88 L428.6 84.13 L429.6 83.56 L430.6 83.22 L431.6 83.15 L432.6 82.94 L433.6 83.11 L434.6 83.38 L435.6 83.34 L436.6 83.44 L437.6 83.35 L438.6 83.04 L439.6 83.24 L440.6 83.16 L441.6 83.4 L442.6 83.22 L443.6 83.03 L444.6 83.3 L445.6 83.52 L446.6 82.99 L447.6 83.45 L448.6 82.83 L449.6 82.99 L450.6 82.94 L451.6 83.25 L452.6 83.31 L453.6 83.06 L454.6 82.61 L455.6 82.78 L456.6 82.1 L457.6 81.65 L458.6 81.62 L459.6 80.82 L460.6 80.14 L461.6 79.29 L462.6 78.59 L463.6 77.27 L464.6 76.56 L465.6 75.53 L466.6 74.81 L467.6 73.85 L468.6 73.59 L469.6 73.26 L470.6 73.09 L471.6 73.22 L472.6 73.87 L473.6 74 L474.6 75.22 L475.6 75.41 L476.6 76.12 L477.6 76.99 L478.6 78.39 L479.6 78.78 L480.6 79.39 L481.6 80.01 L482.6 80.64 L483.6 81.63 L484.6 82.05 L485.6 82.47 L486.6 82.78 L487.6 82.51 L488.6 83 L489.6 82.89 L490.6 83.18 L491.6 83.09 L492.6 82.99 L493.6 82.21 L494.6 82.52 L495.6 82.26 L496.6 81.96 L497.6 81.03 L498.6 80.73 L499.6 80.27 L500.6 79.8 L501.6 79.93 L502.6 79.45 L503.6 78.84 L504.6 78.47 L505.6 77.72 L506.6 77.17 L507.6 76.6 L508.6 76.01 L509.6 75.41 L510.6 74.78 L511.6 74.15 L512.6 73.51 L513.6 72.87 L514.6 72.23 L515.6 71.6 L516.6 70.99 L517.6 70.4 L518.6 69.83 L519.6 69.3 L520.6 68.81 L521.6 68.36 L522.6 67.96 L523.6 67.62 L524.6 67.35 L525.6 67.14 L526.6 66.99 L527.6 66.93 L528.6 66.95 L529.6 67.61 L530.6 69.19 L531.6 71.44 L532.6 74.03 L533.6 76.63 L534.6 79 L535.6 81 L536.6 82.58 L537.6 83.77 L538.6 84.63 L539.6 85.25 L540.6 85.69 L541.6 86.01 L542.6 86.24 L543.6 86.4 L544.6 86.53 L545.6 86.62 L546.6 86.69 L547.6 86.74 L548.6 86.78 L549.6 86.82 L550.6 86.84 L551.6 86.87 L552.6 86.89 L553.6 86.91 L554.6 86.92 L555.6 86.94 L556.6 86.95 L557.6 86.97 L558.6 86.98 L559.6 87 L560.6 87.01 L561.6 87.03 L562.6 87.04 L563.6 87.05 L564.6 87.07 L565.6 87.08 L566.6 87.09 L567.6 87.11 L568.6 87.12 L569.6 87.13 L570.6 87.15 L571.6 87.16 L572.6 87.17 L573.6 87.19 L574.6 87.2 L575.6 87.21 L576.6 87.23 L577.6 87.24 L578.6 87.25 L579.6 87.27 L580.6 87.28 L581.6 87.29 L582.6 87.31 L583.6 87.32 L584.6 87.33 L585.6 87.35 L586.6 87.36 L587.6 87.37 L588.6 87.39 L589.6 87.4 L590.6 87.41 L591.6 87.43 L592.6 87.44 L593.6 87.45 L594.6 87.47 L595.6 87.48 L596.6 87.49 L597.6 87.51 L598.6 87.52 L599.6 87.53 L600.6 87.55 L601.6 87.56 L602.6 87.57 L603.6 87.59 L604.6 87.6 L605.6 87.61 L606.6 87.62 L607.6 87.62 L608.6 87.61 L609.6 87.56 L610.6 87.47 L611.6 87.33 L612.6 87.17 L613.6 87.05 L614.6 87.02 L615.6 87.1 L616.6 87.26 L617.6 87.46 L618.6 87.73 L619.6 88.18 L620.6 88.73 L621.6 88.89 L622.6 88.51 L623.6 88.14 L624.6 88.17 L625.6 88.59 L626.6 88.91 L627.6 88.62 L628.6 87.93 L629.6 87.41 L630.6 87.25 L631.6 87.37 L632.6 87.61 L633.6 87.83 L634.6 87.95 L635.6 88 L636.6 88.03 L637.6 88.04 L638.6 88.05 L639.6 88.07 L640.6 88.08 L641.6 88.09 L642.6 88.11 L643.6 88.12 L644.6 88.13 L645.6 88.15 L646.6 88.16 L647.6 88.17 L648.6 88.19 L649.6 88.2 L650.6 88.21 L651.6 88.23 L652.6 88.24 L653.6 88.25 L654.6 88.27 L655.6 88.28 L656.6 88.29" stroke="#2a84ba" stroke-width="1.0" fill="none"/>
<path d="M369.6 86.49 L370.6 86.5 L371.6 86.51 L372.6 86.53 L373.6 86.57 L374.6 86.62 L375.6 86.68 L376.6 86.74 L377.6 86.79 L378.6 86.81 L379.6 86.77 L380.6 86.64 L381.6 86.41 L382.6 86.05 L383.6 85.57 L384.6 84.97 L385.6 84.27 L386.6 83.48 L387.6 82.65 L388.6 81.82 L389.6 81.03 L390.6 80.31 L391.6 79.69 L392.6 79.16 L393.6 78.74 L394.6 78.4 L395.6 78.24 L396.6 77.8 L397.6 77.52 L398.6 77.41 L399.6 77.79 L400.6 77.34 L401.6 77.36 L402.6 77.38 L403.6 77.03 L404.6 77.12 L405.6 77.04 L406.6 77.21 L407.6 76.82 L408.6 76.62 L409.6 76.91 L410.6 76.45 L411.6 76.61 L412.6 76.42 L413.6 76.07 L414.6 76.48 L415.6 76.72 L416.6 77.29 L417.6 77.44 L418.6 78.26 L419.6 78.82 L420.6 79.31 L421.6 80.41 L422.6 80.33 L423.6 80.99 L424.6 80.35 L425.6 79.78 L426.6 79.31 L427.6 79.07 L428.6 78.69 L429.6 77.6 L430.6 77.68 L431.6 77.53 L432.6 77.67 L433.6 77.2 L434.6 77.4 L435.6 77.3 L436.6 77.63 L437.6 77.23 L438.6 77.71 L439.6 77.25 L440.6 77.2 L441.6 77.54 L442.6 77.4 L443.6 77.13 L444.6 77.49 L445.6 77.1 L446.6 77.59 L447.6 77.53 L448.6 77.58 L449.6 77.45 L450.6 77.23 L451.6 77.23 L452.6 77.16 L453.6 77.41 L454.6 76.71 L455.6 77.07 L456.6 76.2 L457.6 75.98 L458.6 75.57 L459.6 75.45 L460.6 74.49 L461.6 73.63 L462.6 73.11 L463.6 71.71 L464.6 70.92 L465.6 70.03 L466.6 69.34 L467.6 68.63 L468.6 68.04 L469.6 67.54 L470.6 67.47 L471.6 67.49 L472.6 68.28 L473.6 68.61 L474.6 69.25 L475.6 69.53 L476.6 70.48 L477.6 71.51 L478.6 72.18 L479.6 72.65 L480.6 73.63 L481.6 74.62 L482.6 74.79 L483.6 75.3 L484.6 75.84 L485.6 76.49 L486.6 76.87 L487.6 76.58 L488.6 76.69 L489.6 76.78 L490.6 76.79 L491.6 76.8 L492.6 76.36 L493.6 76.24 L494.6 75.84 L495.6 76.06 L496.6 75.51 L497.6 74.67 L498.6 74.85 L499.6 73.79 L500.6 73.51 L501.6 73.43 L502.6 72.78 L503.6 72.2 L504.6 71.43 L505.6 70.89 L506.6 70.29 L507.6 69.67 L508.6 69.04 L509.6 68.39 L510.6 67.74 L511.6 67.08 L512.6 66.42 L513.6 65.78 L514.6 65.14 L515.6 64.52 L516.6 63.93 L517.6 63.37 L518.6 62.85 L519.6 62.37 L520.6 61.95 L521.6 61.58 L522.6 61.27 L523.6 61.02 L524.6 60.85 L525.6 60.76 L526.6 60.74 L527.6 61.05 L528.6 62.33 L529.6 64.41 L530.6 66.99 L531.6 69.72 L532.6 72.3 L533.6 74.56 L534.6 76.41 L535.6 77.85 L536.6 78.92 L537.6 79.71 L538.6 80.28 L539.6 80.69 L540.6 80.99 L541.6 81.21 L542.6 81.37 L543.6 81.48 L544.6 81.57 L545.6 81.64 L546.6 81.69 L547.6 81.73 L548.6 81.76 L549.6 81.79 L550.6 81.82 L551.6 81.84 L552.6 81.86 L553.6 81.87 L554.6 81.89 L555.6 81.91 L556.6 81.92 L557.6 81.94 L558.6 81.95 L559.6 81.97 L560.6 81.98 L561.6 82 L562.6 82.01 L563.6 82.03 L564.6 82.04 L565.6 82.06 L566.6 82.07 L567.6 82.09 L568.6 82.1 L569.6 82.12 L570.6 82.13 L571.6 82.15 L572.6 82.16 L573.6 82.17 L574.6 82.19 L575.6 82.2 L576.6 82.22 L577.6 82.23 L578.6 82.25 L579.6 82.26 L580.6 82.28 L581.6 82.29 L582.6 82.31 L583.6 82.32 L584.6 82.34 L585.6 82.35 L586.6 82.37 L587.6 82.38 L588.6 82.4 L589.6 82.41 L590.6 82.42 L591.6 82.44 L592.6 82.45 L593.6 82.47 L594.6 82.48 L595.6 82.5 L596.6 82.51 L597.6 82.53 L598.6 82.54 L599.6 82.56 L600.6 82.57 L601.6 82.59 L602.6 82.6 L603.6 82.62 L604.6 82.63 L605.6 82.64 L606.6 82.65 L607.6 82.66 L608.6 82.64 L609.6 82.59 L610.6 82.5 L611.6 82.35 L612.6 82.19 L613.6 82.07 L614.6 82.03 L615.6 82.12 L616.6 82.29 L617.6 82.5 L618.6 82.78 L619.6 83.25 L620.6 83.82 L621.6 83.99 L622.6 83.59 L623.6 83.2 L624.6 83.24 L625.6 83.68 L626.6 84.02 L627.6 83.72 L628.6 83 L629.6 82.45 L630.6 82.29 L631.6 82.41 L632.6 82.67 L633.6 82.89 L634.6 83.02 L635.6 83.07 L636.6 83.1 L637.6 83.11 L638.6 83.13 L639.6 83.14 L640.6 83.16 L641.6 83.17 L642.6 83.19 L643.6 83.2 L644.6 83.22 L645.6 83.23 L646.6 83.25 L647.6 83.26 L648.6 83.28 L649.6 83.29 L650.6 83.31 L651.6 83.32 L652.6 83.34 L653.6 83.35 L654.6 83.36 L655.6 83.38 L656.6 83.39" stroke="#2a78a8" stroke-width="1.0" fill="none"/>
<path d="M369.6 81 L370.6 81.01 L371.6 81.02 L372.6 81.05 L373.6 81.09 L374.6 81.14 L375.6 81.21 L376.6 81.27 L377.6 81.33 L378.6 81.35 L379.6 81.3 L380.6 81.15 L381.6 80.89 L382.6 80.5 L383.6 79.96 L384.6 79.28 L385.6 78.48 L386.6 77.6 L387.6 76.68 L388.6 75.77 L389.6 74.94 L390.6 74.2 L391.6 73.58 L392.6 73.08 L393.6 72.69 L394.6 72.39 L395.6 71.96 L396.6 72.1 L397.6 71.61 L398.6 71.6 L399.6 71.66 L400.6 71.36 L401.6 71.58 L402.6 71.8 L403.6 71.68 L404.6 71.47 L405.6 71.46 L406.6 71.22 L407.6 70.84 L408.6 71 L409.6 70.69 L410.6 70.79 L411.6 70.82 L412.6 70.46 L413.6 70.62 L414.6 70.89 L415.6 70.89 L416.6 71.09 L417.6 71.88 L418.6 72.56 L419.6 73.16 L420.6 73.82 L421.6 74.57 L422.6 74.9 L423.6 75.02 L424.6 74.71 L425.6 74.16 L426.6 73.78 L427.6 72.79 L428.6 72.48 L429.6 72.34 L430.6 72.03 L431.6 71.83 L432.6 71.48 L433.6 71.57 L434.6 71.58 L435.6 71.69 L436.6 71.54 L437.6 71.72 L438.6 71.9 L439.6 71.38 L440.6 71.71 L441.6 71.79 L442.6 71.52 L443.6 71.59 L444.6 71.93 L445.6 71.27 L446.6 71.62 L447.6 71.35 L448.6 71.78 L449.6 71.88 L450.6 71.56 L451.6 71.23 L452.6 71.51 L453.6 71.4 L454.6 71.4 L455.6 71.09 L456.6 70.94 L457.6 70.75 L458.6 70.13 L459.6 69.53 L460.6 69.28 L461.6 68.03 L462.6 67.53 L463.6 66.42 L464.6 65.74 L465.6 64.37 L466.6 64.11 L467.6 62.93 L468.6 62.14 L469.6 61.93 L470.6 61.9 L471.6 61.71 L472.6 62.24 L473.6 62.64 L474.6 63.37 L475.6 63.77 L476.6 64.42 L477.6 65.16 L478.6 66.3 L479.6 67.21 L480.6 67.66 L481.6 68.13 L482.6 69.15 L483.6 69.4 L484.6 69.73 L485.6 70.03 L486.6 70.75 L487.6 70.94 L488.6 70.9 L489.6 70.78 L490.6 70.75 L491.6 70.35 L492.6 70.62 L493.6 69.89 L494.6 69.73 L495.6 69.45 L496.6 69 L497.6 68.27 L498.6 67.63 L499.6 67.27 L500.6 66.41 L501.6 66.32 L502.6 65.38 L503.6 65.1 L504.6 64.04 L505.6 63.54 L506.6 62.86 L507.6 62.16 L508.6 61.46 L509.6 60.76 L510.6 60.05 L511.6 59.35 L512.6 58.67 L513.6 58 L514.6 57.36 L515.6 56.75 L516.6 56.17 L517.6 55.65 L518.6 55.17 L519.6 54.75 L520.6 54.4 L521.6 54.11 L522.6 53.9 L523.6 53.77 L524.6 53.72 L525.6 53.84 L526.6 54.88 L527.6 56.86 L528.6 59.48 L529.6 62.35 L530.6 65.15 L531.6 67.65 L532.6 69.71 L533.6 71.31 L534.6 72.52 L535.6 73.39 L536.6 74.01 L537.6 74.44 L538.6 74.74 L539.6 74.95 L540.6 75.1 L541.6 75.22 L542.6 75.3 L543.6 75.37 L544.6 75.42 L545.6 75.46 L546.6 75.49 L547.6 75.52 L548.6 75.54 L549.6 75.57 L550.6 75.59 L551.6 75.6 L552.6 75.62 L553.6 75.64 L554.6 75.66 L555.6 75.67 L556.6 75.69 L557.6 75.71 L558.6 75.72 L559.6 75.74 L560.6 75.75 L561.6 75.77 L562.6 75.79 L563.6 75.8 L564.6 75.82 L565.6 75.84 L566.6 75.85 L567.6 75.87 L568.6 75.88 L569.6 75.9 L570.6 75.92 L571.6 75.93 L572.6 75.95 L573.6 75.96 L574.6 75.98 L575.6 76 L576.6 76.01 L577.6 76.03 L578.6 76.04 L579.6 76.06 L580.6 76.08 L581.6 76.09 L582.6 76.11 L583.6 76.12 L584.6 76.14 L585.6 76.16 L586.6 76.17 L587.6 76.19 L588.6 76.2 L589.6 76.22 L590.6 76.24 L591.6 76.25 L592.6 76.27 L593.6 76.28 L594.6 76.3 L595.6 76.32 L596.6 76.33 L597.6 76.35 L598.6 76.36 L599.6 76.38 L600.6 76.4 L601.6 76.41 L602.6 76.43 L603.6 76.44 L604.6 76.46 L605.6 76.47 L606.6 76.49 L607.6 76.49 L608.6 76.48 L609.6 76.43 L610.6 76.33 L611.6 76.18 L612.6 76.01 L613.6 75.88 L614.6 75.85 L615.6 75.93 L616.6 76.11 L617.6 76.33 L618.6 76.62 L619.6 77.11 L620.6 77.72 L621.6 77.89 L622.6 77.48 L623.6 77.07 L624.6 77.11 L625.6 77.57 L626.6 77.92 L627.6 77.61 L628.6 76.86 L629.6 76.29 L630.6 76.12 L631.6 76.25 L632.6 76.52 L633.6 76.75 L634.6 76.88 L635.6 76.94 L636.6 76.97 L637.6 76.99 L638.6 77.01 L639.6 77.02 L640.6 77.04 L641.6 77.05 L642.6 77.07 L643.6 77.09 L644.6 77.1 L645.6 77.12 L646.6 77.13 L647.6 77.15 L648.6 77.17 L649.6 77.18 L650.6 77.2 L651.6 77.21 L652.6 77.23 L653.6 77.25 L654.6 77.26 L655.6 77.28 L656.6 77.29" stroke="#2a6c95" stroke-width="1.0" fill="none"/>
<path d="M369.6 78.2 L370.6 78.21 L371.6 78.22 L372.6 78.25 L373.6 78.29 L374.6 78.34 L375.6 78.41 L376.6 78.47 L377.6 78.5 L378.6 78.49 L379.6 78.4 L380.6 78.18 L381.6 77.81 L382.6 77.26 L383.6 76.51 L384.6 75.57 L385.6 74.46 L386.6 73.24 L387.6 71.99 L388.6 70.78 L389.6 69.7 L390.6 68.78 L391.6 68.04 L392.6 67.47 L393.6 67.04 L394.6 66.73 L395.6 66.42 L396.6 66.18 L397.6 66.19 L398.6 65.95 L399.6 65.76 L400.6 66.22 L401.6 65.87 L402.6 65.81 L403.6 65.79 L404.6 65.84 L405.6 65.71 L406.6 65.73 L407.6 65.59 L408.6 65.21 L409.6 65.44 L410.6 65.25 L411.6 64.6 L412.6 65.12 L413.6 65.23 L414.6 65.29 L415.6 65.07 L416.6 65.89 L417.6 66.2 L418.6 66.33 L419.6 67 L420.6 68.37 L421.6 68.8 L422.6 68.96 L423.6 69.01 L424.6 68.86 L425.6 68.48 L426.6 68.26 L427.6 67.35 L428.6 66.69 L429.6 66.82 L430.6 66.49 L431.6 65.9 L432.6 66.33 L433.6 66.1 L434.6 66.2 L435.6 66.12 L436.6 66.28 L437.6 66.2 L438.6 66.24 L439.6 65.79 L440.6 66.13 L441.6 66.02 L442.6 66.17 L443.6 65.96 L444.6 66.27 L445.6 66.04 L446.6 65.83 L447.6 65.8 L448.6 65.73 L449.6 65.97 L450.6 65.64 L451.6 65.89 L452.6 65.62 L453.6 65.78 L454.6 65.67 L455.6 65.53 L456.6 65.53 L457.6 64.61 L458.6 64.79 L459.6 64.01 L460.6 63.43 L461.6 62.75 L462.6 62.01 L463.6 60.73 L464.6 59.77 L465.6 59.14 L466.6 57.57 L467.6 57.12 L468.6 56.44 L469.6 55.55 L470.6 55.74 L471.6 55.82 L472.6 56.2 L473.6 56.16 L474.6 57.14 L475.6 57.46 L476.6 58.18 L477.6 59.27 L478.6 59.49 L479.6 60.79 L480.6 61.52 L481.6 62.06 L482.6 63.09 L483.6 63.33 L484.6 63.89 L485.6 64.32 L486.6 64.77 L487.6 64.56 L488.6 64.8 L489.6 64.77 L490.6 64.75 L491.6 64.74 L492.6 64.09 L493.6 64.12 L494.6 63.41 L495.6 63.02 L496.6 62.36 L497.6 61.98 L498.6 61.74 L499.6 60.93 L500.6 60.4 L501.6 59.45 L502.6 58.78 L503.6 58.1 L504.6 57.62 L505.6 56.86 L506.6 56.16 L507.6 55.45 L508.6 54.74 L509.6 54.03 L510.6 53.34 L511.6 52.66 L512.6 52.01 L513.6 51.38 L514.6 50.8 L515.6 50.25 L516.6 49.75 L517.6 49.31 L518.6 48.93 L519.6 48.61 L520.6 48.37 L521.6 48.2 L522.6 48.1 L523.6 48.1 L524.6 48.69 L525.6 50.32 L526.6 52.7 L527.6 55.49 L528.6 58.32 L529.6 60.92 L530.6 63.11 L531.6 64.85 L532.6 66.15 L533.6 67.09 L534.6 67.75 L535.6 68.21 L536.6 68.52 L537.6 68.72 L538.6 68.86 L539.6 68.96 L540.6 69.04 L541.6 69.1 L542.6 69.15 L543.6 69.18 L544.6 69.22 L545.6 69.24 L546.6 69.27 L547.6 69.29 L548.6 69.31 L549.6 69.33 L550.6 69.35 L551.6 69.37 L552.6 69.39 L553.6 69.4 L554.6 69.42 L555.6 69.44 L556.6 69.46 L557.6 69.47 L558.6 69.49 L559.6 69.51 L560.6 69.53 L561.6 69.54 L562.6 69.56 L563.6 69.58 L564.6 69.6 L565.6 69.61 L566.6 69.63 L567.6 69.65 L568.6 69.67 L569.6 69.68 L570.6 69.7 L571.6 69.72 L572.6 69.73 L573.6 69.75 L574.6 69.77 L575.6 69.79 L576.6 69.8 L577.6 69.82 L578.6 69.84 L579.6 69.86 L580.6 69.87 L581.6 69.89 L582.6 69.91 L583.6 69.93 L584.6 69.94 L585.6 69.96 L586.6 69.98 L587.6 70 L588.6 70.01 L589.6 70.03 L590.6 70.05 L591.6 70.06 L592.6 70.08 L593.6 70.1 L594.6 70.12 L595.6 70.13 L596.6 70.15 L597.6 70.17 L598.6 70.19 L599.6 70.2 L600.6 70.22 L601.6 70.24 L602.6 70.26 L603.6 70.27 L604.6 70.29 L605.6 70.31 L606.6 70.32 L607.6 70.32 L608.6 70.31 L609.6 70.26 L610.6 70.16 L611.6 70 L612.6 69.83 L613.6 69.69 L614.6 69.66 L615.6 69.75 L616.6 69.93 L617.6 70.16 L618.6 70.47 L619.6 70.98 L620.6 71.61 L621.6 71.79 L622.6 71.36 L623.6 70.94 L624.6 70.98 L625.6 71.46 L626.6 71.83 L627.6 71.5 L628.6 70.72 L629.6 70.14 L630.6 69.95 L631.6 70.09 L632.6 70.37 L633.6 70.61 L634.6 70.75 L635.6 70.81 L636.6 70.84 L637.6 70.86 L638.6 70.88 L639.6 70.9 L640.6 70.92 L641.6 70.93 L642.6 70.95 L643.6 70.97 L644.6 70.98 L645.6 71 L646.6 71.02 L647.6 71.04 L648.6 71.05 L649.6 71.07 L650.6 71.09 L651.6 71.11 L652.6 71.12 L653.6 71.14 L654.6 71.16 L655.6 71.18 L656.6 71.19" stroke="#2a6183" stroke-width="1.0" fill="none"/>
<path d="M369.6 75.1 L370.6 75.11 L371.6 75.13 L372.6 75.15 L373.6 75.19 L374.6 75.24 L375.6 75.3 L376.6 75.35 L377.6 75.36 L378.6 75.31 L379.6 75.14 L380.6 74.81 L381.6 74.26 L382.6 73.45 L383.6 72.34 L384.6 70.93 L385.6 69.28 L386.6 67.47 L387.6 65.65 L388.6 63.95 L389.6 62.5 L390.6 61.32 L391.6 60.43 L392.6 59.77 L393.6 59.3 L394.6 58.98 L395.6 58.85 L396.6 58.8 L397.6 58.18 L398.6 58.59 L399.6 58.65 L400.6 58.38 L401.6 58 L402.6 58.13 L403.6 57.87 L404.6 57.93 L405.6 58.34 L406.6 57.99 L407.6 57.87 L408.6 57.79 L409.6 57.7 L410.6 57.35 L411.6 57.26 L412.6 57.25 L413.6 57.36 L414.6 57.43 L415.6 57.73 L416.6 57.74 L417.6 58.51 L418.6 58.93 L419.6 59.8 L420.6 60.05 L421.6 60.74 L422.6 61.08 L423.6 61.74 L424.6 61.67 L425.6 61.04 L426.6 60.25 L427.6 59.97 L428.6 59.42 L429.6 58.88 L430.6 58.41 L431.6 58.29 L432.6 58.3 L433.6 58.2 L434.6 58.26 L435.6 58.4 L436.6 58.6 L437.6 57.99 L438.6 58.35 L439.6 57.98 L440.6 58.03 L441.6 58.52 L442.6 58.35 L443.6 58.59 L444.6 58.26 L445.6 57.96 L446.6 58.22 L447.6 58.36 L448.6 58.59 L449.6 58.61 L450.6 58.24 L451.6 58.17 L452.6 57.91 L453.6 58.22 L454.6 57.82 L455.6 57.64 L456.6 57.34 L457.6 57.06 L458.6 57.18 L459.6 56.32 L460.6 56.34 L461.6 55.04 L462.6 54.79 L463.6 53.39 L464.6 52.37 L465.6 51.9 L466.6 50.64 L467.6 50.14 L468.6 49.05 L469.6 48.45 L470.6 48.67 L471.6 48.58 L472.6 48.83 L473.6 49.04 L474.6 49.05 L475.6 50 L476.6 50.73 L477.6 51.3 L478.6 52.4 L479.6 52.7 L480.6 53.95 L481.6 54.48 L482.6 54.63 L483.6 55.19 L484.6 56.1 L485.6 56.59 L486.6 56.34 L487.6 56.66 L488.6 57 L489.6 56.56 L490.6 56.91 L491.6 56.41 L492.6 55.8 L493.6 55.63 L494.6 55.33 L495.6 54.74 L496.6 54.36 L497.6 53.41 L498.6 53.26 L499.6 52.33 L500.6 51.89 L501.6 51.21 L502.6 50.39 L503.6 49.69 L504.6 49.28 L505.6 48.39 L506.6 47.7 L507.6 47.01 L508.6 46.33 L509.6 45.67 L510.6 45.03 L511.6 44.41 L512.6 43.83 L513.6 43.28 L514.6 42.78 L515.6 42.33 L516.6 41.94 L517.6 41.61 L518.6 41.35 L519.6 41.16 L520.6 41.05 L521.6 41.03 L522.6 41.27 L523.6 42.5 L524.6 44.59 L525.6 47.23 L526.6 50.07 L527.6 52.81 L528.6 55.24 L529.6 57.27 L530.6 58.88 L531.6 60.12 L532.6 61.05 L533.6 61.73 L534.6 62.21 L535.6 62.56 L536.6 62.79 L537.6 62.96 L538.6 63.07 L539.6 63.15 L540.6 63.21 L541.6 63.27 L542.6 63.31 L543.6 63.34 L544.6 63.37 L545.6 63.4 L546.6 63.42 L547.6 63.45 L548.6 63.47 L549.6 63.49 L550.6 63.51 L551.6 63.53 L552.6 63.55 L553.6 63.57 L554.6 63.58 L555.6 63.6 L556.6 63.62 L557.6 63.64 L558.6 63.66 L559.6 63.68 L560.6 63.7 L561.6 63.72 L562.6 63.74 L563.6 63.75 L564.6 63.77 L565.6 63.79 L566.6 63.81 L567.6 63.83 L568.6 63.85 L569.6 63.87 L570.6 63.88 L571.6 63.9 L572.6 63.92 L573.6 63.94 L574.6 63.96 L575.6 63.98 L576.6 64 L577.6 64.02 L578.6 64.03 L579.6 64.05 L580.6 64.07 L581.6 64.09 L582.6 64.11 L583.6 64.13 L584.6 64.15 L585.6 64.17 L586.6 64.18 L587.6 64.2 L588.6 64.22 L589.6 64.24 L590.6 64.26 L591.6 64.28 L592.6 64.3 L593.6 64.31 L594.6 64.33 L595.6 64.35 L596.6 64.37 L597.6 64.39 L598.6 64.41 L599.6 64.43 L600.6 64.45 L601.6 64.46 L602.6 64.48 L603.6 64.5 L604.6 64.52 L605.6 64.54 L606.6 64.55 L607.6 64.56 L608.6 64.54 L609.6 64.49 L610.6 64.38 L611.6 64.22 L612.6 64.04 L613.6 63.9 L614.6 63.87 L615.6 63.97 L616.6 64.16 L617.6 64.4 L618.6 64.71 L619.6 65.25 L620.6 65.9 L621.6 66.09 L622.6 65.65 L623.6 65.21 L624.6 65.25 L625.6 65.75 L626.6 66.14 L627.6 65.8 L628.6 64.99 L629.6 64.38 L630.6 64.19 L631.6 64.33 L632.6 64.62 L633.6 64.87 L634.6 65.02 L635.6 65.08 L636.6 65.12 L637.6 65.14 L638.6 65.16 L639.6 65.17 L640.6 65.19 L641.6 65.21 L642.6 65.23 L643.6 65.25 L644.6 65.27 L645.6 65.29 L646.6 65.31 L647.6 65.32 L648.6 65.34 L649.6 65.36 L650.6 65.38 L651.6 65.4 L652.6 65.42 L653.6 65.44 L654.6 65.46 L655.6 65.47 L656.6 65.49" stroke="#2a5771" stroke-width="1.0" fill="none"/>
<path d="M369.6 73.3 L370.6 73.31 L371.6 73.33 L372.6 73.36 L373.6 73.4 L374.6 73.44 L375.6 73.49 L376.6 73.53 L377.6 73.51 L378.6 73.4 L379.6 73.13 L380.6 72.62 L381.6 71.79 L382.6 70.55 L383.6 68.84 L384.6 66.64 L385.6 64.05 L386.6 61.26 L387.6 58.54 L388.6 56.13 L389.6 54.18 L390.6 52.7 L391.6 51.63 L392.6 50.9 L393.6 50.41 L394.6 50.09 L395.6 50.19 L396.6 49.94 L397.6 49.7 L398.6 49.45 L399.6 49.25 L400.6 49.86 L401.6 49.64 L402.6 49.69 L403.6 49.29 L404.6 49.41 L405.6 49.57 L406.6 49.34 L407.6 49.02 L408.6 48.64 L409.6 48.55 L410.6 48.72 L411.6 48.27 L412.6 48.46 L413.6 48.47 L414.6 48.82 L415.6 49 L416.6 48.97 L417.6 49.22 L418.6 49.97 L419.6 50.74 L420.6 51.56 L421.6 52.35 L422.6 52.83 L423.6 52.39 L424.6 52.77 L425.6 52.32 L426.6 51.78 L427.6 50.97 L428.6 50.25 L429.6 50.27 L430.6 49.99 L431.6 49.76 L432.6 49.85 L433.6 49.42 L434.6 49.22 L435.6 49.54 L436.6 49.71 L437.6 49.29 L438.6 49.68 L439.6 49.8 L440.6 49.31 L441.6 49.57 L442.6 49.62 L443.6 49.48 L444.6 49.29 L445.6 49.33 L446.6 49.67 L447.6 49.7 L448.6 49.46 L449.6 49.19 L450.6 49.68 L451.6 49.63 L452.6 49.21 L453.6 49.4 L454.6 49.53 L455.6 49.39 L456.6 48.94 L457.6 48.65 L458.6 48.38 L459.6 47.66 L460.6 47.1 L461.6 46.41 L462.6 45.98 L463.6 44.85 L464.6 44.02 L465.6 42.91 L466.6 42 L467.6 40.83 L468.6 39.98 L469.6 40.04 L470.6 39.23 L471.6 38.92 L472.6 39.38 L473.6 39.75 L474.6 39.73 L475.6 40.6 L476.6 41.09 L477.6 41.95 L478.6 42.39 L479.6 43.2 L480.6 44.66 L481.6 45.31 L482.6 45.72 L483.6 46.37 L484.6 46.66 L485.6 47.42 L486.6 47.46 L487.6 48 L488.6 47.93 L489.6 47.93 L490.6 47.89 L491.6 47.15 L492.6 46.68 L493.6 46.4 L494.6 45.93 L495.6 45.36 L496.6 44.79 L497.6 44.56 L498.6 44.18 L499.6 43.27 L500.6 42.98 L501.6 42.31 L502.6 41.08 L503.6 40.81 L504.6 40.02 L505.6 39.45 L506.6 38.82 L507.6 38.21 L508.6 37.61 L509.6 37.03 L510.6 36.49 L511.6 35.97 L512.6 35.5 L513.6 35.07 L514.6 34.69 L515.6 34.37 L516.6 34.11 L517.6 33.91 L518.6 33.79 L519.6 33.74 L520.6 33.8 L521.6 34.57 L522.6 36.23 L523.6 38.53 L524.6 41.17 L525.6 43.85 L526.6 46.34 L527.6 48.52 L528.6 50.35 L529.6 51.83 L530.6 53.01 L531.6 53.9 L532.6 54.57 L533.6 55.06 L534.6 55.4 L535.6 55.64 L536.6 55.81 L537.6 55.92 L538.6 56 L539.6 56.05 L540.6 56.1 L541.6 56.14 L542.6 56.18 L543.6 56.21 L544.6 56.23 L545.6 56.26 L546.6 56.28 L547.6 56.3 L548.6 56.33 L549.6 56.35 L550.6 56.37 L551.6 56.39 L552.6 56.41 L553.6 56.43 L554.6 56.45 L555.6 56.47 L556.6 56.49 L557.6 56.51 L558.6 56.53 L559.6 56.55 L560.6 56.57 L561.6 56.59 L562.6 56.61 L563.6 56.63 L564.6 56.65 L565.6 56.67 L566.6 56.69 L567.6 56.71 L568.6 56.73 L569.6 56.75 L570.6 56.77 L571.6 56.79 L572.6 56.81 L573.6 56.83 L574.6 56.85 L575.6 56.87 L576.6 56.89 L577.6 56.91 L578.6 56.93 L579.6 56.95 L580.6 56.97 L581.6 56.99 L582.6 57.01 L583.6 57.03 L584.6 57.05 L585.6 57.07 L586.6 57.09 L587.6 57.11 L588.6 57.13 L589.6 57.15 L590.6 57.17 L591.6 57.19 L592.6 57.21 L593.6 57.23 L594.6 57.25 L595.6 57.27 L596.6 57.29 L597.6 57.31 L598.6 57.33 L599.6 57.35 L600.6 57.37 L601.6 57.39 L602.6 57.41 L603.6 57.43 L604.6 57.45 L605.6 57.47 L606.6 57.48 L607.6 57.49 L608.6 57.48 L609.6 57.42 L610.6 57.31 L611.6 57.15 L612.6 56.96 L613.6 56.82 L614.6 56.78 L615.6 56.88 L616.6 57.08 L617.6 57.33 L618.6 57.66 L619.6 58.22 L620.6 58.89 L621.6 59.09 L622.6 58.63 L623.6 58.18 L624.6 58.22 L625.6 58.74 L626.6 59.14 L627.6 58.79 L628.6 57.95 L629.6 57.32 L630.6 57.12 L631.6 57.27 L632.6 57.57 L633.6 57.83 L634.6 57.99 L635.6 58.06 L636.6 58.09 L637.6 58.11 L638.6 58.13 L639.6 58.15 L640.6 58.17 L641.6 58.19 L642.6 58.21 L643.6 58.23 L644.6 58.25 L645.6 58.27 L646.6 58.29 L647.6 58.31 L648.6 58.33 L649.6 58.35 L650.6 58.37 L651.6 58.39 L652.6 58.41 L653.6 58.43 L654.6 58.45 L655.6 58.47 L656.6 58.49" stroke="#294e65" stroke-width="1.0" fill="none"/>
<path d="M369.6 71.21 L370.6 71.22 L371.6 71.24 L372.6 71.27 L373.6 71.31 L374.6 71.37 L375.6 71.42 L376.6 71.45 L377.6 71.43 L378.6 71.28 L379.6 70.93 L380.6 70.27 L381.6 69.16 L382.6 67.45 L383.6 65.03 L384.6 61.89 L385.6 58.19 L386.6 54.33 L387.6 50.75 L388.6 47.78 L389.6 45.55 L390.6 43.99 L391.6 42.95 L392.6 42.28 L393.6 41.86 L394.6 41.6 L395.6 41.18 L396.6 41.67 L397.6 41.12 L398.6 41.3 L399.6 41.33 L400.6 41.53 L401.6 41.3 L402.6 41.08 L403.6 41.07 L404.6 40.79 L405.6 41.26 L406.6 41.14 L407.6 40.44 L408.6 40.13 L409.6 40.11 L410.6 40.03 L411.6 40.32 L412.6 40.29 L413.6 40.31 L414.6 39.9 L415.6 40.66 L416.6 40.95 L417.6 41.36 L418.6 42.16 L419.6 42.16 L420.6 42.92 L421.6 43.97 L422.6 44.53 L423.6 44.5 L424.6 44.06 L425.6 43.84 L426.6 43.38 L427.6 42.33 L428.6 41.98 L429.6 41.55 L430.6 41.21 L431.6 41.32 L432.6 41.02 L433.6 41.04 L434.6 40.96 L435.6 41.33 L436.6 40.86 L437.6 41.35 L438.6 40.99 L439.6 40.88 L440.6 41.5 L441.6 41 L442.6 41.5 L443.6 41.46 L444.6 41.47 L445.6 40.95 L446.6 41.16 L447.6 40.91 L448.6 41.49 L449.6 41.42 L450.6 41.26 L451.6 41.11 L452.6 40.99 L453.6 41.27 L454.6 40.94 L455.6 40.91 L456.6 40.38 L457.6 40.18 L458.6 39.71 L459.6 39.7 L460.6 39.01 L461.6 38.01 L462.6 37.67 L463.6 36.29 L464.6 35.33 L465.6 34.05 L466.6 33.02 L467.6 32.36 L468.6 31.08 L469.6 30.22 L470.6 29.94 L471.6 29.59 L472.6 30.02 L473.6 29.68 L474.6 30.68 L475.6 30.59 L476.6 31.86 L477.6 32.47 L478.6 32.98 L479.6 34.02 L480.6 34.73 L481.6 35.5 L482.6 36.19 L483.6 36.94 L484.6 37.91 L485.6 38.33 L486.6 38.57 L487.6 38.16 L488.6 38.34 L489.6 38.69 L490.6 37.92 L491.6 38.1 L492.6 37.42 L493.6 37.45 L494.6 36.27 L495.6 36.26 L496.6 35.33 L497.6 34.57 L498.6 33.83 L499.6 33.77 L500.6 32.91 L501.6 32.03 L502.6 31.58 L503.6 31.3 L504.6 30.22 L505.6 29.84 L506.6 29.3 L507.6 28.79 L508.6 28.31 L509.6 27.87 L510.6 27.48 L511.6 27.14 L512.6 26.85 L513.6 26.63 L514.6 26.47 L515.6 26.39 L516.6 26.39 L517.6 26.59 L518.6 27.62 L519.6 29.46 L520.6 31.85 L521.6 34.51 L522.6 37.18 L523.6 39.7 L524.6 41.96 L525.6 43.93 L526.6 45.6 L527.6 46.97 L528.6 48.06 L529.6 48.87 L530.6 49.47 L531.6 49.9 L532.6 50.19 L533.6 50.39 L534.6 50.53 L535.6 50.62 L536.6 50.68 L537.6 50.72 L538.6 50.75 L539.6 50.77 L540.6 50.79 L541.6 50.82 L542.6 50.85 L543.6 50.87 L544.6 50.89 L545.6 50.92 L546.6 50.94 L547.6 50.96 L548.6 50.98 L549.6 51 L550.6 51.03 L551.6 51.05 L552.6 51.07 L553.6 51.09 L554.6 51.11 L555.6 51.13 L556.6 51.15 L557.6 51.18 L558.6 51.2 L559.6 51.22 L560.6 51.24 L561.6 51.26 L562.6 51.28 L563.6 51.3 L564.6 51.33 L565.6 51.35 L566.6 51.37 L567.6 51.39 L568.6 51.41 L569.6 51.43 L570.6 51.45 L571.6 51.48 L572.6 51.5 L573.6 51.52 L574.6 51.54 L575.6 51.56 L576.6 51.58 L577.6 51.6 L578.6 51.62 L579.6 51.65 L580.6 51.67 L581.6 51.69 L582.6 51.71 L583.6 51.73 L584.6 51.75 L585.6 51.77 L586.6 51.8 L587.6 51.82 L588.6 51.84 L589.6 51.86 L590.6 51.88 L591.6 51.9 L592.6 51.92 L593.6 51.95 L594.6 51.97 L595.6 51.99 L596.6 52.01 L597.6 52.03 L598.6 52.05 L599.6 52.07 L600.6 52.09 L601.6 52.12 L602.6 52.14 L603.6 52.16 L604.6 52.18 L605.6 52.2 L606.6 52.22 L607.6 52.22 L608.6 52.21 L609.6 52.16 L610.6 52.04 L611.6 51.87 L612.6 51.68 L613.6 51.53 L614.6 51.49 L615.6 51.6 L616.6 51.81 L617.6 52.07 L618.6 52.41 L619.6 52.98 L620.6 53.69 L621.6 53.89 L622.6 53.42 L623.6 52.94 L624.6 52.99 L625.6 53.53 L626.6 53.95 L627.6 53.58 L628.6 52.71 L629.6 52.06 L630.6 51.86 L631.6 52.01 L632.6 52.32 L633.6 52.6 L634.6 52.75 L635.6 52.83 L636.6 52.86 L637.6 52.89 L638.6 52.91 L639.6 52.93 L640.6 52.95 L641.6 52.97 L642.6 52.99 L643.6 53.01 L644.6 53.04 L645.6 53.06 L646.6 53.08 L647.6 53.1 L648.6 53.12 L649.6 53.14 L650.6 53.16 L651.6 53.18 L652.6 53.21 L653.6 53.23 L654.6 53.25 L655.6 53.27 L656.6 53.29" stroke="#27465a" stroke-width="1.0" fill="none"/>
<line x1="395.7" y1="33.3" x2="395.7" y2="140.6" stroke="#2a2a2a" stroke-width="0.85" stroke-dasharray="1.6 1.3"/>
<line x1="412.5" y1="27.2" x2="412.5" y2="140.6" stroke="#2a2a2a" stroke-width="0.85" stroke-dasharray="1.6 1.3"/>
<line x1="471.8" y1="29.3" x2="466.9" y2="138.4" stroke="#2a2a2a" stroke-width="0.85" stroke-dasharray="1.6 1.3"/>
<path d="M517.7 27.2 L535.3 86.5 L526.5 126.3" stroke="#2a2a2a" stroke-width="0.85" fill="none" stroke-dasharray="1.6 1.3"/>
<line x1="369.6" y1="7.3" x2="657" y2="7.3" stroke="#3a3a3a" stroke-width="1"/>
<line x1="657" y1="7.3" x2="657" y2="140.6" stroke="#777" stroke-width="1.3"/>
<line x1="369.6" y1="7.3" x2="369.6" y2="140.6" stroke="#333" stroke-width="1.1"/>
<line x1="369.1" y1="140.6" x2="657.5" y2="140.6" stroke="#6a6a6a" stroke-width="1.4"/>
<line x1="369.6" y1="140.6" x2="369.6" y2="143" stroke="#555" stroke-width="0.8"/>
<text x="369.6" y="150" font-size="8" text-anchor="middle" fill="#1a1a1a">1200</text>
<line x1="391.71" y1="140.6" x2="391.71" y2="142.1" stroke="#555" stroke-width="0.8"/>
<line x1="413.82" y1="140.6" x2="413.82" y2="143" stroke="#555" stroke-width="0.8"/>
<text x="413.82" y="150" font-size="8" text-anchor="middle" fill="#1a1a1a">1400</text>
<line x1="435.92" y1="140.6" x2="435.92" y2="142.1" stroke="#555" stroke-width="0.8"/>
<line x1="458.03" y1="140.6" x2="458.03" y2="143" stroke="#555" stroke-width="0.8"/>
<text x="458.03" y="150" font-size="8" text-anchor="middle" fill="#1a1a1a">1600</text>
<line x1="480.14" y1="140.6" x2="480.14" y2="142.1" stroke="#555" stroke-width="0.8"/>
<line x1="502.25" y1="140.6" x2="502.25" y2="143" stroke="#555" stroke-width="0.8"/>
<text x="502.25" y="150" font-size="8" text-anchor="middle" fill="#1a1a1a">1800</text>
<line x1="524.35" y1="140.6" x2="524.35" y2="142.1" stroke="#555" stroke-width="0.8"/>
<line x1="546.46" y1="140.6" x2="546.46" y2="143" stroke="#555" stroke-width="0.8"/>
<text x="546.46" y="150" font-size="8" text-anchor="middle" fill="#1a1a1a">2000</text>
<line x1="568.57" y1="140.6" x2="568.57" y2="142.1" stroke="#555" stroke-width="0.8"/>
<line x1="590.68" y1="140.6" x2="590.68" y2="143" stroke="#555" stroke-width="0.8"/>
<text x="590.68" y="150" font-size="8" text-anchor="middle" fill="#1a1a1a">2200</text>
<line x1="612.78" y1="140.6" x2="612.78" y2="142.1" stroke="#555" stroke-width="0.8"/>
<line x1="634.89" y1="140.6" x2="634.89" y2="143" stroke="#555" stroke-width="0.8"/>
<text x="634.89" y="150" font-size="8" text-anchor="middle" fill="#1a1a1a">2400</text>
<line x1="657" y1="140.6" x2="657" y2="142.1" stroke="#555" stroke-width="0.8"/>
<text x="467" y="159.3" font-size="8.3" fill="#1a1a1a">Wavenumber (cm<tspan baseline-shift="2.8" font-size="5.6">&#8722;1</tspan>)</text>
<text x="364.3" y="120.8" font-size="8" fill="#1a1a1a" transform="rotate(-90 364.3 120.8)">Intensity (arb. units)</text>
<text x="350" y="10.8" font-size="14" font-weight="bold" fill="#000">b</text>
<text x="356.8" y="20.1" font-size="7.8" fill="#1a1a1a" transform="rotate(90 356.8 20.1)">0.05</text>
<line x1="365.4" y1="21.3" x2="365.4" y2="33.8" stroke="#222" stroke-width="1.1"/>
<text x="374.7" y="16.1" font-size="7.6" fill="#1a1a1a">C-OH(*COOH</text>
<text x="374.7" y="26.2" font-size="7.6" fill="#1a1a1a">&amp;HCO<tspan baseline-shift="-1.8" font-size="5.2">3</tspan><tspan dx="-0.9" baseline-shift="3.0" font-size="5.4">&#8722;</tspan>)</text>
<text x="423.2" y="21.6" font-size="7.6" fill="#1a1a1a">C-O(*COOH</text>
<text x="423.2" y="31.7" font-size="7.6" fill="#1a1a1a">&amp;CO<tspan baseline-shift="-1.8" font-size="5.2">3</tspan><tspan dx="-0.9" baseline-shift="3.2" font-size="5.4">2&#8722;</tspan>)</text>
<line x1="389.7" y1="29.3" x2="395" y2="36.5" stroke="#111" stroke-width="0.8" marker-end="url(#ah)"/>
<line x1="420.6" y1="28.9" x2="417" y2="36" stroke="#111" stroke-width="0.8" marker-end="url(#ah)"/>
<text x="468.2" y="26.2" font-size="7.6" fill="#1a1a1a">H-OH</text>
<text x="507.6" y="23.2" font-size="7.6" fill="#1a1a1a">*CO<tspan baseline-shift="-1.6" font-size="5.2">L</tspan></text>
<text x="656" y="17" font-size="7.6" text-anchor="end" fill="#1a1a1a">NiPc@CNT</text>
<text x="658.3" y="51" font-size="8.5" fill="#1a1a1a">-1.60 V</text>
<text x="661.3" y="137.2" font-size="8.0" fill="#1a1a1a">OCP</text>
<line x1="667.5" y1="128.2" x2="667.5" y2="56.5" stroke="#222" stroke-width="0.9" marker-end="url(#ah)"/>
<path d="M27.5 301 L28 301.01 L28.5 301.02 L29 301.03 L29.5 301.04 L30 301.06 L30.5 301.07 L31 301.08 L31.5 301.09 L32 301.1 L32.5 301.11 L33 301.12 L33.5 301.13 L34 301.14 L34.5 301.15 L35 301.17 L35.5 301.18 L36 301.19 L36.5 301.2 L37 301.21 L37.5 301.22 L38 301.23 L38.5 301.24 L39 301.25 L39.5 301.26 L40 301.27 L40.5 301.29 L41 301.3 L41.5 301.31 L42 301.32 L42.5 301.33 L43 301.34 L43.5 301.35 L44 301.36 L44.5 301.37 L45 301.38 L45.5 301.4 L46 301.41 L46.5 301.42 L47 301.43 L47.5 301.44 L48 301.45 L48.5 301.46 L49 301.47 L49.5 301.48 L50 301.49 L50.5 301.51 L51 301.52 L51.5 301.53 L52 301.54 L52.5 301.55 L53 301.56 L53.5 301.57 L54 301.58 L54.5 301.59 L55 301.6 L55.5 301.62 L56 301.63 L56.5 301.64 L57 301.65 L57.5 301.66 L58 301.67 L58.5 301.68 L59 301.69 L59.5 301.7 L60 301.71 L60.5 301.73 L61 301.74 L61.5 301.75 L62 301.76 L62.5 301.77 L63 301.78 L63.5 301.79 L64 301.8 L64.5 301.81 L65 301.82 L65.5 301.84 L66 301.85 L66.5 301.86 L67 301.87 L67.5 301.88 L68 301.89 L68.5 301.9 L69 301.91 L69.5 301.92 L70 301.93 L70.5 301.95 L71 301.96 L71.5 301.97 L72 301.98 L72.5 301.99 L73 302 L73.5 302.01 L74 302.02 L74.5 302.03 L75 302.04 L75.5 302.06 L76 302.07 L76.5 302.08 L77 302.09 L77.5 302.1 L78 302.11 L78.5 302.12 L79 302.13 L79.5 302.14 L80 302.15 L80.5 302.16 L81 302.18 L81.5 302.19 L82 302.2 L82.5 302.21 L83 302.22 L83.5 302.23 L84 302.24 L84.5 302.25 L85 302.26 L85.5 302.27 L86 302.28 L86.5 302.29 L87 302.29 L87.5 302.3 L88 302.31 L88.5 302.32 L89 302.32 L89.5 302.33 L90 302.33 L90.5 302.33 L91 302.33 L91.5 302.33 L92 302.33 L92.5 302.32 L93 302.31 L93.5 302.3 L94 302.29 L94.5 302.27 L95 302.25 L95.5 302.22 L96 302.18 L96.5 302.14 L97 302.1 L97.5 302.04 L98 301.98 L98.5 301.91 L99 301.83 L99.5 301.73 L100 301.63 L100.5 301.51 L101 301.37 L101.5 301.22 L102 301.06 L102.5 300.87 L103 300.67 L103.5 300.45 L104 300.2 L104.5 299.94 L105 299.65 L105.5 299.33 L106 298.99 L106.5 298.63 L107 298.23 L107.5 297.81 L108 297.36 L108.5 296.89 L109 296.38 L109.5 295.85 L110 295.29 L110.5 294.71 L111 294.1 L111.5 293.47 L112 292.81 L112.5 292.13 L113 291.44 L113.5 290.72 L114 290 L114.5 289.26 L115 288.52 L115.5 287.77 L116 287.03 L116.5 286.28 L117 285.55 L117.5 284.83 L118 284.12 L118.5 283.43 L119 282.77 L119.5 282.14 L120 281.54 L120.5 280.98 L121 280.46 L121.5 279.99 L122 279.56 L122.5 279.19 L123 278.87 L123.5 278.61 L124 278.4 L124.5 278.26 L125 278.18 L125.5 278.16 L126 278.2 L126.5 278.3 L127 278.47 L127.5 278.7 L128 278.98 L128.5 279.32 L129 279.72 L129.5 280.17 L130 280.66 L130.5 281.2 L131 281.79 L131.5 282.41 L132 283.06 L132.5 283.74 L133 284.45 L133.5 285.18 L134 285.92 L134.5 286.68 L135 287.44 L135.5 288.21 L136 288.98 L136.5 289.75 L137 290.5 L137.5 291.25 L138 291.99 L138.5 292.7 L139 293.4 L139.5 294.08 L140 294.74 L140.5 295.37 L141 295.98 L141.5 296.56 L142 297.11 L142.5 297.64 L143 298.13 L143.5 298.6 L144 299.05 L144 303.56 L143.5 303.55 L143 303.54 L142.5 303.53 L142 303.52 L141.5 303.51 L141 303.5 L140.5 303.49 L140 303.48 L139.5 303.46 L139 303.45 L138.5 303.44 L138 303.43 L137.5 303.42 L137 303.41 L136.5 303.4 L136 303.39 L135.5 303.38 L135 303.37 L134.5 303.35 L134 303.34 L133.5 303.33 L133 303.32 L132.5 303.31 L132 303.3 L131.5 303.29 L131 303.28 L130.5 303.27 L130 303.25 L129.5 303.24 L129 303.23 L128.5 303.22 L128 303.21 L127.5 303.2 L127 303.19 L126.5 303.18 L126 303.17 L125.5 303.16 L125 303.14 L124.5 303.13 L124 303.12 L123.5 303.11 L123 303.1 L122.5 303.09 L122 303.08 L121.5 303.07 L121 303.06 L120.5 303.05 L120 303.04 L119.5 303.02 L119 303.01 L118.5 303 L118 302.99 L117.5 302.98 L117 302.97 L116.5 302.96 L116 302.95 L115.5 302.94 L115 302.93 L114.5 302.91 L114 302.9 L113.5 302.89 L113 302.88 L112.5 302.87 L112 302.86 L111.5 302.85 L111 302.84 L110.5 302.83 L110 302.81 L109.5 302.8 L109 302.79 L108.5 302.78 L108 302.77 L107.5 302.76 L107 302.75 L106.5 302.74 L106 302.73 L105.5 302.72 L105 302.7 L104.5 302.69 L104 302.68 L103.5 302.67 L103 302.66 L102.5 302.65 L102 302.64 L101.5 302.63 L101 302.62 L100.5 302.61 L100 302.6 L99.5 302.58 L99 302.57 L98.5 302.56 L98 302.55 L97.5 302.54 L97 302.53 L96.5 302.52 L96 302.51 L95.5 302.5 L95 302.49 L94.5 302.47 L94 302.46 L93.5 302.45 L93 302.44 L92.5 302.43 L92 302.42 L91.5 302.41 L91 302.4 L90.5 302.39 L90 302.38 L89.5 302.36 L89 302.35 L88.5 302.34 L88 302.33 L87.5 302.32 L87 302.31 L86.5 302.3 L86 302.29 L85.5 302.28 L85 302.26 L84.5 302.25 L84 302.24 L83.5 302.23 L83 302.22 L82.5 302.21 L82 302.2 L81.5 302.19 L81 302.18 L80.5 302.17 L80 302.15 L79.5 302.14 L79 302.13 L78.5 302.12 L78 302.11 L77.5 302.1 L77 302.09 L76.5 302.08 L76 302.07 L75.5 302.06 L75 302.05 L74.5 302.03 L74 302.02 L73.5 302.01 L73 302 L72.5 301.99 L72 301.98 L71.5 301.97 L71 301.96 L70.5 301.95 L70 301.94 L69.5 301.92 L69 301.91 L68.5 301.9 L68 301.89 L67.5 301.88 L67 301.87 L66.5 301.86 L66 301.85 L65.5 301.84 L65 301.82 L64.5 301.81 L64 301.8 L63.5 301.79 L63 301.78 L62.5 301.77 L62 301.76 L61.5 301.75 L61 301.74 L60.5 301.73 L60 301.71 L59.5 301.7 L59 301.69 L58.5 301.68 L58 301.67 L57.5 301.66 L57 301.65 L56.5 301.64 L56 301.63 L55.5 301.62 L55 301.61 L54.5 301.59 L54 301.58 L53.5 301.57 L53 301.56 L52.5 301.55 L52 301.54 L51.5 301.53 L51 301.52 L50.5 301.51 L50 301.5 L49.5 301.48 L49 301.47 L48.5 301.46 L48 301.45 L47.5 301.44 L47 301.43 L46.5 301.42 L46 301.41 L45.5 301.4 L45 301.38 L44.5 301.37 L44 301.36 L43.5 301.35 L43 301.34 L42.5 301.33 L42 301.32 L41.5 301.31 L41 301.3 L40.5 301.29 L40 301.27 L39.5 301.26 L39 301.25 L38.5 301.24 L38 301.23 L37.5 301.22 L37 301.21 L36.5 301.2 L36 301.19 L35.5 301.18 L35 301.17 L34.5 301.15 L34 301.14 L33.5 301.13 L33 301.12 L32.5 301.11 L32 301.1 L31.5 301.09 L31 301.08 L30.5 301.07 L30 301.06 L29.5 301.04 L29 301.03 L28.5 301.02 L28 301.01 L27.5 301Z" fill="#f8c28e" fill-opacity="0.67" stroke="none"/>
<path d="M27.5 301 L28 301.01 L28.5 301.02 L29 301.03 L29.5 301.04 L30 301.05 L30.5 301.07 L31 301.08 L31.5 301.09 L32 301.1 L32.5 301.11 L33 301.12 L33.5 301.13 L34 301.14 L34.5 301.15 L35 301.16 L35.5 301.18 L36 301.19 L36.5 301.2 L37 301.21 L37.5 301.22 L38 301.23 L38.5 301.24 L39 301.25 L39.5 301.26 L40 301.27 L40.5 301.29 L41 301.3 L41.5 301.31 L42 301.32 L42.5 301.33 L43 301.34 L43.5 301.35 L44 301.36 L44.5 301.37 L45 301.38 L45.5 301.39 L46 301.4 L46.5 301.41 L47 301.42 L47.5 301.43 L48 301.44 L48.5 301.45 L49 301.46 L49.5 301.47 L50 301.48 L50.5 301.48 L51 301.49 L51.5 301.5 L52 301.5 L52.5 301.51 L53 301.51 L53.5 301.52 L54 301.52 L54.5 301.52 L55 301.52 L55.5 301.51 L56 301.51 L56.5 301.5 L57 301.49 L57.5 301.48 L58 301.46 L58.5 301.44 L59 301.42 L59.5 301.39 L60 301.36 L60.5 301.32 L61 301.28 L61.5 301.23 L62 301.17 L62.5 301.1 L63 301.03 L63.5 300.94 L64 300.85 L64.5 300.74 L65 300.62 L65.5 300.49 L66 300.34 L66.5 300.17 L67 299.99 L67.5 299.79 L68 299.56 L68.5 299.32 L69 299.05 L69.5 298.76 L70 298.44 L70.5 298.09 L71 297.71 L71.5 297.3 L72 296.86 L72.5 296.38 L73 295.86 L73.5 295.31 L74 294.71 L74.5 294.07 L75 293.39 L75.5 292.67 L76 291.9 L76.5 291.08 L77 290.21 L77.5 289.29 L78 288.32 L78.5 287.3 L79 286.22 L79.5 285.1 L80 283.92 L80.5 282.69 L81 281.41 L81.5 280.08 L82 278.71 L82.5 277.28 L83 275.81 L83.5 274.29 L84 272.74 L84.5 271.14 L85 269.52 L85.5 267.86 L86 266.17 L86.5 264.46 L87 262.73 L87.5 260.99 L88 259.24 L88.5 257.48 L89 255.73 L89.5 253.98 L90 252.25 L90.5 250.54 L91 248.86 L91.5 247.21 L92 245.6 L92.5 244.03 L93 242.52 L93.5 241.07 L94 239.68 L94.5 238.36 L95 237.11 L95.5 235.95 L96 234.88 L96.5 233.9 L97 233.02 L97.5 232.23 L98 231.55 L98.5 230.98 L99 230.52 L99.5 230.18 L100 229.94 L100.5 229.83 L101 229.82 L101.5 229.9 L102 230.06 L102.5 230.29 L103 230.59 L103.5 230.97 L104 231.42 L104.5 231.94 L105 232.53 L105.5 233.19 L106 233.91 L106.5 234.7 L107 235.55 L107.5 236.45 L108 237.42 L108.5 238.43 L109 239.5 L109.5 240.61 L110 241.77 L110.5 242.97 L111 244.21 L111.5 245.48 L112 246.79 L112.5 248.12 L113 249.47 L113.5 250.85 L114 252.25 L114.5 253.65 L115 255.08 L115.5 256.5 L116 257.94 L116.5 259.37 L117 260.81 L117.5 262.24 L118 263.66 L118.5 265.07 L119 266.48 L119.5 267.86 L120 269.23 L120.5 270.59 L121 271.92 L121.5 273.22 L122 274.51 L122.5 275.77 L123 277 L123.5 278.2 L124 279.37 L124.5 280.52 L125 281.63 L125.5 282.71 L126 283.75 L126.5 284.76 L127 285.74 L127.5 286.69 L128 287.6 L128.5 288.48 L129 289.32 L129.5 290.13 L130 290.91 L130.5 291.66 L131 292.37 L131.5 293.05 L132 293.7 L132.5 294.32 L133 294.91 L133.5 295.47 L134 296 L134.5 296.5 L135 296.98 L135.5 297.44 L136 297.86 L136.5 298.27 L137 298.65 L137.5 299.01 L138 299.34 L138.5 299.66 L139 299.96 L139.5 300.24 L140 300.5 L140.5 300.75 L141 300.98 L141.5 301.19 L142 301.39 L142.5 301.58 L143 301.75 L143.5 301.91 L144 302.07 L144 303.56 L143.5 303.55 L143 303.54 L142.5 303.53 L142 303.52 L141.5 303.51 L141 303.5 L140.5 303.49 L140 303.48 L139.5 303.46 L139 303.45 L138.5 303.44 L138 303.43 L137.5 303.42 L137 303.41 L136.5 303.4 L136 303.39 L135.5 303.38 L135 303.37 L134.5 303.35 L134 303.34 L133.5 303.33 L133 303.32 L132.5 303.31 L132 303.3 L131.5 303.29 L131 303.28 L130.5 303.27 L130 303.25 L129.5 303.24 L129 303.23 L128.5 303.22 L128 303.21 L127.5 303.2 L127 303.19 L126.5 303.18 L126 303.17 L125.5 303.16 L125 303.14 L124.5 303.13 L124 303.12 L123.5 303.11 L123 303.1 L122.5 303.09 L122 303.08 L121.5 303.07 L121 303.06 L120.5 303.05 L120 303.04 L119.5 303.02 L119 303.01 L118.5 303 L118 302.99 L117.5 302.98 L117 302.97 L116.5 302.96 L116 302.95 L115.5 302.94 L115 302.93 L114.5 302.91 L114 302.9 L113.5 302.89 L113 302.88 L112.5 302.87 L112 302.86 L111.5 302.85 L111 302.84 L110.5 302.83 L110 302.81 L109.5 302.8 L109 302.79 L108.5 302.78 L108 302.77 L107.5 302.76 L107 302.75 L106.5 302.74 L106 302.73 L105.5 302.72 L105 302.7 L104.5 302.69 L104 302.68 L103.5 302.67 L103 302.66 L102.5 302.65 L102 302.64 L101.5 302.63 L101 302.62 L100.5 302.61 L100 302.6 L99.5 302.58 L99 302.57 L98.5 302.56 L98 302.55 L97.5 302.54 L97 302.53 L96.5 302.52 L96 302.51 L95.5 302.5 L95 302.49 L94.5 302.47 L94 302.46 L93.5 302.45 L93 302.44 L92.5 302.43 L92 302.42 L91.5 302.41 L91 302.4 L90.5 302.39 L90 302.38 L89.5 302.36 L89 302.35 L88.5 302.34 L88 302.33 L87.5 302.32 L87 302.31 L86.5 302.3 L86 302.29 L85.5 302.28 L85 302.26 L84.5 302.25 L84 302.24 L83.5 302.23 L83 302.22 L82.5 302.21 L82 302.2 L81.5 302.19 L81 302.18 L80.5 302.17 L80 302.15 L79.5 302.14 L79 302.13 L78.5 302.12 L78 302.11 L77.5 302.1 L77 302.09 L76.5 302.08 L76 302.07 L75.5 302.06 L75 302.05 L74.5 302.03 L74 302.02 L73.5 302.01 L73 302 L72.5 301.99 L72 301.98 L71.5 301.97 L71 301.96 L70.5 301.95 L70 301.94 L69.5 301.92 L69 301.91 L68.5 301.9 L68 301.89 L67.5 301.88 L67 301.87 L66.5 301.86 L66 301.85 L65.5 301.84 L65 301.82 L64.5 301.81 L64 301.8 L63.5 301.79 L63 301.78 L62.5 301.77 L62 301.76 L61.5 301.75 L61 301.74 L60.5 301.73 L60 301.71 L59.5 301.7 L59 301.69 L58.5 301.68 L58 301.67 L57.5 301.66 L57 301.65 L56.5 301.64 L56 301.63 L55.5 301.62 L55 301.61 L54.5 301.59 L54 301.58 L53.5 301.57 L53 301.56 L52.5 301.55 L52 301.54 L51.5 301.53 L51 301.52 L50.5 301.51 L50 301.5 L49.5 301.48 L49 301.47 L48.5 301.46 L48 301.45 L47.5 301.44 L47 301.43 L46.5 301.42 L46 301.41 L45.5 301.4 L45 301.38 L44.5 301.37 L44 301.36 L43.5 301.35 L43 301.34 L42.5 301.33 L42 301.32 L41.5 301.31 L41 301.3 L40.5 301.29 L40 301.27 L39.5 301.26 L39 301.25 L38.5 301.24 L38 301.23 L37.5 301.22 L37 301.21 L36.5 301.2 L36 301.19 L35.5 301.18 L35 301.17 L34.5 301.15 L34 301.14 L33.5 301.13 L33 301.12 L32.5 301.11 L32 301.1 L31.5 301.09 L31 301.08 L30.5 301.07 L30 301.06 L29.5 301.04 L29 301.03 L28.5 301.02 L28 301.01 L27.5 301Z" fill="#86d4d8" fill-opacity="0.62" stroke="none"/>
<path d="M27.5 299.93 L28 299.85 L28.5 299.75 L29 299.65 L29.5 299.54 L30 299.42 L30.5 299.29 L31 299.15 L31.5 298.99 L32 298.83 L32.5 298.65 L33 298.46 L33.5 298.26 L34 298.04 L34.5 297.81 L35 297.56 L35.5 297.3 L36 297.01 L36.5 296.71 L37 296.39 L37.5 296.05 L38 295.69 L38.5 295.31 L39 294.91 L39.5 294.48 L40 294.03 L40.5 293.56 L41 293.06 L41.5 292.54 L42 291.99 L42.5 291.41 L43 290.81 L43.5 290.17 L44 289.51 L44.5 288.83 L45 288.11 L45.5 287.36 L46 286.58 L46.5 285.77 L47 284.94 L47.5 284.07 L48 283.17 L48.5 282.25 L49 281.29 L49.5 280.3 L50 279.29 L50.5 278.25 L51 277.18 L51.5 276.08 L52 274.95 L52.5 273.81 L53 272.63 L53.5 271.44 L54 270.22 L54.5 268.98 L55 267.73 L55.5 266.45 L56 265.17 L56.5 263.87 L57 262.55 L57.5 261.23 L58 259.9 L58.5 258.57 L59 257.23 L59.5 255.9 L60 254.57 L60.5 253.24 L61 251.92 L61.5 250.61 L62 249.31 L62.5 248.03 L63 246.77 L63.5 245.53 L64 244.31 L64.5 243.12 L65 241.96 L65.5 240.83 L66 239.74 L66.5 238.69 L67 237.68 L67.5 236.71 L68 235.79 L68.5 234.91 L69 234.09 L69.5 233.31 L70 232.6 L70.5 231.94 L71 231.33 L71.5 230.79 L72 230.31 L72.5 229.89 L73 229.54 L73.5 229.25 L74 229.03 L74.5 228.87 L75 228.78 L75.5 228.76 L76 228.81 L76.5 228.93 L77 229.13 L77.5 229.41 L78 229.76 L78.5 230.18 L79 230.68 L79.5 231.24 L80 231.88 L80.5 232.58 L81 233.35 L81.5 234.18 L82 235.07 L82.5 236.02 L83 237.02 L83.5 238.07 L84 239.18 L84.5 240.33 L85 241.52 L85.5 242.75 L86 244.02 L86.5 245.32 L87 246.65 L87.5 248 L88 249.38 L88.5 250.78 L89 252.19 L89.5 253.62 L90 255.05 L90.5 256.49 L91 257.94 L91.5 259.38 L92 260.82 L92.5 262.26 L93 263.69 L93.5 265.1 L94 266.51 L94.5 267.89 L95 269.26 L95.5 270.61 L96 271.94 L96.5 273.24 L97 274.52 L97.5 275.77 L98 276.99 L98.5 278.19 L99 279.35 L99.5 280.48 L100 281.58 L100.5 282.64 L101 283.68 L101.5 284.68 L102 285.64 L102.5 286.57 L103 287.47 L103.5 288.33 L104 289.16 L104.5 289.96 L105 290.72 L105.5 291.45 L106 292.15 L106.5 292.82 L107 293.45 L107.5 294.06 L108 294.63 L108.5 295.18 L109 295.7 L109.5 296.19 L110 296.66 L110.5 297.1 L111 297.52 L111.5 297.91 L112 298.28 L112.5 298.63 L113 298.95 L113.5 299.26 L114 299.55 L114.5 299.82 L115 300.07 L115.5 300.31 L116 300.53 L116.5 300.74 L117 300.93 L117.5 301.11 L118 301.28 L118.5 301.44 L119 301.58 L119.5 301.72 L120 301.85 L120.5 301.96 L121 302.07 L121.5 302.17 L122 302.26 L122.5 302.35 L123 302.43 L123.5 302.51 L124 302.57 L124.5 302.64 L125 302.7 L125.5 302.75 L126 302.8 L126.5 302.85 L127 302.9 L127.5 302.94 L128 302.97 L128.5 303.01 L129 303.04 L129.5 303.07 L130 303.1 L130.5 303.13 L131 303.16 L131.5 303.18 L132 303.2 L132.5 303.23 L133 303.25 L133.5 303.27 L134 303.28 L134.5 303.3 L135 303.32 L135.5 303.34 L136 303.35 L136.5 303.37 L137 303.38 L137.5 303.4 L138 303.41 L138.5 303.42 L139 303.44 L139.5 303.45 L140 303.46 L140.5 303.47 L141 303.49 L141.5 303.5 L142 303.51 L142.5 303.52 L143 303.54 L143.5 303.55 L144 303.56 L144 303.56 L143.5 303.55 L143 303.54 L142.5 303.53 L142 303.52 L141.5 303.51 L141 303.5 L140.5 303.49 L140 303.48 L139.5 303.46 L139 303.45 L138.5 303.44 L138 303.43 L137.5 303.42 L137 303.41 L136.5 303.4 L136 303.39 L135.5 303.38 L135 303.37 L134.5 303.35 L134 303.34 L133.5 303.33 L133 303.32 L132.5 303.31 L132 303.3 L131.5 303.29 L131 303.28 L130.5 303.27 L130 303.25 L129.5 303.24 L129 303.23 L128.5 303.22 L128 303.21 L127.5 303.2 L127 303.19 L126.5 303.18 L126 303.17 L125.5 303.16 L125 303.14 L124.5 303.13 L124 303.12 L123.5 303.11 L123 303.1 L122.5 303.09 L122 303.08 L121.5 303.07 L121 303.06 L120.5 303.05 L120 303.04 L119.5 303.02 L119 303.01 L118.5 303 L118 302.99 L117.5 302.98 L117 302.97 L116.5 302.96 L116 302.95 L115.5 302.94 L115 302.93 L114.5 302.91 L114 302.9 L113.5 302.89 L113 302.88 L112.5 302.87 L112 302.86 L111.5 302.85 L111 302.84 L110.5 302.83 L110 302.81 L109.5 302.8 L109 302.79 L108.5 302.78 L108 302.77 L107.5 302.76 L107 302.75 L106.5 302.74 L106 302.73 L105.5 302.72 L105 302.7 L104.5 302.69 L104 302.68 L103.5 302.67 L103 302.66 L102.5 302.65 L102 302.64 L101.5 302.63 L101 302.62 L100.5 302.61 L100 302.6 L99.5 302.58 L99 302.57 L98.5 302.56 L98 302.55 L97.5 302.54 L97 302.53 L96.5 302.52 L96 302.51 L95.5 302.5 L95 302.49 L94.5 302.47 L94 302.46 L93.5 302.45 L93 302.44 L92.5 302.43 L92 302.42 L91.5 302.41 L91 302.4 L90.5 302.39 L90 302.38 L89.5 302.36 L89 302.35 L88.5 302.34 L88 302.33 L87.5 302.32 L87 302.31 L86.5 302.3 L86 302.29 L85.5 302.28 L85 302.26 L84.5 302.25 L84 302.24 L83.5 302.23 L83 302.22 L82.5 302.21 L82 302.2 L81.5 302.19 L81 302.18 L80.5 302.17 L80 302.15 L79.5 302.14 L79 302.13 L78.5 302.12 L78 302.11 L77.5 302.1 L77 302.09 L76.5 302.08 L76 302.07 L75.5 302.06 L75 302.05 L74.5 302.03 L74 302.02 L73.5 302.01 L73 302 L72.5 301.99 L72 301.98 L71.5 301.97 L71 301.96 L70.5 301.95 L70 301.94 L69.5 301.92 L69 301.91 L68.5 301.9 L68 301.89 L67.5 301.88 L67 301.87 L66.5 301.86 L66 301.85 L65.5 301.84 L65 301.82 L64.5 301.81 L64 301.8 L63.5 301.79 L63 301.78 L62.5 301.77 L62 301.76 L61.5 301.75 L61 301.74 L60.5 301.73 L60 301.71 L59.5 301.7 L59 301.69 L58.5 301.68 L58 301.67 L57.5 301.66 L57 301.65 L56.5 301.64 L56 301.63 L55.5 301.62 L55 301.61 L54.5 301.59 L54 301.58 L53.5 301.57 L53 301.56 L52.5 301.55 L52 301.54 L51.5 301.53 L51 301.52 L50.5 301.51 L50 301.5 L49.5 301.48 L49 301.47 L48.5 301.46 L48 301.45 L47.5 301.44 L47 301.43 L46.5 301.42 L46 301.41 L45.5 301.4 L45 301.38 L44.5 301.37 L44 301.36 L43.5 301.35 L43 301.34 L42.5 301.33 L42 301.32 L41.5 301.31 L41 301.3 L40.5 301.29 L40 301.27 L39.5 301.26 L39 301.25 L38.5 301.24 L38 301.23 L37.5 301.22 L37 301.21 L36.5 301.2 L36 301.19 L35.5 301.18 L35 301.17 L34.5 301.15 L34 301.14 L33.5 301.13 L33 301.12 L32.5 301.11 L32 301.1 L31.5 301.09 L31 301.08 L30.5 301.07 L30 301.06 L29.5 301.04 L29 301.03 L28.5 301.02 L28 301.01 L27.5 301Z" fill="#b6da98" fill-opacity="0.62" stroke="none"/>
<line x1="74.7" y1="212.3" x2="74.7" y2="246.3" stroke="#2a2a2a" stroke-width="0.85" stroke-dasharray="1.5 1.2"/>
<line x1="100.9" y1="202.5" x2="100.9" y2="252.3" stroke="#2a2a2a" stroke-width="0.85" stroke-dasharray="1.5 1.2"/>
<line x1="123.4" y1="232.3" x2="123.4" y2="288.2" stroke="#2a2a2a" stroke-width="0.85" stroke-dasharray="1.5 1.2"/>
<path d="M28.6 298.3 L29.06 298.16 L29.68 297.99 L30.42 297.77 L31.24 297.51 L32.12 297.22 L33 296.9 L33.9 296.63 L34.83 296.44 L35.82 296.21 L36.86 295.83 L37.95 295.2 L39.1 294.2 L40.33 292.8 L41.65 291.07 L43.03 289.09 L44.43 286.92 L45.83 284.63 L47.2 282.3 L48.57 279.87 L49.96 277.27 L51.35 274.55 L52.72 271.77 L54.04 268.97 L55.3 266.2 L56.46 263.48 L57.53 260.77 L58.55 258.04 L59.57 255.27 L60.64 252.43 L61.8 249.5 L63.09 246.4 L64.47 243.12 L65.91 239.78 L67.33 236.47 L68.68 233.31 L69.9 230.4 L70.99 227.69 L71.98 225.1 L72.9 222.65 L73.78 220.38 L74.64 218.32 L75.5 216.5 L76.34 214.98 L77.12 213.74 L77.89 212.71 L78.67 211.82 L79.49 211.01 L80.4 210.2 L81.41 209.43 L82.5 208.75 L83.63 208.14 L84.78 207.6 L85.92 207.09 L87 206.6 L88.05 206.12 L89.1 205.64 L90.13 205.21 L91.13 204.84 L92.09 204.57 L93 204.4 L93.85 204.36 L94.66 204.41 L95.43 204.56 L96.16 204.79 L96.85 205.07 L97.5 205.4 L98.09 205.76 L98.61 206.15 L99.09 206.6 L99.56 207.14 L100.05 207.8 L100.6 208.6 L101.18 209.55 L101.76 210.62 L102.36 211.81 L103 213.11 L103.71 214.51 L104.5 216 L105.42 217.65 L106.47 219.48 L107.58 221.41 L108.69 223.36 L109.75 225.25 L110.7 227 L111.52 228.56 L112.24 230 L112.91 231.37 L113.56 232.76 L114.25 234.21 L115 235.8 L115.82 237.53 L116.68 239.35 L117.56 241.24 L118.47 243.19 L119.38 245.18 L120.3 247.2 L121.24 249.29 L122.21 251.48 L123.2 253.71 L124.17 255.93 L125.11 258.08 L126 260.1 L126.82 261.99 L127.6 263.78 L128.35 265.5 L129.07 267.18 L129.79 268.84 L130.5 270.5 L131.2 272.15 L131.87 273.77 L132.53 275.37 L133.2 276.96 L133.88 278.57 L134.6 280.2 L135.36 281.9 L136.16 283.66 L136.98 285.42 L137.8 287.16 L138.62 288.8 L139.4 290.3 L140.21 291.72 L141.06 293.09 L141.9 294.38 L142.67 295.53 L143.33 296.49 L143.8 297.2" stroke="#ee3b3b" stroke-width="0.95" fill="none"/>
<circle cx="30.6" cy="300.9" r="1.55" fill="#6f6f6f"/>
<circle cx="35.1" cy="295.5" r="1.55" fill="#6f6f6f"/>
<circle cx="39.5" cy="294" r="1.55" fill="#6f6f6f"/>
<circle cx="43.8" cy="284" r="1.55" fill="#6f6f6f"/>
<circle cx="47.8" cy="277.3" r="1.55" fill="#6f6f6f"/>
<circle cx="52.3" cy="268.8" r="1.55" fill="#6f6f6f"/>
<circle cx="56.3" cy="255.7" r="1.55" fill="#6f6f6f"/>
<circle cx="60.6" cy="249" r="1.55" fill="#6f6f6f"/>
<circle cx="65" cy="239.3" r="1.55" fill="#6f6f6f"/>
<circle cx="69.4" cy="231.2" r="1.55" fill="#6f6f6f"/>
<circle cx="73.6" cy="223.2" r="1.55" fill="#6f6f6f"/>
<circle cx="77.5" cy="216.7" r="1.55" fill="#6f6f6f"/>
<circle cx="81.7" cy="207.5" r="1.55" fill="#6f6f6f"/>
<circle cx="86.1" cy="205.7" r="1.55" fill="#6f6f6f"/>
<circle cx="90.5" cy="200.4" r="1.55" fill="#6f6f6f"/>
<circle cx="94.4" cy="202.2" r="1.55" fill="#6f6f6f"/>
<circle cx="98.4" cy="209.2" r="1.55" fill="#6f6f6f"/>
<circle cx="102.8" cy="213.9" r="1.55" fill="#6f6f6f"/>
<circle cx="107.2" cy="219.5" r="1.55" fill="#6f6f6f"/>
<circle cx="111.2" cy="226.5" r="1.55" fill="#6f6f6f"/>
<circle cx="115.4" cy="235.8" r="1.55" fill="#6f6f6f"/>
<circle cx="119.7" cy="247.2" r="1.55" fill="#6f6f6f"/>
<circle cx="123.4" cy="255.8" r="1.55" fill="#6f6f6f"/>
<circle cx="127.7" cy="268.7" r="1.55" fill="#6f6f6f"/>
<circle cx="132" cy="277.4" r="1.55" fill="#6f6f6f"/>
<circle cx="136.4" cy="288.2" r="1.55" fill="#6f6f6f"/>
<circle cx="140.2" cy="294.6" r="1.55" fill="#6f6f6f"/>
<line x1="67.4" y1="289.4" x2="61.6" y2="305" stroke="#1a1a1a" stroke-width="0.8"/>
<circle cx="54.5" cy="313.6" r="2.5" fill="url(#gH)"/>
<circle cx="66.1" cy="313.3" r="2.5" fill="url(#gH)"/>
<circle cx="60.3" cy="313.6" r="4" fill="url(#gO)"/>
<line x1="106.3" y1="295" x2="104.5" y2="305" stroke="#1a1a1a" stroke-width="0.8"/>
<circle cx="98.6" cy="308.3" r="2.5" fill="url(#gH)"/>
<circle cx="110.2" cy="307.9" r="2.5" fill="url(#gH)"/>
<circle cx="104.3" cy="308.3" r="4" fill="url(#gO)"/>
<line x1="108.3" y1="310.5" x2="110.8" y2="315.2" stroke="#222" stroke-width="0.7" stroke-dasharray="0.8 0.6"/>
<circle cx="109.6" cy="317.7" r="2.5" fill="url(#gH)"/>
<circle cx="120.9" cy="317.7" r="2.5" fill="url(#gH)"/>
<circle cx="115.2" cy="318.5" r="4" fill="url(#gO)"/>
<line x1="131.4" y1="295" x2="133" y2="310.5" stroke="#1a1a1a" stroke-width="0.8"/>
<circle cx="127.4" cy="314" r="2.5" fill="url(#gH)"/>
<circle cx="139.2" cy="314" r="2.5" fill="url(#gH)"/>
<circle cx="133.4" cy="314" r="4.4" fill="url(#gO)"/>
<circle cx="133.4" cy="313.6" r="2.73" fill="url(#gH)"/>
<line x1="27.5" y1="176.1" x2="144.4" y2="176.1" stroke="#333" stroke-width="1"/>
<line x1="144.4" y1="176.1" x2="144.4" y2="324.3" stroke="#333" stroke-width="1.1"/>
<line x1="27.5" y1="176.1" x2="27.5" y2="324.3" stroke="#333" stroke-width="1.1"/>
<line x1="27" y1="324.3" x2="144.9" y2="324.3" stroke="#444" stroke-width="1.2"/>
<line x1="27.5" y1="324.3" x2="27.5" y2="326.7" stroke="#444" stroke-width="0.8"/>
<text x="27.5" y="334.8" font-size="7.6" text-anchor="middle" fill="#1a1a1a">1500</text>
<line x1="38.41" y1="324.3" x2="38.41" y2="325.7" stroke="#444" stroke-width="0.8"/>
<line x1="49.33" y1="324.3" x2="49.33" y2="326.7" stroke="#444" stroke-width="0.8"/>
<text x="49.33" y="334.8" font-size="7.6" text-anchor="middle" fill="#1a1a1a">1550</text>
<line x1="60.24" y1="324.3" x2="60.24" y2="325.7" stroke="#444" stroke-width="0.8"/>
<line x1="71.15" y1="324.3" x2="71.15" y2="326.7" stroke="#444" stroke-width="0.8"/>
<text x="71.15" y="334.8" font-size="7.6" text-anchor="middle" fill="#1a1a1a">1600</text>
<line x1="82.06" y1="324.3" x2="82.06" y2="325.7" stroke="#444" stroke-width="0.8"/>
<line x1="92.97" y1="324.3" x2="92.97" y2="326.7" stroke="#444" stroke-width="0.8"/>
<text x="92.97" y="334.8" font-size="7.6" text-anchor="middle" fill="#1a1a1a">1650</text>
<line x1="103.89" y1="324.3" x2="103.89" y2="325.7" stroke="#444" stroke-width="0.8"/>
<line x1="114.8" y1="324.3" x2="114.8" y2="326.7" stroke="#444" stroke-width="0.8"/>
<text x="114.8" y="334.8" font-size="7.6" text-anchor="middle" fill="#1a1a1a">1700</text>
<line x1="125.71" y1="324.3" x2="125.71" y2="325.7" stroke="#444" stroke-width="0.8"/>
<line x1="136.62" y1="324.3" x2="136.62" y2="326.7" stroke="#444" stroke-width="0.8"/>
<text x="136.62" y="334.8" font-size="7.6" text-anchor="middle" fill="#1a1a1a">1750</text>
<text x="58.5" y="343.5" font-size="7.6" fill="#1a1a1a">Wavenumber (cm<tspan baseline-shift="2.7" font-size="5.3">&#8722;1</tspan>)</text>
<text x="21.6" y="299.4" font-size="7.5" fill="#1a1a1a" transform="rotate(-90 21.6 299.4)">Intensity (arb. units)</text>
<text x="0" y="182" font-size="14" font-weight="bold" fill="#000">c</text>
<text x="21.4" y="217.6" font-size="7.8" fill="#1a1a1a" transform="rotate(-90 21.4 217.6)">2&#215;10<tspan baseline-shift="2.8" font-size="5.4">-3</tspan></text>
<line x1="24.6" y1="205" x2="24.6" y2="211.4" stroke="#222" stroke-width="0.9"/>
<text x="30.1" y="183.7" font-size="7.6" fill="#1a1a1a">NiPc-NH<tspan baseline-shift="-1.6" font-size="5.2">2</tspan>/CNT-SHP</text>
<text x="50.1" y="195.6" font-size="7.6" fill="#1a1a1a">H-bonded water</text>
<text x="37.8" y="211.7" font-size="7.6" fill="#1a1a1a">Free water</text>
<text x="103.1" y="201.9" font-size="7.6" fill="#1a1a1a">Protonated</text>
<text x="103.1" y="211.4" font-size="7.6" fill="#1a1a1a">water(H<tspan baseline-shift="-1.6" font-size="5.2">3</tspan>O<tspan baseline-shift="3.0" font-size="5.2">+</tspan>)</text>
<path d="M180.2 302.77 L180.7 302.69 L181.2 302.6 L181.7 302.52 L182.2 302.44 L182.7 302.36 L183.2 302.28 L183.7 302.2 L184.2 302.12 L184.7 302.03 L185.2 301.95 L185.7 301.87 L186.2 301.79 L186.7 301.71 L187.2 301.63 L187.7 301.54 L188.2 301.46 L188.7 301.38 L189.2 301.3 L189.7 301.22 L190.2 301.14 L190.7 301.06 L191.2 300.97 L191.7 300.89 L192.2 300.81 L192.7 300.73 L193.2 300.65 L193.7 300.57 L194.2 300.49 L194.7 300.4 L195.2 300.32 L195.7 300.24 L196.2 300.16 L196.7 300.08 L197.2 300 L197.7 299.91 L198.2 299.83 L198.7 299.75 L199.2 299.67 L199.7 299.59 L200.2 299.51 L200.7 299.43 L201.2 299.34 L201.7 299.26 L202.2 299.18 L202.7 299.1 L203.2 299.02 L203.7 298.94 L204.2 298.86 L204.7 298.77 L205.2 298.69 L205.7 298.61 L206.2 298.53 L206.7 298.45 L207.2 298.37 L207.7 298.28 L208.2 298.2 L208.7 298.12 L209.2 298.04 L209.7 297.96 L210.2 297.88 L210.7 297.8 L211.2 297.71 L211.7 297.63 L212.2 297.55 L212.7 297.47 L213.2 297.39 L213.7 297.31 L214.2 297.23 L214.7 297.14 L215.2 297.06 L215.7 296.98 L216.2 296.9 L216.7 296.82 L217.2 296.74 L217.7 296.65 L218.2 296.57 L218.7 296.49 L219.2 296.41 L219.7 296.33 L220.2 296.25 L220.7 296.17 L221.2 296.08 L221.7 296 L222.2 295.92 L222.7 295.84 L223.2 295.76 L223.7 295.67 L224.2 295.59 L224.7 295.51 L225.2 295.43 L225.7 295.34 L226.2 295.26 L226.7 295.17 L227.2 295.09 L227.7 295 L228.2 294.92 L228.7 294.83 L229.2 294.73 L229.7 294.64 L230.2 294.54 L230.7 294.44 L231.2 294.34 L231.7 294.23 L232.2 294.11 L232.7 293.98 L233.2 293.85 L233.7 293.7 L234.2 293.54 L234.7 293.37 L235.2 293.18 L235.7 292.97 L236.2 292.74 L236.7 292.48 L237.2 292.2 L237.7 291.88 L238.2 291.53 L238.7 291.14 L239.2 290.7 L239.7 290.22 L240.2 289.69 L240.7 289.1 L241.2 288.46 L241.7 287.75 L242.2 286.98 L242.7 286.14 L243.2 285.23 L243.7 284.26 L244.2 283.21 L244.7 282.1 L245.2 280.92 L245.7 279.68 L246.2 278.38 L246.7 277.02 L247.2 275.62 L247.7 274.18 L248.2 272.71 L248.7 271.22 L249.2 269.73 L249.7 268.23 L250.2 266.76 L250.7 265.32 L251.2 263.93 L251.7 262.59 L252.2 261.34 L252.7 260.17 L253.2 259.1 L253.7 258.14 L254.2 257.31 L254.7 256.62 L255.2 256.06 L255.7 255.66 L256.2 255.41 L256.7 255.3 L257.2 255.29 L257.7 255.36 L258.2 255.51 L258.7 255.73 L259.2 256.03 L259.7 256.4 L260.2 256.83 L260.7 257.34 L261.2 257.9 L261.7 258.52 L262.2 259.2 L262.7 259.92 L263.2 260.69 L263.7 261.49 L264.2 262.33 L264.7 263.19 L265.2 264.08 L265.7 264.99 L266.2 265.91 L266.7 266.83 L267.2 267.76 L267.7 268.69 L268.2 269.61 L268.7 270.52 L269.2 271.42 L269.7 272.3 L270.2 273.16 L270.7 273.99 L271.2 274.8 L271.7 275.58 L272.2 276.33 L272.7 277.04 L273.2 277.73 L273.7 278.38 L274.2 278.99 L274.7 279.57 L275.2 280.12 L275.7 280.62 L276.2 281.1 L276.7 281.54 L277.2 281.94 L277.7 282.32 L278.2 282.66 L278.7 282.97 L279.2 283.25 L279.7 283.5 L280.2 283.73 L280.7 283.93 L281.2 284.1 L281.7 284.26 L282.2 284.39 L282.7 284.5 L283.2 284.6 L283.7 284.68 L284.2 284.74 L284.7 284.78 L285.2 284.82 L285.7 284.84 L286.2 284.85 L286.7 284.85 L287.2 284.84 L287.7 284.82 L288.2 284.8 L288.7 284.76 L289.2 284.73 L289.7 284.68 L290.2 284.63 L290.7 284.58 L291.2 284.53 L291.7 284.47 L292.2 284.4 L292.7 284.34 L293.2 284.27 L293.7 284.2 L294.2 284.13 L294.7 284.06 L295.2 283.98 L295.7 283.91 L296.2 283.83 L296.7 283.75 L297.2 283.68 L297.2 283.7 L296.7 283.78 L296.2 283.86 L295.7 283.94 L295.2 284.02 L294.7 284.1 L294.2 284.19 L293.7 284.27 L293.2 284.35 L292.7 284.43 L292.2 284.51 L291.7 284.59 L291.2 284.67 L290.7 284.76 L290.2 284.84 L289.7 284.92 L289.2 285 L288.7 285.08 L288.2 285.16 L287.7 285.24 L287.2 285.33 L286.7 285.41 L286.2 285.49 L285.7 285.57 L285.2 285.65 L284.7 285.73 L284.2 285.82 L283.7 285.9 L283.2 285.98 L282.7 286.06 L282.2 286.14 L281.7 286.22 L281.2 286.3 L280.7 286.39 L280.2 286.47 L279.7 286.55 L279.2 286.63 L278.7 286.71 L278.2 286.79 L277.7 286.87 L277.2 286.96 L276.7 287.04 L276.2 287.12 L275.7 287.2 L275.2 287.28 L274.7 287.36 L274.2 287.45 L273.7 287.53 L273.2 287.61 L272.7 287.69 L272.2 287.77 L271.7 287.85 L271.2 287.93 L270.7 288.02 L270.2 288.1 L269.7 288.18 L269.2 288.26 L268.7 288.34 L268.2 288.42 L267.7 288.5 L267.2 288.59 L266.7 288.67 L266.2 288.75 L265.7 288.83 L265.2 288.91 L264.7 288.99 L264.2 289.08 L263.7 289.16 L263.2 289.24 L262.7 289.32 L262.2 289.4 L261.7 289.48 L261.2 289.56 L260.7 289.65 L260.2 289.73 L259.7 289.81 L259.2 289.89 L258.7 289.97 L258.2 290.05 L257.7 290.13 L257.2 290.22 L256.7 290.3 L256.2 290.38 L255.7 290.46 L255.2 290.54 L254.7 290.62 L254.2 290.71 L253.7 290.79 L253.2 290.87 L252.7 290.95 L252.2 291.03 L251.7 291.11 L251.2 291.19 L250.7 291.28 L250.2 291.36 L249.7 291.44 L249.2 291.52 L248.7 291.6 L248.2 291.68 L247.7 291.76 L247.2 291.85 L246.7 291.93 L246.2 292.01 L245.7 292.09 L245.2 292.17 L244.7 292.25 L244.2 292.34 L243.7 292.42 L243.2 292.5 L242.7 292.58 L242.2 292.66 L241.7 292.74 L241.2 292.82 L240.7 292.91 L240.2 292.99 L239.7 293.07 L239.2 293.15 L238.7 293.23 L238.2 293.31 L237.7 293.39 L237.2 293.48 L236.7 293.56 L236.2 293.64 L235.7 293.72 L235.2 293.8 L234.7 293.88 L234.2 293.97 L233.7 294.05 L233.2 294.13 L232.7 294.21 L232.2 294.29 L231.7 294.37 L231.2 294.45 L230.7 294.54 L230.2 294.62 L229.7 294.7 L229.2 294.78 L228.7 294.86 L228.2 294.94 L227.7 295.02 L227.2 295.11 L226.7 295.19 L226.2 295.27 L225.7 295.35 L225.2 295.43 L224.7 295.51 L224.2 295.6 L223.7 295.68 L223.2 295.76 L222.7 295.84 L222.2 295.92 L221.7 296 L221.2 296.08 L220.7 296.17 L220.2 296.25 L219.7 296.33 L219.2 296.41 L218.7 296.49 L218.2 296.57 L217.7 296.65 L217.2 296.74 L216.7 296.82 L216.2 296.9 L215.7 296.98 L215.2 297.06 L214.7 297.14 L214.2 297.23 L213.7 297.31 L213.2 297.39 L212.7 297.47 L212.2 297.55 L211.7 297.63 L211.2 297.71 L210.7 297.8 L210.2 297.88 L209.7 297.96 L209.2 298.04 L208.7 298.12 L208.2 298.2 L207.7 298.28 L207.2 298.37 L206.7 298.45 L206.2 298.53 L205.7 298.61 L205.2 298.69 L204.7 298.77 L204.2 298.86 L203.7 298.94 L203.2 299.02 L202.7 299.1 L202.2 299.18 L201.7 299.26 L201.2 299.34 L200.7 299.43 L200.2 299.51 L199.7 299.59 L199.2 299.67 L198.7 299.75 L198.2 299.83 L197.7 299.91 L197.2 300 L196.7 300.08 L196.2 300.16 L195.7 300.24 L195.2 300.32 L194.7 300.4 L194.2 300.49 L193.7 300.57 L193.2 300.65 L192.7 300.73 L192.2 300.81 L191.7 300.89 L191.2 300.97 L190.7 301.06 L190.2 301.14 L189.7 301.22 L189.2 301.3 L188.7 301.38 L188.2 301.46 L187.7 301.54 L187.2 301.63 L186.7 301.71 L186.2 301.79 L185.7 301.87 L185.2 301.95 L184.7 302.03 L184.2 302.12 L183.7 302.2 L183.2 302.28 L182.7 302.36 L182.2 302.44 L181.7 302.52 L181.2 302.6 L180.7 302.69 L180.2 302.77Z" fill="#f8c28e" fill-opacity="0.67" stroke="none"/>
<path d="M180.2 302.1 L180.7 302.01 L181.2 301.91 L181.7 301.82 L182.2 301.72 L182.7 301.63 L183.2 301.53 L183.7 301.44 L184.2 301.34 L184.7 301.25 L185.2 301.15 L185.7 301.06 L186.2 300.96 L186.7 300.86 L187.2 300.76 L187.7 300.66 L188.2 300.56 L188.7 300.46 L189.2 300.36 L189.7 300.26 L190.2 300.16 L190.7 300.05 L191.2 299.95 L191.7 299.85 L192.2 299.74 L192.7 299.63 L193.2 299.52 L193.7 299.41 L194.2 299.3 L194.7 299.19 L195.2 299.07 L195.7 298.95 L196.2 298.83 L196.7 298.71 L197.2 298.58 L197.7 298.45 L198.2 298.31 L198.7 298.18 L199.2 298.03 L199.7 297.88 L200.2 297.73 L200.7 297.57 L201.2 297.4 L201.7 297.22 L202.2 297.04 L202.7 296.84 L203.2 296.63 L203.7 296.41 L204.2 296.18 L204.7 295.93 L205.2 295.67 L205.7 295.39 L206.2 295.08 L206.7 294.76 L207.2 294.41 L207.7 294.04 L208.2 293.64 L208.7 293.21 L209.2 292.75 L209.7 292.26 L210.2 291.73 L210.7 291.16 L211.2 290.54 L211.7 289.89 L212.2 289.18 L212.7 288.43 L213.2 287.62 L213.7 286.76 L214.2 285.85 L214.7 284.87 L215.2 283.83 L215.7 282.72 L216.2 281.55 L216.7 280.31 L217.2 279 L217.7 277.62 L218.2 276.17 L218.7 274.65 L219.2 273.05 L219.7 271.38 L220.2 269.63 L220.7 267.82 L221.2 265.93 L221.7 263.97 L222.2 261.95 L222.7 259.86 L223.2 257.71 L223.7 255.5 L224.2 253.24 L224.7 250.94 L225.2 248.59 L225.7 246.2 L226.2 243.78 L226.7 241.33 L227.2 238.87 L227.7 236.4 L228.2 233.93 L228.7 231.47 L229.2 229.03 L229.7 226.63 L230.2 224.26 L230.7 221.95 L231.2 219.72 L231.7 217.57 L232.2 215.52 L232.7 213.59 L233.2 211.8 L233.7 210.17 L234.2 208.71 L234.7 207.45 L235.2 206.39 L235.7 205.56 L236.2 204.96 L236.7 204.6 L237.2 204.49 L237.7 204.62 L238.2 204.96 L238.7 205.52 L239.2 206.29 L239.7 207.25 L240.2 208.39 L240.7 209.68 L241.2 211.13 L241.7 212.7 L242.2 214.38 L242.7 216.16 L243.2 218.02 L243.7 219.94 L244.2 221.93 L244.7 223.96 L245.2 226.02 L245.7 228.1 L246.2 230.21 L246.7 232.32 L247.2 234.43 L247.7 236.54 L248.2 238.63 L248.7 240.71 L249.2 242.77 L249.7 244.8 L250.2 246.79 L250.7 248.75 L251.2 250.68 L251.7 252.55 L252.2 254.38 L252.7 256.17 L253.2 257.89 L253.7 259.57 L254.2 261.19 L254.7 262.75 L255.2 264.25 L255.7 265.69 L256.2 267.07 L256.7 268.39 L257.2 269.65 L257.7 270.85 L258.2 271.99 L258.7 273.06 L259.2 274.08 L259.7 275.04 L260.2 275.94 L260.7 276.79 L261.2 277.58 L261.7 278.32 L262.2 279.02 L262.7 279.66 L263.2 280.25 L263.7 280.8 L264.2 281.31 L264.7 281.78 L265.2 282.21 L265.7 282.6 L266.2 282.96 L266.7 283.28 L267.2 283.58 L267.7 283.84 L268.2 284.08 L268.7 284.29 L269.2 284.48 L269.7 284.65 L270.2 284.79 L270.7 284.92 L271.2 285.03 L271.7 285.13 L272.2 285.21 L272.7 285.27 L273.2 285.33 L273.7 285.37 L274.2 285.4 L274.7 285.42 L275.2 285.43 L275.7 285.44 L276.2 285.44 L276.7 285.43 L277.2 285.42 L277.7 285.4 L278.2 285.37 L278.7 285.34 L279.2 285.31 L279.7 285.27 L280.2 285.23 L280.7 285.19 L281.2 285.15 L281.7 285.1 L282.2 285.05 L282.7 285 L283.2 284.94 L283.7 284.89 L284.2 284.83 L284.7 284.77 L285.2 284.71 L285.7 284.65 L286.2 284.59 L286.7 284.53 L287.2 284.47 L287.7 284.4 L288.2 284.34 L288.7 284.27 L289.2 284.21 L289.7 284.14 L290.2 284.07 L290.7 284.01 L291.2 283.94 L291.7 283.87 L292.2 283.8 L292.7 283.73 L293.2 283.66 L293.7 283.59 L294.2 283.52 L294.7 283.45 L295.2 283.38 L295.7 283.31 L296.2 283.24 L296.7 283.17 L297.2 283.1 L297.2 283.7 L296.7 283.78 L296.2 283.86 L295.7 283.94 L295.2 284.02 L294.7 284.1 L294.2 284.19 L293.7 284.27 L293.2 284.35 L292.7 284.43 L292.2 284.51 L291.7 284.59 L291.2 284.67 L290.7 284.76 L290.2 284.84 L289.7 284.92 L289.2 285 L288.7 285.08 L288.2 285.16 L287.7 285.24 L287.2 285.33 L286.7 285.41 L286.2 285.49 L285.7 285.57 L285.2 285.65 L284.7 285.73 L284.2 285.82 L283.7 285.9 L283.2 285.98 L282.7 286.06 L282.2 286.14 L281.7 286.22 L281.2 286.3 L280.7 286.39 L280.2 286.47 L279.7 286.55 L279.2 286.63 L278.7 286.71 L278.2 286.79 L277.7 286.87 L277.2 286.96 L276.7 287.04 L276.2 287.12 L275.7 287.2 L275.2 287.28 L274.7 287.36 L274.2 287.45 L273.7 287.53 L273.2 287.61 L272.7 287.69 L272.2 287.77 L271.7 287.85 L271.2 287.93 L270.7 288.02 L270.2 288.1 L269.7 288.18 L269.2 288.26 L268.7 288.34 L268.2 288.42 L267.7 288.5 L267.2 288.59 L266.7 288.67 L266.2 288.75 L265.7 288.83 L265.2 288.91 L264.7 288.99 L264.2 289.08 L263.7 289.16 L263.2 289.24 L262.7 289.32 L262.2 289.4 L261.7 289.48 L261.2 289.56 L260.7 289.65 L260.2 289.73 L259.7 289.81 L259.2 289.89 L258.7 289.97 L258.2 290.05 L257.7 290.13 L257.2 290.22 L256.7 290.3 L256.2 290.38 L255.7 290.46 L255.2 290.54 L254.7 290.62 L254.2 290.71 L253.7 290.79 L253.2 290.87 L252.7 290.95 L252.2 291.03 L251.7 291.11 L251.2 291.19 L250.7 291.28 L250.2 291.36 L249.7 291.44 L249.2 291.52 L248.7 291.6 L248.2 291.68 L247.7 291.76 L247.2 291.85 L246.7 291.93 L246.2 292.01 L245.7 292.09 L245.2 292.17 L244.7 292.25 L244.2 292.34 L243.7 292.42 L243.2 292.5 L242.7 292.58 L242.2 292.66 L241.7 292.74 L241.2 292.82 L240.7 292.91 L240.2 292.99 L239.7 293.07 L239.2 293.15 L238.7 293.23 L238.2 293.31 L237.7 293.39 L237.2 293.48 L236.7 293.56 L236.2 293.64 L235.7 293.72 L235.2 293.8 L234.7 293.88 L234.2 293.97 L233.7 294.05 L233.2 294.13 L232.7 294.21 L232.2 294.29 L231.7 294.37 L231.2 294.45 L230.7 294.54 L230.2 294.62 L229.7 294.7 L229.2 294.78 L228.7 294.86 L228.2 294.94 L227.7 295.02 L227.2 295.11 L226.7 295.19 L226.2 295.27 L225.7 295.35 L225.2 295.43 L224.7 295.51 L224.2 295.6 L223.7 295.68 L223.2 295.76 L222.7 295.84 L222.2 295.92 L221.7 296 L221.2 296.08 L220.7 296.17 L220.2 296.25 L219.7 296.33 L219.2 296.41 L218.7 296.49 L218.2 296.57 L217.7 296.65 L217.2 296.74 L216.7 296.82 L216.2 296.9 L215.7 296.98 L215.2 297.06 L214.7 297.14 L214.2 297.23 L213.7 297.31 L213.2 297.39 L212.7 297.47 L212.2 297.55 L211.7 297.63 L211.2 297.71 L210.7 297.8 L210.2 297.88 L209.7 297.96 L209.2 298.04 L208.7 298.12 L208.2 298.2 L207.7 298.28 L207.2 298.37 L206.7 298.45 L206.2 298.53 L205.7 298.61 L205.2 298.69 L204.7 298.77 L204.2 298.86 L203.7 298.94 L203.2 299.02 L202.7 299.1 L202.2 299.18 L201.7 299.26 L201.2 299.34 L200.7 299.43 L200.2 299.51 L199.7 299.59 L199.2 299.67 L198.7 299.75 L198.2 299.83 L197.7 299.91 L197.2 300 L196.7 300.08 L196.2 300.16 L195.7 300.24 L195.2 300.32 L194.7 300.4 L194.2 300.49 L193.7 300.57 L193.2 300.65 L192.7 300.73 L192.2 300.81 L191.7 300.89 L191.2 300.97 L190.7 301.06 L190.2 301.14 L189.7 301.22 L189.2 301.3 L188.7 301.38 L188.2 301.46 L187.7 301.54 L187.2 301.63 L186.7 301.71 L186.2 301.79 L185.7 301.87 L185.2 301.95 L184.7 302.03 L184.2 302.12 L183.7 302.2 L183.2 302.28 L182.7 302.36 L182.2 302.44 L181.7 302.52 L181.2 302.6 L180.7 302.69 L180.2 302.77Z" fill="#86d4d8" fill-opacity="0.62" stroke="none"/>
<path d="M180.2 302.67 L180.7 302.57 L181.2 302.47 L181.7 302.37 L182.2 302.26 L182.7 302.16 L183.2 302.04 L183.7 301.93 L184.2 301.81 L184.7 301.68 L185.2 301.56 L185.7 301.42 L186.2 301.28 L186.7 301.13 L187.2 300.98 L187.7 300.81 L188.2 300.64 L188.7 300.46 L189.2 300.27 L189.7 300.07 L190.2 299.86 L190.7 299.64 L191.2 299.4 L191.7 299.15 L192.2 298.89 L192.7 298.61 L193.2 298.31 L193.7 298 L194.2 297.68 L194.7 297.34 L195.2 296.98 L195.7 296.6 L196.2 296.2 L196.7 295.79 L197.2 295.35 L197.7 294.9 L198.2 294.43 L198.7 293.95 L199.2 293.44 L199.7 292.92 L200.2 292.38 L200.7 291.82 L201.2 291.25 L201.7 290.67 L202.2 290.08 L202.7 289.47 L203.2 288.86 L203.7 288.23 L204.2 287.61 L204.7 286.97 L205.2 286.34 L205.7 285.71 L206.2 285.08 L206.7 284.46 L207.2 283.84 L207.7 283.24 L208.2 282.65 L208.7 282.07 L209.2 281.52 L209.7 280.98 L210.2 280.47 L210.7 279.99 L211.2 279.53 L211.7 279.1 L212.2 278.71 L212.7 278.35 L213.2 278.03 L213.7 277.74 L214.2 277.49 L214.7 277.28 L215.2 277.12 L215.7 276.99 L216.2 276.9 L216.7 276.85 L217.2 276.84 L217.7 276.85 L218.2 276.91 L218.7 276.99 L219.2 277.11 L219.7 277.26 L220.2 277.44 L220.7 277.64 L221.2 277.88 L221.7 278.14 L222.2 278.42 L222.7 278.73 L223.2 279.05 L223.7 279.4 L224.2 279.76 L224.7 280.14 L225.2 280.53 L225.7 280.92 L226.2 281.33 L226.7 281.75 L227.2 282.17 L227.7 282.59 L228.2 283.01 L228.7 283.44 L229.2 283.86 L229.7 284.28 L230.2 284.69 L230.7 285.09 L231.2 285.49 L231.7 285.87 L232.2 286.25 L232.7 286.62 L233.2 286.97 L233.7 287.31 L234.2 287.63 L234.7 287.94 L235.2 288.24 L235.7 288.52 L236.2 288.79 L236.7 289.04 L237.2 289.28 L237.7 289.5 L238.2 289.7 L238.7 289.89 L239.2 290.06 L239.7 290.22 L240.2 290.37 L240.7 290.5 L241.2 290.62 L241.7 290.72 L242.2 290.82 L242.7 290.9 L243.2 290.97 L243.7 291.02 L244.2 291.07 L244.7 291.11 L245.2 291.14 L245.7 291.16 L246.2 291.17 L246.7 291.17 L247.2 291.17 L247.7 291.15 L248.2 291.14 L248.7 291.11 L249.2 291.08 L249.7 291.05 L250.2 291.01 L250.7 290.97 L251.2 290.92 L251.7 290.87 L252.2 290.82 L252.7 290.76 L253.2 290.7 L253.7 290.64 L254.2 290.58 L254.7 290.51 L255.2 290.45 L255.7 290.38 L256.2 290.31 L256.7 290.23 L257.2 290.16 L257.7 290.09 L258.2 290.01 L258.7 289.94 L259.2 289.86 L259.7 289.78 L260.2 289.7 L260.7 289.63 L261.2 289.55 L261.7 289.47 L262.2 289.39 L262.7 289.31 L263.2 289.23 L263.7 289.15 L264.2 289.07 L264.7 288.99 L265.2 288.91 L265.7 288.83 L266.2 288.75 L266.7 288.67 L267.2 288.58 L267.7 288.5 L268.2 288.42 L268.7 288.34 L269.2 288.26 L269.7 288.18 L270.2 288.1 L270.7 288.02 L271.2 287.93 L271.7 287.85 L272.2 287.77 L272.7 287.69 L273.2 287.61 L273.7 287.53 L274.2 287.45 L274.7 287.36 L275.2 287.28 L275.7 287.2 L276.2 287.12 L276.7 287.04 L277.2 286.96 L277.7 286.87 L278.2 286.79 L278.7 286.71 L279.2 286.63 L279.7 286.55 L280.2 286.47 L280.7 286.39 L281.2 286.3 L281.7 286.22 L282.2 286.14 L282.7 286.06 L283.2 285.98 L283.7 285.9 L284.2 285.82 L284.7 285.73 L285.2 285.65 L285.7 285.57 L286.2 285.49 L286.7 285.41 L287.2 285.33 L287.7 285.24 L288.2 285.16 L288.7 285.08 L289.2 285 L289.7 284.92 L290.2 284.84 L290.7 284.76 L291.2 284.67 L291.7 284.59 L292.2 284.51 L292.7 284.43 L293.2 284.35 L293.7 284.27 L294.2 284.19 L294.7 284.1 L295.2 284.02 L295.7 283.94 L296.2 283.86 L296.7 283.78 L297.2 283.7 L297.2 283.7 L296.7 283.78 L296.2 283.86 L295.7 283.94 L295.2 284.02 L294.7 284.1 L294.2 284.19 L293.7 284.27 L293.2 284.35 L292.7 284.43 L292.2 284.51 L291.7 284.59 L291.2 284.67 L290.7 284.76 L290.2 284.84 L289.7 284.92 L289.2 285 L288.7 285.08 L288.2 285.16 L287.7 285.24 L287.2 285.33 L286.7 285.41 L286.2 285.49 L285.7 285.57 L285.2 285.65 L284.7 285.73 L284.2 285.82 L283.7 285.9 L283.2 285.98 L282.7 286.06 L282.2 286.14 L281.7 286.22 L281.2 286.3 L280.7 286.39 L280.2 286.47 L279.7 286.55 L279.2 286.63 L278.7 286.71 L278.2 286.79 L277.7 286.87 L277.2 286.96 L276.7 287.04 L276.2 287.12 L275.7 287.2 L275.2 287.28 L274.7 287.36 L274.2 287.45 L273.7 287.53 L273.2 287.61 L272.7 287.69 L272.2 287.77 L271.7 287.85 L271.2 287.93 L270.7 288.02 L270.2 288.1 L269.7 288.18 L269.2 288.26 L268.7 288.34 L268.2 288.42 L267.7 288.5 L267.2 288.59 L266.7 288.67 L266.2 288.75 L265.7 288.83 L265.2 288.91 L264.7 288.99 L264.2 289.08 L263.7 289.16 L263.2 289.24 L262.7 289.32 L262.2 289.4 L261.7 289.48 L261.2 289.56 L260.7 289.65 L260.2 289.73 L259.7 289.81 L259.2 289.89 L258.7 289.97 L258.2 290.05 L257.7 290.13 L257.2 290.22 L256.7 290.3 L256.2 290.38 L255.7 290.46 L255.2 290.54 L254.7 290.62 L254.2 290.71 L253.7 290.79 L253.2 290.87 L252.7 290.95 L252.2 291.03 L251.7 291.11 L251.2 291.19 L250.7 291.28 L250.2 291.36 L249.7 291.44 L249.2 291.52 L248.7 291.6 L248.2 291.68 L247.7 291.76 L247.2 291.85 L246.7 291.93 L246.2 292.01 L245.7 292.09 L245.2 292.17 L244.7 292.25 L244.2 292.34 L243.7 292.42 L243.2 292.5 L242.7 292.58 L242.2 292.66 L241.7 292.74 L241.2 292.82 L240.7 292.91 L240.2 292.99 L239.7 293.07 L239.2 293.15 L238.7 293.23 L238.2 293.31 L237.7 293.39 L237.2 293.48 L236.7 293.56 L236.2 293.64 L235.7 293.72 L235.2 293.8 L234.7 293.88 L234.2 293.97 L233.7 294.05 L233.2 294.13 L232.7 294.21 L232.2 294.29 L231.7 294.37 L231.2 294.45 L230.7 294.54 L230.2 294.62 L229.7 294.7 L229.2 294.78 L228.7 294.86 L228.2 294.94 L227.7 295.02 L227.2 295.11 L226.7 295.19 L226.2 295.27 L225.7 295.35 L225.2 295.43 L224.7 295.51 L224.2 295.6 L223.7 295.68 L223.2 295.76 L222.7 295.84 L222.2 295.92 L221.7 296 L221.2 296.08 L220.7 296.17 L220.2 296.25 L219.7 296.33 L219.2 296.41 L218.7 296.49 L218.2 296.57 L217.7 296.65 L217.2 296.74 L216.7 296.82 L216.2 296.9 L215.7 296.98 L215.2 297.06 L214.7 297.14 L214.2 297.23 L213.7 297.31 L213.2 297.39 L212.7 297.47 L212.2 297.55 L211.7 297.63 L211.2 297.71 L210.7 297.8 L210.2 297.88 L209.7 297.96 L209.2 298.04 L208.7 298.12 L208.2 298.2 L207.7 298.28 L207.2 298.37 L206.7 298.45 L206.2 298.53 L205.7 298.61 L205.2 298.69 L204.7 298.77 L204.2 298.86 L203.7 298.94 L203.2 299.02 L202.7 299.1 L202.2 299.18 L201.7 299.26 L201.2 299.34 L200.7 299.43 L200.2 299.51 L199.7 299.59 L199.2 299.67 L198.7 299.75 L198.2 299.83 L197.7 299.91 L197.2 300 L196.7 300.08 L196.2 300.16 L195.7 300.24 L195.2 300.32 L194.7 300.4 L194.2 300.49 L193.7 300.57 L193.2 300.65 L192.7 300.73 L192.2 300.81 L191.7 300.89 L191.2 300.97 L190.7 301.06 L190.2 301.14 L189.7 301.22 L189.2 301.3 L188.7 301.38 L188.2 301.46 L187.7 301.54 L187.2 301.63 L186.7 301.71 L186.2 301.79 L185.7 301.87 L185.2 301.95 L184.7 302.03 L184.2 302.12 L183.7 302.2 L183.2 302.28 L182.7 302.36 L182.2 302.44 L181.7 302.52 L181.2 302.6 L180.7 302.69 L180.2 302.77Z" fill="#b6da98" fill-opacity="0.62" stroke="none"/>
<path d="M180.2 299.77 L180.7 299.69 L181.2 299.6 L181.7 299.52 L182.2 299.44 L182.7 299.36 L183.2 299.28 L183.7 299.2 L184.2 299.12 L184.7 299.03 L185.2 298.95 L185.7 298.87 L186.2 298.79 L186.7 298.71 L187.2 298.63 L187.7 298.54 L188.2 298.46 L188.7 298.38 L189.2 298.3 L189.7 298.22 L190.2 298.14 L190.7 298.06 L191.2 297.97 L191.7 297.89 L192.2 297.81 L192.7 297.73 L193.2 297.65 L193.7 297.57 L194.2 297.49 L194.7 297.4 L195.2 297.32 L195.7 297.24 L196.2 297.16 L196.7 297.08 L197.2 297 L197.7 296.91 L198.2 296.83 L198.7 296.75 L199.2 296.67 L199.7 296.59 L200.2 296.51 L200.7 296.43 L201.2 296.34 L201.7 296.26 L202.2 296.18 L202.7 296.1 L203.2 296.02 L203.7 295.94 L204.2 295.86 L204.7 295.77 L205.2 295.69 L205.7 295.61 L206.2 295.53 L206.7 295.45 L207.2 295.37 L207.7 295.29 L208.2 295.2 L208.7 295.12 L209.2 295.04 L209.7 294.96 L210.2 294.88 L210.7 294.8 L211.2 294.72 L211.7 294.63 L212.2 294.55 L212.7 294.47 L213.2 294.39 L213.7 294.31 L214.2 294.23 L214.7 294.15 L215.2 294.07 L215.7 293.98 L216.2 293.9 L216.7 293.82 L217.2 293.74 L217.7 293.66 L218.2 293.58 L218.7 293.5 L219.2 293.42 L219.7 293.34 L220.2 293.26 L220.7 293.18 L221.2 293.11 L221.7 293.03 L222.2 292.95 L222.7 292.88 L223.2 292.8 L223.7 292.73 L224.2 292.65 L224.7 292.58 L225.2 292.51 L225.7 292.44 L226.2 292.38 L226.7 292.32 L227.2 292.26 L227.7 292.2 L228.2 292.15 L228.7 292.1 L229.2 292.06 L229.7 292.03 L230.2 292 L230.7 291.97 L231.2 291.96 L231.7 291.95 L232.2 291.95 L232.7 291.96 L233.2 291.98 L233.7 292 L234.2 292.03 L234.7 292.06 L235.2 292.1 L235.7 292.15 L236.2 292.19 L236.7 292.23 L237.2 292.27 L237.7 292.31 L238.2 292.34 L238.7 292.36 L239.2 292.38 L239.7 292.39 L240.2 292.39 L240.7 292.39 L241.2 292.37 L241.7 292.35 L242.2 292.32 L242.7 292.29 L243.2 292.25 L243.7 292.2 L244.2 292.15 L244.7 292.1 L245.2 292.04 L245.7 291.98 L245.7 292.09 L245.2 292.17 L244.7 292.25 L244.2 292.34 L243.7 292.42 L243.2 292.5 L242.7 292.58 L242.2 292.66 L241.7 292.74 L241.2 292.82 L240.7 292.91 L240.2 292.99 L239.7 293.07 L239.2 293.15 L238.7 293.23 L238.2 293.31 L237.7 293.39 L237.2 293.48 L236.7 293.56 L236.2 293.64 L235.7 293.72 L235.2 293.8 L234.7 293.88 L234.2 293.97 L233.7 294.05 L233.2 294.13 L232.7 294.21 L232.2 294.29 L231.7 294.37 L231.2 294.45 L230.7 294.54 L230.2 294.62 L229.7 294.7 L229.2 294.78 L228.7 294.86 L228.2 294.94 L227.7 295.02 L227.2 295.11 L226.7 295.19 L226.2 295.27 L225.7 295.35 L225.2 295.43 L224.7 295.51 L224.2 295.6 L223.7 295.68 L223.2 295.76 L222.7 295.84 L222.2 295.92 L221.7 296 L221.2 296.08 L220.7 296.17 L220.2 296.25 L219.7 296.33 L219.2 296.41 L218.7 296.49 L218.2 296.57 L217.7 296.65 L217.2 296.74 L216.7 296.82 L216.2 296.9 L215.7 296.98 L215.2 297.06 L214.7 297.14 L214.2 297.23 L213.7 297.31 L213.2 297.39 L212.7 297.47 L212.2 297.55 L211.7 297.63 L211.2 297.71 L210.7 297.8 L210.2 297.88 L209.7 297.96 L209.2 298.04 L208.7 298.12 L208.2 298.2 L207.7 298.28 L207.2 298.37 L206.7 298.45 L206.2 298.53 L205.7 298.61 L205.2 298.69 L204.7 298.77 L204.2 298.86 L203.7 298.94 L203.2 299.02 L202.7 299.1 L202.2 299.18 L201.7 299.26 L201.2 299.34 L200.7 299.43 L200.2 299.51 L199.7 299.59 L199.2 299.67 L198.7 299.75 L198.2 299.83 L197.7 299.91 L197.2 300 L196.7 300.08 L196.2 300.16 L195.7 300.24 L195.2 300.32 L194.7 300.4 L194.2 300.49 L193.7 300.57 L193.2 300.65 L192.7 300.73 L192.2 300.81 L191.7 300.89 L191.2 300.97 L190.7 301.06 L190.2 301.14 L189.7 301.22 L189.2 301.3 L188.7 301.38 L188.2 301.46 L187.7 301.54 L187.2 301.63 L186.7 301.71 L186.2 301.79 L185.7 301.87 L185.2 301.95 L184.7 302.03 L184.2 302.12 L183.7 302.2 L183.2 302.28 L182.7 302.36 L182.2 302.44 L181.7 302.52 L181.2 302.6 L180.7 302.69 L180.2 302.77Z" fill="#f8c28e" fill-opacity="0.7" stroke="none"/>
<path d="M222.2 295.68 L222.7 295.57 L223.2 295.46 L223.7 295.34 L224.2 295.22 L224.7 295.1 L225.2 294.97 L225.7 294.84 L226.2 294.7 L226.7 294.56 L227.2 294.41 L227.7 294.26 L228.2 294.11 L228.7 293.95 L229.2 293.78 L229.7 293.62 L230.2 293.45 L230.7 293.28 L231.2 293.1 L231.7 292.93 L232.2 292.75 L232.7 292.58 L233.2 292.41 L233.7 292.23 L234.2 292.06 L234.7 291.9 L235.2 291.73 L235.7 291.57 L236.2 291.42 L236.7 291.27 L237.2 291.12 L237.7 290.98 L238.2 290.84 L238.7 290.71 L239.2 290.58 L239.7 290.45 L240.2 290.33 L240.7 290.21 L241.2 290.1 L241.7 289.99 L242.2 289.88 L242.7 289.77 L243.2 289.67 L243.7 289.57 L244.2 289.47 L244.7 289.37 L245.2 289.28 L245.7 289.19 L246.2 289.09 L246.7 289 L247.2 288.91 L247.7 288.82 L248.2 288.73 L248.7 288.65 L249.2 288.56 L249.7 288.47 L250.2 288.39 L250.7 288.3 L251.2 288.22 L251.7 288.13 L252.2 288.05 L252.7 287.97 L253.2 287.88 L253.7 287.8 L254.2 287.72 L254.7 287.63 L255.2 287.55 L255.7 287.47 L256.2 287.39 L256.7 287.3 L257.2 287.22 L257.7 287.14 L258.2 287.06 L258.7 286.98 L259.2 286.89 L259.7 286.81 L260.2 286.73 L260.7 286.65 L261.2 286.57 L261.7 286.48 L262.2 286.4 L262.7 286.32 L263.2 286.24 L263.7 286.16 L264.2 286.08 L264.7 285.99 L265.2 285.91 L265.7 285.83 L266.2 285.75 L266.7 285.67 L267.2 285.59 L267.7 285.51 L268.2 285.42 L268.7 285.34 L269.2 285.26 L269.7 285.18 L270.2 285.1 L270.7 285.02 L271.2 284.93 L271.7 284.85 L272.2 284.77 L272.7 284.69 L273.2 284.61 L273.7 284.53 L274.2 284.45 L274.7 284.36 L275.2 284.28 L275.7 284.2 L276.2 284.12 L276.7 284.04 L277.2 283.96 L277.7 283.87 L278.2 283.79 L278.7 283.71 L279.2 283.63 L279.7 283.55 L280.2 283.47 L280.7 283.39 L281.2 283.3 L281.7 283.22 L282.2 283.14 L282.7 283.06 L283.2 282.98 L283.7 282.9 L284.2 282.82 L284.7 282.73 L285.2 282.65 L285.7 282.57 L286.2 282.49 L286.7 282.41 L287.2 282.33 L287.7 282.24 L288.2 282.16 L288.7 282.08 L289.2 282 L289.7 281.92 L290.2 281.84 L290.7 281.76 L291.2 281.67 L291.7 281.59 L292.2 281.51 L292.7 281.43 L293.2 281.35 L293.7 281.27 L294.2 281.19 L294.7 281.1 L295.2 281.02 L295.7 280.94 L296.2 280.86 L296.7 280.78 L297.2 280.7 L297.2 283.7 L296.7 283.78 L296.2 283.86 L295.7 283.94 L295.2 284.02 L294.7 284.1 L294.2 284.19 L293.7 284.27 L293.2 284.35 L292.7 284.43 L292.2 284.51 L291.7 284.59 L291.2 284.67 L290.7 284.76 L290.2 284.84 L289.7 284.92 L289.2 285 L288.7 285.08 L288.2 285.16 L287.7 285.24 L287.2 285.33 L286.7 285.41 L286.2 285.49 L285.7 285.57 L285.2 285.65 L284.7 285.73 L284.2 285.82 L283.7 285.9 L283.2 285.98 L282.7 286.06 L282.2 286.14 L281.7 286.22 L281.2 286.3 L280.7 286.39 L280.2 286.47 L279.7 286.55 L279.2 286.63 L278.7 286.71 L278.2 286.79 L277.7 286.87 L277.2 286.96 L276.7 287.04 L276.2 287.12 L275.7 287.2 L275.2 287.28 L274.7 287.36 L274.2 287.45 L273.7 287.53 L273.2 287.61 L272.7 287.69 L272.2 287.77 L271.7 287.85 L271.2 287.93 L270.7 288.02 L270.2 288.1 L269.7 288.18 L269.2 288.26 L268.7 288.34 L268.2 288.42 L267.7 288.5 L267.2 288.59 L266.7 288.67 L266.2 288.75 L265.7 288.83 L265.2 288.91 L264.7 288.99 L264.2 289.08 L263.7 289.16 L263.2 289.24 L262.7 289.32 L262.2 289.4 L261.7 289.48 L261.2 289.56 L260.7 289.65 L260.2 289.73 L259.7 289.81 L259.2 289.89 L258.7 289.97 L258.2 290.05 L257.7 290.13 L257.2 290.22 L256.7 290.3 L256.2 290.38 L255.7 290.46 L255.2 290.54 L254.7 290.62 L254.2 290.71 L253.7 290.79 L253.2 290.87 L252.7 290.95 L252.2 291.03 L251.7 291.11 L251.2 291.19 L250.7 291.28 L250.2 291.36 L249.7 291.44 L249.2 291.52 L248.7 291.6 L248.2 291.68 L247.7 291.76 L247.2 291.85 L246.7 291.93 L246.2 292.01 L245.7 292.09 L245.2 292.17 L244.7 292.25 L244.2 292.34 L243.7 292.42 L243.2 292.5 L242.7 292.58 L242.2 292.66 L241.7 292.74 L241.2 292.82 L240.7 292.91 L240.2 292.99 L239.7 293.07 L239.2 293.15 L238.7 293.23 L238.2 293.31 L237.7 293.39 L237.2 293.48 L236.7 293.56 L236.2 293.64 L235.7 293.72 L235.2 293.8 L234.7 293.88 L234.2 293.97 L233.7 294.05 L233.2 294.13 L232.7 294.21 L232.2 294.29 L231.7 294.37 L231.2 294.45 L230.7 294.54 L230.2 294.62 L229.7 294.7 L229.2 294.78 L228.7 294.86 L228.2 294.94 L227.7 295.02 L227.2 295.11 L226.7 295.19 L226.2 295.27 L225.7 295.35 L225.2 295.43 L224.7 295.51 L224.2 295.6 L223.7 295.68 L223.2 295.76 L222.7 295.84 L222.2 295.92Z" fill="#b6da98" fill-opacity="0.7" stroke="none"/>
<line x1="215.2" y1="247" x2="215.2" y2="286.3" stroke="#2a2a2a" stroke-width="0.85" stroke-dasharray="1.5 1.2"/>
<line x1="237" y1="196.4" x2="237" y2="257.5" stroke="#2a2a2a" stroke-width="0.85" stroke-dasharray="1.5 1.2"/>
<line x1="257.7" y1="219" x2="257.7" y2="266.6" stroke="#2a2a2a" stroke-width="0.85" stroke-dasharray="1.5 1.2"/>
<path d="M180.6 302.3 L181.54 302.06 L182.84 301.76 L184.38 301.39 L186.04 300.94 L187.72 300.41 L189.3 299.8 L190.86 299.07 L192.5 298.23 L194.16 297.31 L195.76 296.34 L197.23 295.36 L198.5 294.4 L199.52 293.48 L200.34 292.59 L201.03 291.68 L201.65 290.72 L202.29 289.67 L203 288.5 L203.8 287.16 L204.64 285.68 L205.48 284.11 L206.31 282.5 L207.09 280.91 L207.8 279.4 L208.42 277.98 L208.97 276.61 L209.47 275.27 L209.96 273.91 L210.46 272.5 L211 271 L211.6 269.39 L212.23 267.67 L212.87 265.91 L213.51 264.15 L214.13 262.43 L214.7 260.8 L215.22 259.28 L215.69 257.83 L216.14 256.42 L216.59 255.03 L217.03 253.63 L217.5 252.2 L217.97 250.79 L218.43 249.42 L218.9 248.05 L219.39 246.61 L219.92 245.05 L220.5 243.3 L221.17 241.29 L221.91 239.06 L222.69 236.69 L223.48 234.31 L224.23 232.01 L224.9 229.9 L225.5 227.96 L226.04 226.12 L226.55 224.36 L227.04 222.67 L227.52 221.05 L228 219.5 L228.49 218.03 L228.96 216.64 L229.42 215.32 L229.89 214.06 L230.34 212.82 L230.8 211.6 L231.25 210.37 L231.68 209.16 L232.11 207.97 L232.54 206.83 L233 205.77 L233.5 204.8 L234.03 203.88 L234.59 202.98 L235.17 202.15 L235.77 201.44 L236.38 200.91 L237 200.6 L237.61 200.51 L238.22 200.59 L238.84 200.84 L239.5 201.27 L240.21 201.85 L241 202.6 L241.89 203.57 L242.88 204.77 L243.92 206.14 L244.98 207.6 L246.02 209.07 L247 210.5 L247.93 211.87 L248.85 213.23 L249.75 214.62 L250.63 216.04 L251.48 217.53 L252.3 219.1 L253.1 220.79 L253.87 222.58 L254.63 224.44 L255.35 226.31 L256.04 228.14 L256.7 229.9 L257.32 231.58 L257.9 233.23 L258.45 234.84 L258.98 236.43 L259.49 237.98 L260 239.5 L260.5 240.98 L260.97 242.43 L261.44 243.84 L261.89 245.23 L262.34 246.61 L262.8 248 L263.25 249.38 L263.7 250.75 L264.14 252.11 L264.58 253.47 L265.03 254.83 L265.5 256.2 L265.98 257.59 L266.46 259 L266.95 260.41 L267.45 261.8 L267.97 263.17 L268.5 264.5 L269.04 265.8 L269.59 267.08 L270.16 268.33 L270.74 269.54 L271.35 270.7 L272 271.8 L272.69 272.84 L273.41 273.83 L274.17 274.77 L274.94 275.65 L275.72 276.46 L276.5 277.2 L277.27 277.85 L278.04 278.42 L278.83 278.92 L279.62 279.38 L280.44 279.8 L281.3 280.2 L282.21 280.58 L283.16 280.93 L284.14 281.25 L285.12 281.53 L286.08 281.78 L287 282 L287.87 282.17 L288.71 282.3 L289.53 282.39 L290.34 282.47 L291.16 282.53 L292 282.6 L292.93 282.67 L293.94 282.73 L294.96 282.79 L295.91 282.83 L296.72 282.87 L297.3 282.9" stroke="#ee3b3b" stroke-width="0.95" fill="none"/>
<circle cx="182.3" cy="305.6" r="1.55" fill="#6f6f6f"/>
<circle cx="185.8" cy="303.7" r="1.55" fill="#6f6f6f"/>
<circle cx="189.3" cy="302.5" r="1.55" fill="#6f6f6f"/>
<circle cx="192.2" cy="298.5" r="1.55" fill="#6f6f6f"/>
<circle cx="195" cy="295.6" r="1.55" fill="#6f6f6f"/>
<circle cx="197.3" cy="292.8" r="1.55" fill="#6f6f6f"/>
<circle cx="199.7" cy="289.8" r="1.55" fill="#6f6f6f"/>
<circle cx="201.5" cy="286.5" r="1.55" fill="#6f6f6f"/>
<circle cx="203.2" cy="282.9" r="1.55" fill="#6f6f6f"/>
<circle cx="206" cy="279" r="1.55" fill="#6f6f6f"/>
<circle cx="209" cy="274.7" r="1.55" fill="#6f6f6f"/>
<circle cx="211.3" cy="270.1" r="1.55" fill="#6f6f6f"/>
<circle cx="213.6" cy="265.5" r="1.55" fill="#6f6f6f"/>
<circle cx="215.9" cy="258.5" r="1.55" fill="#6f6f6f"/>
<circle cx="218.2" cy="252.7" r="1.55" fill="#6f6f6f"/>
<circle cx="220.4" cy="241.9" r="1.55" fill="#6f6f6f"/>
<circle cx="222.5" cy="232.3" r="1.55" fill="#6f6f6f"/>
<circle cx="224.8" cy="224.4" r="1.55" fill="#6f6f6f"/>
<circle cx="226.9" cy="217.9" r="1.55" fill="#6f6f6f"/>
<circle cx="229.2" cy="212.1" r="1.55" fill="#6f6f6f"/>
<circle cx="231.3" cy="203.9" r="1.55" fill="#6f6f6f"/>
<circle cx="234.4" cy="201.6" r="1.55" fill="#6f6f6f"/>
<circle cx="237.5" cy="201" r="1.55" fill="#6f6f6f"/>
<circle cx="240.9" cy="202.2" r="1.55" fill="#6f6f6f"/>
<circle cx="243.2" cy="205.1" r="1.55" fill="#6f6f6f"/>
<circle cx="245.6" cy="207.8" r="1.55" fill="#6f6f6f"/>
<circle cx="247.9" cy="210.4" r="1.55" fill="#6f6f6f"/>
<circle cx="250.2" cy="212.7" r="1.55" fill="#6f6f6f"/>
<circle cx="252.3" cy="219.1" r="1.55" fill="#6f6f6f"/>
<circle cx="254.4" cy="227" r="1.55" fill="#6f6f6f"/>
<circle cx="256.6" cy="230.9" r="1.55" fill="#6f6f6f"/>
<circle cx="258.9" cy="236.6" r="1.55" fill="#6f6f6f"/>
<circle cx="260.7" cy="247.1" r="1.55" fill="#6f6f6f"/>
<circle cx="262.8" cy="256.2" r="1.55" fill="#6f6f6f"/>
<circle cx="265.5" cy="262" r="1.55" fill="#6f6f6f"/>
<circle cx="268.6" cy="267.8" r="1.55" fill="#6f6f6f"/>
<circle cx="272" cy="274" r="1.55" fill="#6f6f6f"/>
<circle cx="275.5" cy="278.2" r="1.55" fill="#6f6f6f"/>
<circle cx="279" cy="280" r="1.55" fill="#6f6f6f"/>
<circle cx="283" cy="281" r="1.55" fill="#6f6f6f"/>
<circle cx="286.8" cy="281.9" r="1.55" fill="#6f6f6f"/>
<circle cx="291.8" cy="286.3" r="1.55" fill="#6f6f6f"/>
<circle cx="295.2" cy="285.2" r="1.55" fill="#6f6f6f"/>
<line x1="211.3" y1="292.1" x2="206.2" y2="308" stroke="#1a1a1a" stroke-width="0.8"/>
<circle cx="199.2" cy="315.3" r="2.5" fill="url(#gH)"/>
<circle cx="210.8" cy="315" r="2.5" fill="url(#gH)"/>
<circle cx="205" cy="315.3" r="4" fill="url(#gO)"/>
<line x1="236.2" y1="281.7" x2="237.8" y2="301" stroke="#1a1a1a" stroke-width="0.8"/>
<circle cx="233.6" cy="306" r="2.5" fill="url(#gH)"/>
<circle cx="245" cy="305.5" r="2.5" fill="url(#gH)"/>
<circle cx="239.4" cy="305.8" r="4" fill="url(#gO)"/>
<line x1="242.5" y1="309" x2="246.5" y2="313.5" stroke="#222" stroke-width="0.7" stroke-dasharray="0.8 0.6"/>
<circle cx="244.3" cy="315.5" r="2.5" fill="url(#gH)"/>
<circle cx="255.8" cy="314.8" r="2.5" fill="url(#gH)"/>
<circle cx="250" cy="316.2" r="4" fill="url(#gO)"/>
<line x1="269.3" y1="275.9" x2="270.2" y2="293.3" stroke="#1a1a1a" stroke-width="0.8"/>
<circle cx="266" cy="300.7" r="2.5" fill="url(#gH)"/>
<circle cx="277.8" cy="300.7" r="2.5" fill="url(#gH)"/>
<circle cx="272" cy="300.7" r="4.4" fill="url(#gO)"/>
<circle cx="272" cy="300.3" r="2.73" fill="url(#gH)"/>
<line x1="180.2" y1="176.4" x2="297.6" y2="176.4" stroke="#333" stroke-width="1"/>
<line x1="297.6" y1="176.4" x2="297.6" y2="324.5" stroke="#333" stroke-width="1.1"/>
<line x1="180.2" y1="176.4" x2="180.2" y2="324.5" stroke="#333" stroke-width="1.1"/>
<line x1="179.7" y1="324.5" x2="298.1" y2="324.5" stroke="#444" stroke-width="1.2"/>
<line x1="180.6" y1="324.5" x2="180.6" y2="326.9" stroke="#444" stroke-width="0.8"/>
<text x="180.6" y="335.2" font-size="7.6" text-anchor="middle" fill="#1a1a1a">1550</text>
<line x1="195.22" y1="324.5" x2="195.22" y2="325.9" stroke="#444" stroke-width="0.8"/>
<line x1="209.85" y1="324.5" x2="209.85" y2="326.9" stroke="#444" stroke-width="0.8"/>
<text x="209.85" y="335.2" font-size="7.6" text-anchor="middle" fill="#1a1a1a">1600</text>
<line x1="224.47" y1="324.5" x2="224.47" y2="325.9" stroke="#444" stroke-width="0.8"/>
<line x1="239.1" y1="324.5" x2="239.1" y2="326.9" stroke="#444" stroke-width="0.8"/>
<text x="239.1" y="335.2" font-size="7.6" text-anchor="middle" fill="#1a1a1a">1650</text>
<line x1="253.72" y1="324.5" x2="253.72" y2="325.9" stroke="#444" stroke-width="0.8"/>
<line x1="268.35" y1="324.5" x2="268.35" y2="326.9" stroke="#444" stroke-width="0.8"/>
<text x="268.35" y="335.2" font-size="7.6" text-anchor="middle" fill="#1a1a1a">1700</text>
<line x1="282.98" y1="324.5" x2="282.98" y2="325.9" stroke="#444" stroke-width="0.8"/>
<line x1="297.6" y1="324.5" x2="297.6" y2="326.9" stroke="#444" stroke-width="0.8"/>
<text x="297.6" y="335.2" font-size="7.6" text-anchor="middle" fill="#1a1a1a">1750</text>
<text x="202.9" y="345.4" font-size="8.0" fill="#1a1a1a">Wavenumber (cm<tspan baseline-shift="2.8" font-size="5.6">&#8722;1</tspan>)</text>
<text x="175.2" y="305.2" font-size="8.2" fill="#1a1a1a" transform="rotate(-90 175.2 305.2)">Intensity (arb. units)</text>
<text x="162.4" y="182" font-size="14" font-weight="bold" fill="#000">d</text>
<text x="173.1" y="221" font-size="7.8" fill="#1a1a1a" transform="rotate(-90 173.1 221)">2.5&#215;10<tspan baseline-shift="2.8" font-size="5.4">-3</tspan></text>
<line x1="177.3" y1="203.3" x2="177.3" y2="211.4" stroke="#222" stroke-width="0.9"/>
<text x="182.4" y="184.4" font-size="7.6" fill="#1a1a1a">NiPc@CNT</text>
<text x="219.3" y="192.9" font-size="7.6" fill="#1a1a1a">H-bonded water</text>
<text x="183.6" y="237.8" font-size="7.6" fill="#1a1a1a">Free water</text>
<text x="255.2" y="206.2" font-size="7.6" fill="#1a1a1a">Protonated</text>
<text x="255.2" y="217.2" font-size="7.6" fill="#1a1a1a">water(H<tspan baseline-shift="-1.6" font-size="5.2">3</tspan>O<tspan baseline-shift="3.0" font-size="5.2">+</tspan>)</text>
<line x1="351.6" y1="176.4" x2="485.3" y2="176.4" stroke="#333" stroke-width="1"/>
<line x1="485.3" y1="176.4" x2="485.3" y2="326.4" stroke="#333" stroke-width="1.1"/>
<line x1="351.6" y1="176.4" x2="351.6" y2="326.4" stroke="#333" stroke-width="1.1"/>
<line x1="351.1" y1="326.4" x2="485.8" y2="326.4" stroke="#333" stroke-width="1.2"/>
<line x1="351.6" y1="326.4" x2="353.8" y2="326.4" stroke="#333" stroke-width="0.8"/>
<text x="348" y="329.3" font-size="8" text-anchor="end" fill="#1a1a1a">0.10</text>
<line x1="351.6" y1="311.4" x2="352.9" y2="311.4" stroke="#333" stroke-width="0.8"/>
<line x1="351.6" y1="296.4" x2="353.8" y2="296.4" stroke="#333" stroke-width="0.8"/>
<text x="348" y="299.3" font-size="8" text-anchor="end" fill="#1a1a1a">0.15</text>
<line x1="351.6" y1="281.4" x2="352.9" y2="281.4" stroke="#333" stroke-width="0.8"/>
<line x1="351.6" y1="266.4" x2="353.8" y2="266.4" stroke="#333" stroke-width="0.8"/>
<text x="348" y="269.3" font-size="8" text-anchor="end" fill="#1a1a1a">0.20</text>
<line x1="351.6" y1="251.4" x2="352.9" y2="251.4" stroke="#333" stroke-width="0.8"/>
<line x1="351.6" y1="236.4" x2="353.8" y2="236.4" stroke="#333" stroke-width="0.8"/>
<text x="348" y="239.3" font-size="8" text-anchor="end" fill="#1a1a1a">0.25</text>
<line x1="351.6" y1="221.4" x2="352.9" y2="221.4" stroke="#333" stroke-width="0.8"/>
<line x1="351.6" y1="206.4" x2="353.8" y2="206.4" stroke="#333" stroke-width="0.8"/>
<text x="348" y="209.3" font-size="8" text-anchor="end" fill="#1a1a1a">0.30</text>
<line x1="351.6" y1="191.4" x2="352.9" y2="191.4" stroke="#333" stroke-width="0.8"/>
<line x1="351.6" y1="176.4" x2="353.8" y2="176.4" stroke="#333" stroke-width="0.8"/>
<text x="348" y="179.3" font-size="8" text-anchor="end" fill="#1a1a1a">0.35</text>
<line x1="351.6" y1="326.4" x2="351.6" y2="324.2" stroke="#333" stroke-width="0.8"/>
<text x="351.6" y="336.9" font-size="8" text-anchor="middle" fill="#1a1a1a">0.0</text>
<line x1="366.4" y1="326.4" x2="366.4" y2="325.1" stroke="#333" stroke-width="0.8"/>
<line x1="381.2" y1="326.4" x2="381.2" y2="324.2" stroke="#333" stroke-width="0.8"/>
<text x="381.2" y="336.9" font-size="8" text-anchor="middle" fill="#1a1a1a">-0.4</text>
<line x1="396" y1="326.4" x2="396" y2="325.1" stroke="#333" stroke-width="0.8"/>
<line x1="410.8" y1="326.4" x2="410.8" y2="324.2" stroke="#333" stroke-width="0.8"/>
<text x="410.8" y="336.9" font-size="8" text-anchor="middle" fill="#1a1a1a">-0.8</text>
<line x1="425.6" y1="326.4" x2="425.6" y2="325.1" stroke="#333" stroke-width="0.8"/>
<line x1="440.4" y1="326.4" x2="440.4" y2="324.2" stroke="#333" stroke-width="0.8"/>
<text x="440.4" y="336.9" font-size="8" text-anchor="middle" fill="#1a1a1a">-1.2</text>
<line x1="455.2" y1="326.4" x2="455.2" y2="325.1" stroke="#333" stroke-width="0.8"/>
<line x1="470" y1="326.4" x2="470" y2="324.2" stroke="#333" stroke-width="0.8"/>
<text x="470" y="336.9" font-size="8" text-anchor="middle" fill="#1a1a1a">-1.6</text>
<line x1="484.8" y1="326.4" x2="484.8" y2="325.1" stroke="#333" stroke-width="0.8"/>
<text x="395.8" y="348.4" font-size="8.1" fill="#1a1a1a">E (V vs. RHE)</text>
<text x="309.8" y="181.8" font-size="14" font-weight="bold" fill="#000">e</text>
<text x="317.5" y="261.2" font-size="8.1" text-anchor="middle" fill="#1a1a1a" transform="rotate(-90 317.5 261.2)">Area ratio of</text>
<text x="328.8" y="262" font-size="8.2" text-anchor="middle" fill="#1a1a1a" transform="rotate(-90 328.8 262)">protonated water / (free water+H-bonded water)</text>
<circle cx="456.2" cy="256.5" r="14.8" fill="#fae0d2"/>
<text x="447.3" y="252.6" font-size="9.0" fill="#1a1a1a">H<tspan baseline-shift="-2.0" font-size="6.2">3</tspan>O<tspan baseline-shift="3.6" font-size="6.2">+</tspan></text>
<rect x="420.6" y="284.1" width="64.2" height="6.8" fill="url(#gRowB)"/>
<circle cx="424" cy="287.2" r="3.3" fill="url(#gSphB)"/>
<circle cx="431" cy="287.2" r="3.3" fill="url(#gSphB)"/>
<circle cx="438" cy="287.2" r="3.3" fill="url(#gSphB)"/>
<circle cx="445" cy="287.2" r="3.3" fill="url(#gSphB)"/>
<circle cx="452" cy="287.2" r="3.3" fill="url(#gSphB)"/>
<circle cx="459" cy="287.2" r="3.3" fill="url(#gSphB)"/>
<circle cx="466" cy="287.2" r="3.3" fill="url(#gSphB)"/>
<circle cx="473" cy="287.2" r="3.3" fill="url(#gSphB)"/>
<circle cx="480" cy="287.2" r="3.3" fill="url(#gSphB)"/>
<rect x="420.6" y="274.7" width="64.2" height="7.6" fill="url(#gRowT)"/>
<circle cx="424.3" cy="278.5" r="3.8" fill="url(#gSphT)"/>
<circle cx="431.5" cy="278.5" r="3.8" fill="url(#gSphT)"/>
<circle cx="438.7" cy="278.5" r="3.8" fill="url(#gSphT)"/>
<circle cx="467.5" cy="278.5" r="3.8" fill="url(#gSphT)"/>
<circle cx="474.7" cy="278.5" r="3.8" fill="url(#gSphT)"/>
<circle cx="481.9" cy="278.5" r="3.8" fill="url(#gSphT)"/>
<circle cx="452.8" cy="276.7" r="6" fill="url(#gNis)"/>
<circle cx="441.6" cy="278.3" r="3.9" fill="url(#gN2)"/>
<circle cx="464" cy="278.3" r="3.9" fill="url(#gN2)"/>
<circle cx="442.9" cy="278.7" r="2.9" fill="#6a6a6a"/>
<circle cx="462.7" cy="278.7" r="2.9" fill="#6a6a6a"/>
<circle cx="442.9" cy="278.7" r="2.9" fill="url(#gSphT)"/>
<circle cx="462.7" cy="278.7" r="2.9" fill="url(#gSphT)"/>
<circle cx="448.6" cy="278.7" r="4.3" fill="url(#gSphC)"/>
<circle cx="457" cy="278.7" r="4.3" fill="url(#gSphC)"/>
<circle cx="446.8" cy="260.4" r="3" fill="url(#gH)"/>
<circle cx="461.6" cy="260.4" r="3" fill="url(#gH)"/>
<circle cx="454.3" cy="260.4" r="5.3" fill="url(#gO)"/>
<circle cx="454.3" cy="260" r="3.29" fill="url(#gH)"/>
<path d="M366.1 259.6 L366.1 259.6 L366.11 259.59 L366.14 259.57 L366.19 259.52 L366.28 259.44 L366.41 259.32 L366.59 259.16 L366.83 258.94 L367.14 258.66 L367.53 258.31 L368 257.88 L368.57 257.37 L369.23 256.77 L369.99 256.09 L370.84 255.38 L371.76 254.63 L372.76 253.89 L373.81 253.16 L374.91 252.49 L376.06 251.87 L377.24 251.35 L378.44 250.94 L379.67 250.67 L380.9 250.55 L382.13 250.61 L383.37 250.81 L384.6 251.14 L385.83 251.55 L387.07 252.01 L388.3 252.5 L389.54 252.98 L390.78 253.43 L392.01 253.8 L393.25 254.06 L394.49 254.2 L395.73 254.17 L396.98 253.95 L398.22 253.56 L399.46 253.02 L400.71 252.36 L401.95 251.61 L403.2 250.79 L404.45 249.93 L405.69 249.04 L406.94 248.17 L408.18 247.33 L409.42 246.55 L410.67 245.85 L411.91 245.26 L413.15 244.76 L414.39 244.36 L415.62 244.04 L416.86 243.78 L418.1 243.58 L419.33 243.43 L420.57 243.31 L421.8 243.22 L423.03 243.14 L424.27 243.06 L425.5 242.98 L426.73 242.89 L427.97 242.76 L429.2 242.59 L430.44 242.36 L431.67 242.07 L432.91 241.7 L434.15 241.24 L435.39 240.68 L436.63 240 L437.87 239.19 L439.12 238.24 L440.37 237.13 L441.62 235.87 L442.87 234.46 L444.13 232.92 L445.39 231.26 L446.65 229.5 L447.91 227.67 L449.17 225.77 L450.43 223.82 L451.69 221.84 L452.96 219.85 L454.22 217.87 L455.48 215.9 L456.74 213.97 L458 212.09 L459.23 210.26 L460.44 208.49 L461.61 206.8 L462.73 205.19 L463.81 203.67 L464.82 202.26 L465.76 200.94 L466.63 199.75 L467.4 198.68 L468.08 197.75 L468.66 196.96 L469.14 196.3 L469.54 195.76 L469.85 195.32 L470.1 194.98 L470.29 194.73 L470.42 194.55 L470.51 194.43 L470.56 194.35 L470.59 194.32 L470.6 194.3 L470.6 194.3" stroke="#1fcbd3" stroke-width="1.0" fill="none"/>
<path d="M366.3 291.5 L367.18 290.88 L368.31 289.97 L369.65 288.86 L371.15 287.63 L372.77 286.36 L374.46 285.14 L376.19 284.06 L377.9 283.18 L379.55 282.6 L381.1 282.4 L382.59 282.56 L384.08 283 L385.57 283.67 L387.06 284.54 L388.56 285.56 L390.05 286.71 L391.54 287.95 L393.03 289.23 L394.52 290.53 L396 291.8 L397.48 293.2 L398.95 294.87 L400.41 296.71 L401.88 298.65 L403.34 300.58 L404.8 302.43 L406.27 304.12 L407.74 305.55 L409.21 306.64 L410.7 307.3 L412.2 307.48 L413.7 307.23 L415.21 306.64 L416.73 305.79 L418.24 304.78 L419.76 303.69 L421.28 302.59 L422.79 301.59 L424.3 300.76 L425.8 300.2 L427.29 299.84 L428.78 299.56 L430.26 299.36 L431.74 299.22 L433.21 299.14 L434.69 299.1 L436.16 299.09 L437.64 299.12 L439.12 299.16 L440.6 299.2 L442.09 299.27 L443.57 299.39 L445.06 299.54 L446.55 299.73 L448.04 299.94 L449.54 300.16 L451.03 300.4 L452.52 300.64 L454.01 300.88 L455.5 301.1 L457.06 301.33 L458.72 301.59 L460.44 301.86 L462.18 302.14 L463.88 302.42 L465.51 302.69 L467.03 302.94 L468.37 303.17 L469.51 303.35 L470.4 303.5" stroke="#2a7dbf" stroke-width="1.0" fill="none"/>
<circle cx="366.1" cy="259.6" r="2.8" fill="#1fcbd3"/>
<circle cx="380.9" cy="246.2" r="2.8" fill="#1fcbd3"/>
<circle cx="395.7" cy="258.9" r="2.8" fill="#1fcbd3"/>
<circle cx="410.7" cy="243.2" r="2.8" fill="#1fcbd3"/>
<circle cx="425.5" cy="243.4" r="2.8" fill="#1fcbd3"/>
<circle cx="440.3" cy="241.1" r="2.8" fill="#1fcbd3"/>
<circle cx="455.5" cy="215" r="2.8" fill="#1fcbd3"/>
<circle cx="470.6" cy="194.3" r="2.8" fill="#1fcbd3"/>
<rect x="363.9" y="289.1" width="4.8" height="4.8" fill="#1a64ad"/>
<rect x="378.7" y="280" width="4.8" height="4.8" fill="#1a64ad"/>
<rect x="393.6" y="289.4" width="4.8" height="4.8" fill="#1a64ad"/>
<rect x="408.3" y="304.9" width="4.8" height="4.8" fill="#1a64ad"/>
<rect x="423.4" y="297.8" width="4.8" height="4.8" fill="#1a64ad"/>
<rect x="438.2" y="296.8" width="4.8" height="4.8" fill="#1a64ad"/>
<rect x="453.1" y="298.7" width="4.8" height="4.8" fill="#1a64ad"/>
<rect x="468" y="301.1" width="4.8" height="4.8" fill="#1a64ad"/>
<line x1="355.1" y1="194.5" x2="370.4" y2="194.5" stroke="#2a7dbf" stroke-width="1.0"/>
<rect x="360.5" y="192.2" width="4.6" height="4.6" fill="#1a64ad"/>
<text x="372.6" y="196.9" font-size="7.6" fill="#1a1a1a">NiPc-NH<tspan baseline-shift="-1.6" font-size="5.2">2</tspan>/CNT-SHP</text>
<line x1="355.1" y1="204.7" x2="370.4" y2="204.7" stroke="#1fcbd3" stroke-width="1.0"/>
<circle cx="362.8" cy="204.7" r="2.6" fill="#1fcbd3"/>
<text x="372.6" y="207.2" font-size="7.6" fill="#1a1a1a">NiPc@CNT</text>
<line x1="543.9" y1="174.7" x2="677.7" y2="174.7" stroke="#333" stroke-width="1"/>
<line x1="677.7" y1="174.7" x2="677.7" y2="323.1" stroke="#333" stroke-width="1.1"/>
<line x1="543.9" y1="174.7" x2="543.9" y2="323.1" stroke="#333" stroke-width="1.1"/>
<line x1="543.4" y1="323.1" x2="678.2" y2="323.1" stroke="#333" stroke-width="1.2"/>
<line x1="543.9" y1="323.1" x2="546.1" y2="323.1" stroke="#333" stroke-width="0.8"/>
<text x="540.6" y="326" font-size="8" text-anchor="end" fill="#1a1a1a">0.0</text>
<line x1="543.9" y1="311.72" x2="545.2" y2="311.72" stroke="#333" stroke-width="0.8"/>
<line x1="543.9" y1="300.33" x2="546.1" y2="300.33" stroke="#333" stroke-width="0.8"/>
<text x="540.6" y="303.23" font-size="8" text-anchor="end" fill="#1a1a1a">0.2</text>
<line x1="543.9" y1="288.95" x2="545.2" y2="288.95" stroke="#333" stroke-width="0.8"/>
<line x1="543.9" y1="277.56" x2="546.1" y2="277.56" stroke="#333" stroke-width="0.8"/>
<text x="540.6" y="280.46" font-size="8" text-anchor="end" fill="#1a1a1a">0.4</text>
<line x1="543.9" y1="266.18" x2="545.2" y2="266.18" stroke="#333" stroke-width="0.8"/>
<line x1="543.9" y1="254.79" x2="546.1" y2="254.79" stroke="#333" stroke-width="0.8"/>
<text x="540.6" y="257.69" font-size="8" text-anchor="end" fill="#1a1a1a">0.6</text>
<line x1="543.9" y1="243.41" x2="545.2" y2="243.41" stroke="#333" stroke-width="0.8"/>
<line x1="543.9" y1="232.02" x2="546.1" y2="232.02" stroke="#333" stroke-width="0.8"/>
<text x="540.6" y="234.92" font-size="8" text-anchor="end" fill="#1a1a1a">0.8</text>
<line x1="543.9" y1="220.64" x2="545.2" y2="220.64" stroke="#333" stroke-width="0.8"/>
<line x1="543.9" y1="209.25" x2="546.1" y2="209.25" stroke="#333" stroke-width="0.8"/>
<text x="540.6" y="212.15" font-size="8" text-anchor="end" fill="#1a1a1a">1.0</text>
<line x1="543.9" y1="197.87" x2="545.2" y2="197.87" stroke="#333" stroke-width="0.8"/>
<line x1="543.9" y1="186.48" x2="546.1" y2="186.48" stroke="#333" stroke-width="0.8"/>
<text x="540.6" y="189.38" font-size="8" text-anchor="end" fill="#1a1a1a">1.2</text>
<line x1="543.9" y1="175.1" x2="545.2" y2="175.1" stroke="#333" stroke-width="0.8"/>
<line x1="543.9" y1="323.1" x2="543.9" y2="320.9" stroke="#333" stroke-width="0.8"/>
<text x="543.9" y="334.6" font-size="8" text-anchor="middle" fill="#1a1a1a">0.0</text>
<line x1="558.7" y1="323.1" x2="558.7" y2="321.8" stroke="#333" stroke-width="0.8"/>
<line x1="573.5" y1="323.1" x2="573.5" y2="320.9" stroke="#333" stroke-width="0.8"/>
<text x="573.5" y="334.6" font-size="8" text-anchor="middle" fill="#1a1a1a">-0.4</text>
<line x1="588.3" y1="323.1" x2="588.3" y2="321.8" stroke="#333" stroke-width="0.8"/>
<line x1="603.1" y1="323.1" x2="603.1" y2="320.9" stroke="#333" stroke-width="0.8"/>
<text x="603.1" y="334.6" font-size="8" text-anchor="middle" fill="#1a1a1a">-0.8</text>
<line x1="617.9" y1="323.1" x2="617.9" y2="321.8" stroke="#333" stroke-width="0.8"/>
<line x1="632.7" y1="323.1" x2="632.7" y2="320.9" stroke="#333" stroke-width="0.8"/>
<text x="632.7" y="334.6" font-size="8" text-anchor="middle" fill="#1a1a1a">-1.2</text>
<line x1="647.5" y1="323.1" x2="647.5" y2="321.8" stroke="#333" stroke-width="0.8"/>
<line x1="662.3" y1="323.1" x2="662.3" y2="320.9" stroke="#333" stroke-width="0.8"/>
<text x="662.3" y="334.6" font-size="8" text-anchor="middle" fill="#1a1a1a">-1.6</text>
<line x1="677.1" y1="323.1" x2="677.1" y2="321.8" stroke="#333" stroke-width="0.8"/>
<text x="587.4" y="343.7" font-size="8.1" fill="#1a1a1a">E (V vs. RHE)</text>
<text x="508.6" y="180.2" font-size="14" font-weight="bold" fill="#000">f</text>
<text x="515.2" y="249.8" font-size="8.2" text-anchor="middle" fill="#1a1a1a" transform="rotate(-90 515.2 249.8)">Area ratio of</text>
<text x="526.3" y="249" font-size="8.2" text-anchor="middle" fill="#1a1a1a" transform="rotate(-90 526.3 249)">free water / H-bonded water</text>
<circle cx="637.6" cy="248.6" r="14.9" fill="#fae0d2"/>
<text x="629.6" y="245.4" font-size="9.0" fill="#1a1a1a">H<tspan baseline-shift="-2.0" font-size="6.2">2</tspan>O</text>
<rect x="602" y="280" width="68.6" height="6.8" fill="url(#gRowB)"/>
<circle cx="605.4" cy="283.1" r="3.3" fill="url(#gSphB)"/>
<circle cx="612.4" cy="283.1" r="3.3" fill="url(#gSphB)"/>
<circle cx="619.4" cy="283.1" r="3.3" fill="url(#gSphB)"/>
<circle cx="626.4" cy="283.1" r="3.3" fill="url(#gSphB)"/>
<circle cx="633.4" cy="283.1" r="3.3" fill="url(#gSphB)"/>
<circle cx="640.4" cy="283.1" r="3.3" fill="url(#gSphB)"/>
<circle cx="647.4" cy="283.1" r="3.3" fill="url(#gSphB)"/>
<circle cx="654.4" cy="283.1" r="3.3" fill="url(#gSphB)"/>
<circle cx="661.4" cy="283.1" r="3.3" fill="url(#gSphB)"/>
<circle cx="668.4" cy="283.1" r="3.3" fill="url(#gSphB)"/>
<rect x="602" y="270" width="68.6" height="7.6" fill="url(#gRowT)"/>
<circle cx="605.7" cy="273.8" r="3.8" fill="url(#gSphT)"/>
<circle cx="612.9" cy="273.8" r="3.8" fill="url(#gSphT)"/>
<circle cx="620.1" cy="273.8" r="3.8" fill="url(#gSphT)"/>
<circle cx="656.1" cy="273.8" r="3.8" fill="url(#gSphT)"/>
<circle cx="663.3" cy="273.8" r="3.8" fill="url(#gSphT)"/>
<circle cx="636.6" cy="272" r="6" fill="url(#gNis)"/>
<circle cx="625.4" cy="273.6" r="3.9" fill="url(#gN2)"/>
<circle cx="647.8" cy="273.6" r="3.9" fill="url(#gN2)"/>
<circle cx="626.7" cy="274" r="2.9" fill="#6a6a6a"/>
<circle cx="646.5" cy="274" r="2.9" fill="#6a6a6a"/>
<circle cx="626.7" cy="274" r="2.9" fill="url(#gSphT)"/>
<circle cx="646.5" cy="274" r="2.9" fill="url(#gSphT)"/>
<circle cx="632.4" cy="274" r="4.3" fill="url(#gSphC)"/>
<circle cx="640.8" cy="274" r="4.3" fill="url(#gSphC)"/>
<circle cx="630.8" cy="254.5" r="3" fill="url(#gH)"/>
<circle cx="645.2" cy="254.5" r="3" fill="url(#gH)"/>
<circle cx="638" cy="254.5" r="5.2" fill="url(#gO)"/>
<path d="M558.3 204.3 L559.2 204.3 L560.37 204.35 L561.74 204.44 L563.29 204.53 L564.95 204.59 L566.69 204.59 L568.46 204.51 L570.22 204.33 L571.91 204 L573.5 203.5 L575.02 202.75 L576.55 201.74 L578.07 200.54 L579.6 199.21 L581.13 197.82 L582.65 196.45 L584.17 195.16 L585.69 194.02 L587.2 193.12 L588.7 192.5 L590.2 192.12 L591.68 191.88 L593.17 191.77 L594.64 191.79 L596.12 191.94 L597.59 192.22 L599.07 192.62 L600.54 193.16 L602.02 193.82 L603.5 194.6 L604.99 195.61 L606.48 196.91 L607.98 198.42 L609.47 200.09 L610.97 201.83 L612.46 203.59 L613.96 205.29 L615.44 206.88 L616.93 208.27 L618.4 209.4 L619.86 210.3 L621.31 211.07 L622.76 211.71 L624.2 212.25 L625.63 212.69 L627.07 213.07 L628.51 213.39 L629.96 213.68 L631.42 213.94 L632.9 214.2 L634.39 214.43 L635.9 214.59 L637.43 214.7 L638.96 214.76 L640.49 214.78 L642.03 214.78 L643.56 214.76 L645.09 214.73 L646.6 214.71 L648.1 214.7 L649.65 214.69 L651.29 214.66 L652.98 214.61 L654.68 214.55 L656.35 214.48 L657.94 214.41 L659.41 214.34 L660.72 214.28 L661.83 214.23 L662.7 214.2" stroke="#2a7dbf" stroke-width="1.0" fill="none"/>
<path d="M558.3 291 L573.5 293.7 L588.3 295.2 L603.3 299 L618.1 303.5 L632.9 301.3 L647.9 311.7 L662.7 312.3" stroke="#1fcbd3" stroke-width="1.0" fill="none"/>
<circle cx="558.3" cy="291" r="2.8" fill="#1fcbd3"/>
<circle cx="573.5" cy="293.7" r="2.8" fill="#1fcbd3"/>
<circle cx="588.3" cy="295.2" r="2.8" fill="#1fcbd3"/>
<circle cx="603.3" cy="299" r="2.8" fill="#1fcbd3"/>
<circle cx="618.1" cy="303.5" r="2.8" fill="#1fcbd3"/>
<circle cx="632.9" cy="301.3" r="2.8" fill="#1fcbd3"/>
<circle cx="647.9" cy="311.7" r="2.8" fill="#1fcbd3"/>
<circle cx="662.7" cy="312.3" r="2.8" fill="#1fcbd3"/>
<rect x="555.9" y="201.9" width="4.8" height="4.8" fill="#1a64ad"/>
<rect x="571.1" y="201.1" width="4.8" height="4.8" fill="#1a64ad"/>
<rect x="586.3" y="190.1" width="4.8" height="4.8" fill="#1a64ad"/>
<rect x="601.1" y="192.2" width="4.8" height="4.8" fill="#1a64ad"/>
<rect x="616" y="207" width="4.8" height="4.8" fill="#1a64ad"/>
<rect x="630.5" y="211.8" width="4.8" height="4.8" fill="#1a64ad"/>
<rect x="645.7" y="212.3" width="4.8" height="4.8" fill="#1a64ad"/>
<rect x="660.3" y="211.8" width="4.8" height="4.8" fill="#1a64ad"/>
<line x1="549.5" y1="229.3" x2="563" y2="229.3" stroke="#2a7dbf" stroke-width="1.0"/>
<rect x="553.9" y="227.0" width="4.6" height="4.6" fill="#1a64ad"/>
<text x="566.6" y="231.7" font-size="7.6" fill="#1a1a1a">NiPc-NH<tspan baseline-shift="-1.6" font-size="5.2">2</tspan>/CNT-SHP</text>
<line x1="549.5" y1="240.2" x2="563" y2="240.2" stroke="#1fcbd3" stroke-width="1.0"/>
<circle cx="556.2" cy="240.2" r="2.6" fill="#1fcbd3"/>
<text x="566.6" y="242.7" font-size="7.6" fill="#1a1a1a">NiPc@CNT</text>
<circle cx="26" cy="364.2" r="2.6" fill="url(#gH)"/>
<circle cx="37.2" cy="364.2" r="2.6" fill="url(#gH)"/>
<circle cx="31.6" cy="364" r="4.1" fill="url(#gO)"/>
<text x="42.2" y="366.9" font-size="7.7" fill="#1a1a1a">H<tspan baseline-shift="-1.6" font-size="5.4">2</tspan>O</text>
<circle cx="69.4" cy="364" r="2.5" fill="url(#gH)"/>
<circle cx="81.2" cy="364" r="2.5" fill="url(#gH)"/>
<circle cx="75.4" cy="364" r="4.4" fill="url(#gO)"/>
<circle cx="75.4" cy="363.6" r="2.73" fill="url(#gH)"/>
<text x="86" y="366.9" font-size="7.7" fill="#1a1a1a">H<tspan baseline-shift="-1.6" font-size="5.4">3</tspan>O<tspan baseline-shift="3.0" font-size="5.4">+</tspan></text>
<circle cx="117.5" cy="364" r="4.7" fill="url(#gNi)"/>
<text x="123.6" y="366.9" font-size="7.7" fill="#1a1a1a">Ni catalytic site</text>
<circle cx="189.5" cy="364.8" r="4.9" fill="url(#gN)"/>
<text x="196.4" y="367.2" font-size="7.7" fill="#1a1a1a">N</text>
<circle cx="219.2" cy="364.8" r="5" fill="url(#gC)"/>
<text x="226" y="367.2" font-size="7.7" fill="#1a1a1a">C</text>
<circle cx="246.3" cy="364.8" r="5" fill="url(#gHl)"/>
<text x="254.2" y="367.2" font-size="7.7" fill="#1a1a1a">H</text>
<circle cx="272" cy="364.8" r="5.3" fill="url(#gOl)"/>
<text x="280" y="367.4" font-size="7.7" fill="#1a1a1a">O</text>
</svg>
</body></html>
